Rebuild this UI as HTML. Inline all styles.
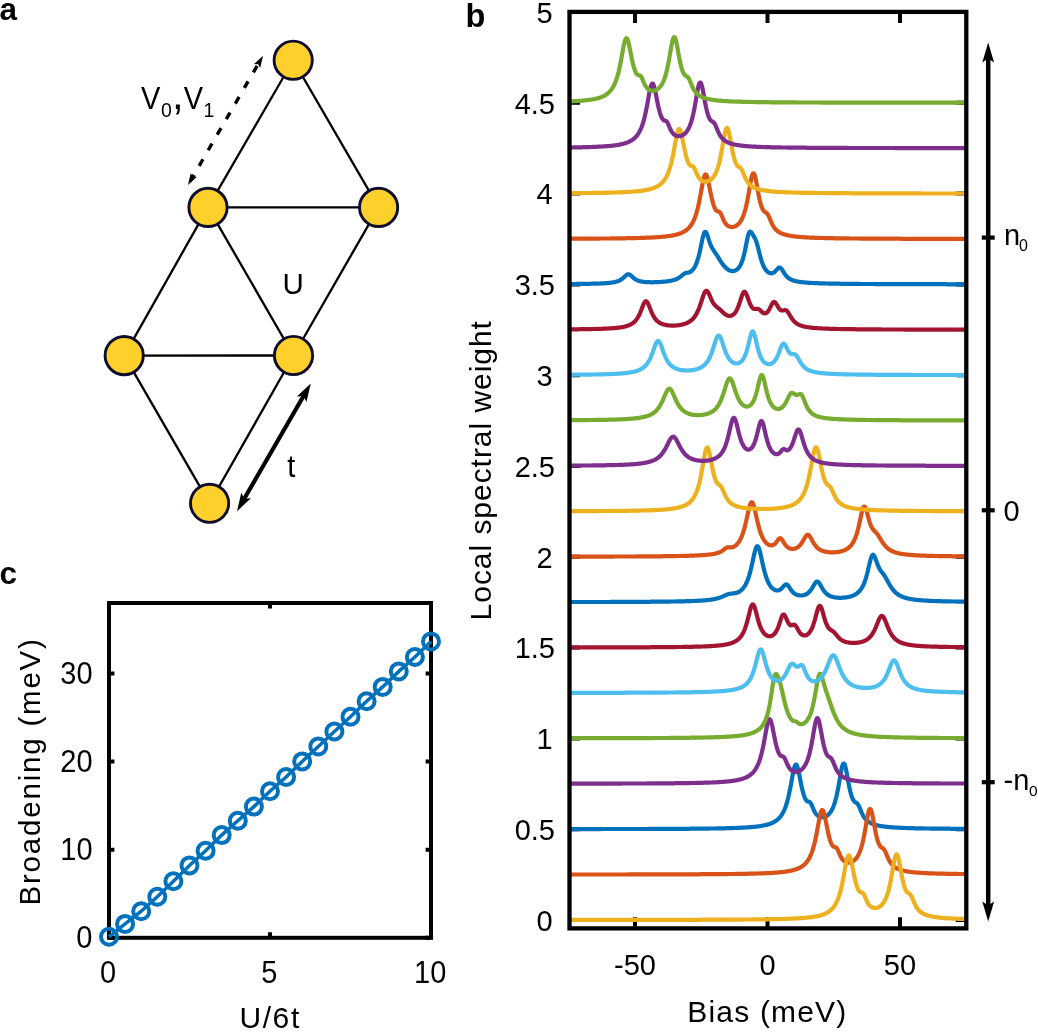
<!DOCTYPE html>
<html><head><meta charset="utf-8"><style>
html,body{margin:0;padding:0;background:#fff;}
body{width:1038px;height:1033px;overflow:hidden;font-family:"Liberation Sans",sans-serif;}
svg{display:block;will-change:transform;}
</style></head><body>
<svg width="1038" height="1033" viewBox="0 0 1038 1033">
<rect width="100%" height="100%" fill="#fff"/>
<g font-family="Liberation Sans, sans-serif" fill="#000">
<text x="-0.5" y="20.3" font-size="31.5" text-anchor="start" font-weight="bold" >a</text>
<line x1="293.2" y1="60.25" x2="208" y2="207.4" stroke="#000" stroke-width="2.3"/>
<line x1="293.2" y1="60.25" x2="378.6" y2="207.4" stroke="#000" stroke-width="2.3"/>
<line x1="208" y1="207.4" x2="378.6" y2="207.4" stroke="#000" stroke-width="2.3"/>
<line x1="208" y1="207.4" x2="124.2" y2="355.6" stroke="#000" stroke-width="2.3"/>
<line x1="208" y1="207.4" x2="293.5" y2="355.5" stroke="#000" stroke-width="2.3"/>
<line x1="378.6" y1="207.4" x2="293.5" y2="355.5" stroke="#000" stroke-width="2.3"/>
<line x1="124.2" y1="355.6" x2="293.5" y2="355.5" stroke="#000" stroke-width="2.3"/>
<line x1="124.2" y1="355.6" x2="209.6" y2="503.3" stroke="#000" stroke-width="2.3"/>
<line x1="293.5" y1="355.5" x2="209.6" y2="503.3" stroke="#000" stroke-width="2.3"/>
<circle cx="293.2" cy="60.25" r="19.1" fill="#FDD02C" stroke="#0f0c2c" stroke-width="2.9"/>
<circle cx="208" cy="207.4" r="19.1" fill="#FDD02C" stroke="#0f0c2c" stroke-width="2.9"/>
<circle cx="378.6" cy="207.4" r="19.1" fill="#FDD02C" stroke="#0f0c2c" stroke-width="2.9"/>
<circle cx="124.2" cy="355.6" r="19.1" fill="#FDD02C" stroke="#0f0c2c" stroke-width="2.9"/>
<circle cx="293.5" cy="355.5" r="19.1" fill="#FDD02C" stroke="#0f0c2c" stroke-width="2.9"/>
<circle cx="209.6" cy="503.3" r="19.1" fill="#FDD02C" stroke="#0f0c2c" stroke-width="2.9"/>
<line x1="243.50" y1="500.04" x2="304.25" y2="394.76" stroke="#000" stroke-width="4.2"/>
<path d="M310.75,383.50 L306.46,402.04 L303.47,396.11 L296.85,396.49 Z" fill="#000"/>
<path d="M237.00,511.30 L241.29,492.76 L244.28,498.69 L250.90,498.31 Z" fill="#000"/>
<line x1="190.11" y1="181.37" x2="257.78" y2="64.79" stroke="#000" stroke-width="3.4" stroke-dasharray="7.6 10.4"/>
<path d="M263.00,55.80 L260.29,67.64 L258.05,64.33 L254.06,64.02 Z" fill="#000"/>
<path d="M188.00,185.00 L190.71,173.16 L192.95,176.47 L196.94,176.78 Z" fill="#000"/>
<text x="141" y="109" font-size="29" text-anchor="start" font-weight="normal" transform="matrix(1 0 0 1.05 0 -5.450)" >V</text>
<text x="161" y="117" font-size="19.5" text-anchor="start" font-weight="normal" >0</text>
<text x="172" y="108.9" font-size="42" text-anchor="start" font-weight="normal" >,</text>
<text x="183.7" y="109" font-size="29" text-anchor="start" font-weight="normal" transform="matrix(1 0 0 1.05 0 -5.450)" >V</text>
<text x="203.6" y="117" font-size="19.5" text-anchor="start" font-weight="normal" >1</text>
<text x="293.2" y="294" font-size="29.5" text-anchor="middle" font-weight="normal" >U</text>
<text x="291.2" y="476.6" font-size="29" text-anchor="middle" font-weight="normal" transform="matrix(1 0 0 1.08 0 -38.128)" >t</text>
<text x="465.5" y="26.6" font-size="32.5" text-anchor="start" font-weight="bold" >b</text>
<path d="M569.5,920.00h10.5 M966.3,920.00h-10.5 M569.5,829.20h10.5 M966.3,829.20h-10.5 M569.5,738.40h10.5 M966.3,738.40h-10.5 M569.5,647.60h10.5 M966.3,647.60h-10.5 M569.5,556.80h10.5 M966.3,556.80h-10.5 M569.5,466.00h10.5 M966.3,466.00h-10.5 M569.5,375.20h10.5 M966.3,375.20h-10.5 M569.5,284.40h10.5 M966.3,284.40h-10.5 M569.5,193.60h10.5 M966.3,193.60h-10.5 M569.5,102.80h10.5 M966.3,102.80h-10.5 M569.5,12.00h10.5 M966.3,12.00h-10.5 M635.00,928.4v-11.2 M635.00,11.9v11.2 M767.50,928.4v-11.2 M767.50,11.9v11.2 M900.00,928.4v-11.2 M900.00,11.9v11.2" stroke="#000" stroke-width="4" fill="none"/>
<polyline points="569.5,829.1 570,829.1 570.5,829.1 571,829.1 571.5,829.1 572,829.1 572.5,829.1 573,829.1 573.5,829.1 574,829.1 574.5,829.1 575,829.1 575.5,829.1 576,829.1 576.5,829.1 577,829.1 577.5,829.1 578,829.1 578.5,829.1 579,829.1 579.5,829.1 580,829.1 580.5,829.1 581,829.1 581.5,829.1 582,829.1 582.5,829.1 583,829.1 583.5,829.1 584,829.1 584.5,829.1 585,829.1 585.5,829.1 586,829.1 586.5,829.1 587,829.1 587.5,829.1 588,829.1 588.5,829.1 589,829.1 589.5,829.1 590,829.1 590.5,829.1 591,829.1 591.5,829.1 592,829.1 592.5,829.1 593,829.1 593.5,829.1 594,829.1 594.5,829.1 595,829.1 595.5,829.1 596,829.1 596.5,829.1 597,829.1 597.5,829.1 598,829.1 598.5,829.1 599,829.1 599.5,829.1 600,829.1 600.5,829.1 601,829.1 601.5,829.0 602,829.0 602.5,829.0 603,829.0 603.5,829.0 604,829.0 604.5,829.0 605,829.0 605.5,829.0 606,829.0 606.5,829.0 607,829.0 607.5,829.0 608,829.0 608.5,829.0 609,829.0 609.5,829.0 610,829.0 610.5,829.0 611,829.0 611.5,829.0 612,829.0 612.5,829.0 613,829.0 613.5,829.0 614,829.0 614.5,829.0 615,829.0 615.5,829.0 616,829.0 616.5,829.0 617,829.0 617.5,829.0 618,829.0 618.5,829.0 619,829.0 619.5,829.0 620,829.0 620.5,829.0 621,829.0 621.5,829.0 622,829.0 622.5,829.0 623,829.0 623.5,829.0 624,829.0 624.5,829.0 625,829.0 625.5,829.0 626,829.0 626.5,829.0 627,829.0 627.5,829.0 628,829.0 628.5,829.0 629,829.0 629.5,829.0 630,829.0 630.5,829.0 631,829.0 631.5,829.0 632,829.0 632.5,829.0 633,829.0 633.5,829.0 634,829.0 634.5,829.0 635,829.0 635.5,829.0 636,829.0 636.5,829.0 637,829.0 637.5,829.0 638,829.0 638.5,829.0 639,829.0 639.5,829.0 640,829.0 640.5,829.0 641,829.0 641.5,829.0 642,829.0 642.5,829.0 643,829.0 643.5,829.0 644,829.0 644.5,829.0 645,829.0 645.5,829.0 646,829.0 646.5,829.0 647,829.0 647.5,829.0 648,829.0 648.5,829.0 649,828.9 649.5,828.9 650,828.9 650.5,828.9 651,828.9 651.5,828.9 652,828.9 652.5,828.9 653,828.9 653.5,828.9 654,828.9 654.5,828.9 655,828.9 655.5,828.9 656,828.9 656.5,828.9 657,828.9 657.5,828.9 658,828.9 658.5,828.9 659,828.9 659.5,828.9 660,828.9 660.5,828.9 661,828.9 661.5,828.9 662,828.9 662.5,828.9 663,828.9 663.5,828.9 664,828.9 664.5,828.9 665,828.9 665.5,828.9 666,828.9 666.5,828.9 667,828.9 667.5,828.9 668,828.9 668.5,828.9 669,828.9 669.5,828.9 670,828.9 670.5,828.9 671,828.9 671.5,828.9 672,828.9 672.5,828.9 673,828.9 673.5,828.9 674,828.8 674.5,828.8 675,828.8 675.5,828.8 676,828.8 676.5,828.8 677,828.8 677.5,828.8 678,828.8 678.5,828.8 679,828.8 679.5,828.8 680,828.8 680.5,828.8 681,828.8 681.5,828.8 682,828.8 682.5,828.8 683,828.8 683.5,828.8 684,828.8 684.5,828.8 685,828.8 685.5,828.8 686,828.8 686.5,828.8 687,828.8 687.5,828.8 688,828.8 688.5,828.8 689,828.8 689.5,828.8 690,828.7 690.5,828.7 691,828.7 691.5,828.7 692,828.7 692.5,828.7 693,828.7 693.5,828.7 694,828.7 694.5,828.7 695,828.7 695.5,828.7 696,828.7 696.5,828.7 697,828.7 697.5,828.7 698,828.7 698.5,828.7 699,828.7 699.5,828.7 700,828.7 700.5,828.7 701,828.6 701.5,828.6 702,828.6 702.5,828.6 703,828.6 703.5,828.6 704,828.6 704.5,828.6 705,828.6 705.5,828.6 706,828.6 706.5,828.6 707,828.6 707.5,828.6 708,828.6 708.5,828.6 709,828.6 709.5,828.5 710,828.5 710.5,828.5 711,828.5 711.5,828.5 712,828.5 712.5,828.5 713,828.5 713.5,828.5 714,828.5 714.5,828.5 715,828.5 715.5,828.5 716,828.5 716.5,828.4 717,828.4 717.5,828.4 718,828.4 718.5,828.4 719,828.4 719.5,828.4 720,828.4 720.5,828.4 721,828.4 721.5,828.3 722,828.3 722.5,828.3 723,828.3 723.5,828.3 724,828.3 724.5,828.3 725,828.3 725.5,828.3 726,828.2 726.5,828.2 727,828.2 727.5,828.2 728,828.2 728.5,828.2 729,828.2 729.5,828.2 730,828.1 730.5,828.1 731,828.1 731.5,828.1 732,828.1 732.5,828.1 733,828.1 733.5,828.0 734,828.0 734.5,828.0 735,828.0 735.5,828.0 736,828.0 736.5,827.9 737,827.9 737.5,827.9 738,827.9 738.5,827.9 739,827.8 739.5,827.8 740,827.8 740.5,827.8 741,827.7 741.5,827.7 742,827.7 742.5,827.7 743,827.6 743.5,827.6 744,827.6 744.5,827.6 745,827.5 745.5,827.5 746,827.5 746.5,827.4 747,827.4 747.5,827.4 748,827.3 748.5,827.3 749,827.3 749.5,827.2 750,827.2 750.5,827.2 751,827.1 751.5,827.1 752,827.0 752.5,827.0 753,827.0 753.5,826.9 754,826.9 754.5,826.8 755,826.8 755.5,826.7 756,826.6 756.5,826.6 757,826.5 757.5,826.5 758,826.4 758.5,826.3 759,826.3 759.5,826.2 760,826.1 760.5,826.1 761,826.0 761.5,825.9 762,825.8 762.5,825.7 763,825.6 763.5,825.5 764,825.4 764.5,825.3 765,825.2 765.5,825.1 766,825.0 766.5,824.9 767,824.7 767.5,824.6 768,824.4 768.5,824.3 769,824.1 769.5,824.0 770,823.8 770.5,823.6 771,823.4 771.5,823.2 772,823.0 772.5,822.8 773,822.5 773.5,822.3 774,822.0 774.5,821.7 775,821.4 775.5,821.1 776,820.8 776.5,820.4 777,820.0 777.5,819.6 778,819.2 778.5,818.7 779,818.2 779.5,817.7 780,817.1 780.5,816.5 781,815.8 781.5,815.1 782,814.3 782.5,813.5 783,812.6 783.5,811.7 784,810.6 784.5,809.5 785,808.3 785.5,807.0 786,805.5 786.5,804.0 787,802.3 787.5,800.5 788,798.6 788.5,796.5 789,794.3 789.5,791.9 790,789.4 790.5,786.8 791,784.1 791.5,781.3 792,778.5 792.5,775.7 793,773.1 793.5,770.7 794,768.6 794.5,766.8 795,765.6 795.5,764.8 796,764.6 796.5,764.9 797,765.8 797.5,767.2 798,769.0 798.5,771.1 799,773.5 799.5,775.9 800,778.5 800.5,781.1 801,783.6 801.5,786.0 802,788.2 802.5,790.4 803,792.3 803.5,794.1 804,795.6 804.5,797.0 805,798.2 805.5,799.2 806,800.0 806.5,800.6 807,801.1 807.5,801.4 808,801.5 808.5,801.7 809,801.8 809.5,801.9 810,802.3 810.5,802.9 811,803.6 811.5,804.6 812,805.8 812.5,807.0 813,808.2 813.5,809.4 814,810.5 814.5,811.4 815,812.3 815.5,813.1 816,813.8 816.5,814.4 817,815.0 817.5,815.4 818,815.8 818.5,816.2 819,816.4 819.5,816.7 820,816.9 820.5,817.0 821,817.1 821.5,817.2 822,817.2 822.5,817.2 823,817.2 823.5,817.1 824,817.0 824.5,816.9 825,816.7 825.5,816.5 826,816.3 826.5,816.0 827,815.7 827.5,815.3 828,814.9 828.5,814.5 829,814.0 829.5,813.4 830,812.8 830.5,812.1 831,811.3 831.5,810.5 832,809.6 832.5,808.6 833,807.5 833.5,806.3 834,804.9 834.5,803.5 835,801.9 835.5,800.1 836,798.2 836.5,796.2 837,793.9 837.5,791.5 838,789.0 838.5,786.3 839,783.4 839.5,780.5 840,777.6 840.5,774.7 841,771.9 841.5,769.3 842,767.1 842.5,765.4 843,764.2 843.5,763.5 844,763.6 844.5,764.2 845,765.5 845.5,767.3 846,769.4 846.5,771.9 847,774.6 847.5,777.4 848,780.2 848.5,782.9 849,785.5 849.5,787.9 850,790.2 850.5,792.3 851,794.1 851.5,795.8 852,797.3 852.5,798.5 853,799.5 853.5,800.4 854,801.1 854.5,801.6 855,802.0 855.5,802.3 856,802.6 856.5,802.9 857,803.3 857.5,803.8 858,804.5 858.5,805.3 859,806.3 859.5,807.4 860,808.6 860.5,809.9 861,811.1 861.5,812.3 862,813.4 862.5,814.4 863,815.4 863.5,816.3 864,817.1 864.5,817.8 865,818.5 865.5,819.1 866,819.6 866.5,820.1 867,820.6 867.5,821.0 868,821.4 868.5,821.8 869,822.1 869.5,822.4 870,822.7 870.5,823.0 871,823.2 871.5,823.5 872,823.7 872.5,823.9 873,824.1 873.5,824.3 874,824.4 874.5,824.6 875,824.7 875.5,824.9 876,825.0 876.5,825.1 877,825.3 877.5,825.4 878,825.5 878.5,825.6 879,825.7 879.5,825.8 880,825.9 880.5,826.0 881,826.1 881.5,826.1 882,826.2 882.5,826.3 883,826.4 883.5,826.4 884,826.5 884.5,826.6 885,826.6 885.5,826.7 886,826.7 886.5,826.8 887,826.9 887.5,826.9 888,827.0 888.5,827.0 889,827.0 889.5,827.1 890,827.1 890.5,827.2 891,827.2 891.5,827.3 892,827.3 892.5,827.3 893,827.4 893.5,827.4 894,827.4 894.5,827.5 895,827.5 895.5,827.5 896,827.6 896.5,827.6 897,827.6 897.5,827.6 898,827.7 898.5,827.7 899,827.7 899.5,827.7 900,827.8 900.5,827.8 901,827.8 901.5,827.8 902,827.9 902.5,827.9 903,827.9 903.5,827.9 904,827.9 904.5,828.0 905,828.0 905.5,828.0 906,828.0 906.5,828.0 907,828.0 907.5,828.1 908,828.1 908.5,828.1 909,828.1 909.5,828.1 910,828.1 910.5,828.1 911,828.2 911.5,828.2 912,828.2 912.5,828.2 913,828.2 913.5,828.2 914,828.2 914.5,828.3 915,828.3 915.5,828.3 916,828.3 916.5,828.3 917,828.3 917.5,828.3 918,828.3 918.5,828.3 919,828.4 919.5,828.4 920,828.4 920.5,828.4 921,828.4 921.5,828.4 922,828.4 922.5,828.4 923,828.4 923.5,828.4 924,828.4 924.5,828.5 925,828.5 925.5,828.5 926,828.5 926.5,828.5 927,828.5 927.5,828.5 928,828.5 928.5,828.5 929,828.5 929.5,828.5 930,828.5 930.5,828.5 931,828.6 931.5,828.6 932,828.6 932.5,828.6 933,828.6 933.5,828.6 934,828.6 934.5,828.6 935,828.6 935.5,828.6 936,828.6 936.5,828.6 937,828.6 937.5,828.6 938,828.6 938.5,828.6 939,828.6 939.5,828.7 940,828.7 940.5,828.7 941,828.7 941.5,828.7 942,828.7 942.5,828.7 943,828.7 943.5,828.7 944,828.7 944.5,828.7 945,828.7 945.5,828.7 946,828.7 946.5,828.7 947,828.7 947.5,828.7 948,828.7 948.5,828.7 949,828.7 949.5,828.7 950,828.7 950.5,828.8 951,828.8 951.5,828.8 952,828.8 952.5,828.8 953,828.8 953.5,828.8 954,828.8 954.5,828.8 955,828.8 955.5,828.8 956,828.8 956.5,828.8 957,828.8 957.5,828.8 958,828.8 958.5,828.8 959,828.8 959.5,828.8 960,828.8 960.5,828.8 961,828.8 961.5,828.8 962,828.8 962.5,828.8 963,828.8 963.5,828.8 964,828.8 964.5,828.8 965,828.8 965.5,828.8 966,828.8" fill="none" stroke="#0072BD" stroke-width="4.2" stroke-linejoin="round" stroke-linecap="butt"/>
<polyline points="569.5,874.5 570,874.5 570.5,874.5 571,874.5 571.5,874.5 572,874.5 572.5,874.5 573,874.5 573.5,874.5 574,874.5 574.5,874.5 575,874.5 575.5,874.5 576,874.5 576.5,874.5 577,874.5 577.5,874.5 578,874.5 578.5,874.5 579,874.5 579.5,874.5 580,874.5 580.5,874.5 581,874.5 581.5,874.5 582,874.5 582.5,874.5 583,874.5 583.5,874.5 584,874.5 584.5,874.5 585,874.5 585.5,874.5 586,874.5 586.5,874.5 587,874.5 587.5,874.5 588,874.5 588.5,874.5 589,874.5 589.5,874.5 590,874.5 590.5,874.5 591,874.5 591.5,874.5 592,874.5 592.5,874.5 593,874.5 593.5,874.5 594,874.5 594.5,874.5 595,874.5 595.5,874.5 596,874.5 596.5,874.5 597,874.5 597.5,874.5 598,874.5 598.5,874.5 599,874.5 599.5,874.5 600,874.5 600.5,874.5 601,874.5 601.5,874.5 602,874.5 602.5,874.5 603,874.5 603.5,874.5 604,874.5 604.5,874.5 605,874.5 605.5,874.5 606,874.5 606.5,874.5 607,874.5 607.5,874.5 608,874.5 608.5,874.5 609,874.5 609.5,874.5 610,874.5 610.5,874.5 611,874.5 611.5,874.5 612,874.5 612.5,874.5 613,874.5 613.5,874.5 614,874.5 614.5,874.5 615,874.5 615.5,874.5 616,874.5 616.5,874.5 617,874.5 617.5,874.5 618,874.5 618.5,874.5 619,874.5 619.5,874.5 620,874.5 620.5,874.5 621,874.5 621.5,874.5 622,874.5 622.5,874.5 623,874.5 623.5,874.5 624,874.5 624.5,874.5 625,874.5 625.5,874.5 626,874.5 626.5,874.5 627,874.5 627.5,874.5 628,874.4 628.5,874.4 629,874.4 629.5,874.4 630,874.4 630.5,874.4 631,874.4 631.5,874.4 632,874.4 632.5,874.4 633,874.4 633.5,874.4 634,874.4 634.5,874.4 635,874.4 635.5,874.4 636,874.4 636.5,874.4 637,874.4 637.5,874.4 638,874.4 638.5,874.4 639,874.4 639.5,874.4 640,874.4 640.5,874.4 641,874.4 641.5,874.4 642,874.4 642.5,874.4 643,874.4 643.5,874.4 644,874.4 644.5,874.4 645,874.4 645.5,874.4 646,874.4 646.5,874.4 647,874.4 647.5,874.4 648,874.4 648.5,874.4 649,874.4 649.5,874.4 650,874.4 650.5,874.4 651,874.4 651.5,874.4 652,874.4 652.5,874.4 653,874.4 653.5,874.4 654,874.4 654.5,874.4 655,874.4 655.5,874.4 656,874.4 656.5,874.4 657,874.4 657.5,874.4 658,874.4 658.5,874.4 659,874.4 659.5,874.4 660,874.4 660.5,874.4 661,874.4 661.5,874.4 662,874.4 662.5,874.4 663,874.4 663.5,874.4 664,874.4 664.5,874.4 665,874.4 665.5,874.4 666,874.4 666.5,874.4 667,874.4 667.5,874.4 668,874.4 668.5,874.4 669,874.4 669.5,874.4 670,874.4 670.5,874.4 671,874.4 671.5,874.4 672,874.4 672.5,874.4 673,874.4 673.5,874.4 674,874.4 674.5,874.4 675,874.4 675.5,874.3 676,874.3 676.5,874.3 677,874.3 677.5,874.3 678,874.3 678.5,874.3 679,874.3 679.5,874.3 680,874.3 680.5,874.3 681,874.3 681.5,874.3 682,874.3 682.5,874.3 683,874.3 683.5,874.3 684,874.3 684.5,874.3 685,874.3 685.5,874.3 686,874.3 686.5,874.3 687,874.3 687.5,874.3 688,874.3 688.5,874.3 689,874.3 689.5,874.3 690,874.3 690.5,874.3 691,874.3 691.5,874.3 692,874.3 692.5,874.3 693,874.3 693.5,874.3 694,874.3 694.5,874.3 695,874.3 695.5,874.3 696,874.3 696.5,874.3 697,874.3 697.5,874.3 698,874.3 698.5,874.3 699,874.3 699.5,874.3 700,874.2 700.5,874.2 701,874.2 701.5,874.2 702,874.2 702.5,874.2 703,874.2 703.5,874.2 704,874.2 704.5,874.2 705,874.2 705.5,874.2 706,874.2 706.5,874.2 707,874.2 707.5,874.2 708,874.2 708.5,874.2 709,874.2 709.5,874.2 710,874.2 710.5,874.2 711,874.2 711.5,874.2 712,874.2 712.5,874.2 713,874.2 713.5,874.2 714,874.2 714.5,874.2 715,874.2 715.5,874.2 716,874.1 716.5,874.1 717,874.1 717.5,874.1 718,874.1 718.5,874.1 719,874.1 719.5,874.1 720,874.1 720.5,874.1 721,874.1 721.5,874.1 722,874.1 722.5,874.1 723,874.1 723.5,874.1 724,874.1 724.5,874.1 725,874.1 725.5,874.1 726,874.1 726.5,874.1 727,874.1 727.5,874.0 728,874.0 728.5,874.0 729,874.0 729.5,874.0 730,874.0 730.5,874.0 731,874.0 731.5,874.0 732,874.0 732.5,874.0 733,874.0 733.5,874.0 734,874.0 734.5,874.0 735,874.0 735.5,874.0 736,873.9 736.5,873.9 737,873.9 737.5,873.9 738,873.9 738.5,873.9 739,873.9 739.5,873.9 740,873.9 740.5,873.9 741,873.9 741.5,873.9 742,873.9 742.5,873.8 743,873.8 743.5,873.8 744,873.8 744.5,873.8 745,873.8 745.5,873.8 746,873.8 746.5,873.8 747,873.8 747.5,873.8 748,873.7 748.5,873.7 749,873.7 749.5,873.7 750,873.7 750.5,873.7 751,873.7 751.5,873.7 752,873.7 752.5,873.6 753,873.6 753.5,873.6 754,873.6 754.5,873.6 755,873.6 755.5,873.6 756,873.6 756.5,873.5 757,873.5 757.5,873.5 758,873.5 758.5,873.5 759,873.5 759.5,873.4 760,873.4 760.5,873.4 761,873.4 761.5,873.4 762,873.4 762.5,873.3 763,873.3 763.5,873.3 764,873.3 764.5,873.3 765,873.2 765.5,873.2 766,873.2 766.5,873.2 767,873.2 767.5,873.1 768,873.1 768.5,873.1 769,873.1 769.5,873.0 770,873.0 770.5,873.0 771,873.0 771.5,872.9 772,872.9 772.5,872.9 773,872.8 773.5,872.8 774,872.8 774.5,872.7 775,872.7 775.5,872.7 776,872.6 776.5,872.6 777,872.6 777.5,872.5 778,872.5 778.5,872.4 779,872.4 779.5,872.3 780,872.3 780.5,872.2 781,872.2 781.5,872.1 782,872.1 782.5,872.0 783,872.0 783.5,871.9 784,871.9 784.5,871.8 785,871.7 785.5,871.7 786,871.6 786.5,871.5 787,871.4 787.5,871.3 788,871.3 788.5,871.2 789,871.1 789.5,871.0 790,870.9 790.5,870.8 791,870.7 791.5,870.6 792,870.5 792.5,870.3 793,870.2 793.5,870.1 794,869.9 794.5,869.8 795,869.6 795.5,869.5 796,869.3 796.5,869.1 797,869.0 797.5,868.8 798,868.5 798.5,868.3 799,868.1 799.5,867.9 800,867.6 800.5,867.3 801,867.0 801.5,866.7 802,866.4 802.5,866.1 803,865.7 803.5,865.3 804,864.9 804.5,864.4 805,864.0 805.5,863.5 806,862.9 806.5,862.3 807,861.7 807.5,861.0 808,860.3 808.5,859.5 809,858.7 809.5,857.7 810,856.8 810.5,855.7 811,854.5 811.5,853.3 812,851.9 812.5,850.5 813,848.9 813.5,847.2 814,845.3 814.5,843.4 815,841.2 815.5,839.0 816,836.6 816.5,834.0 817,831.4 817.5,828.6 818,825.8 818.5,823.1 819,820.3 819.5,817.8 820,815.4 820.5,813.4 821,811.8 821.5,810.7 822,810.1 822.5,810.0 823,810.5 823.5,811.6 824,813.1 824.5,815.0 825,817.2 825.5,819.6 826,822.1 826.5,824.7 827,827.2 827.5,829.7 828,832.1 828.5,834.3 829,836.4 829.5,838.2 830,840.0 830.5,841.5 831,842.8 831.5,843.9 832,844.9 832.5,845.6 833,846.2 833.5,846.6 834,846.8 834.5,847.0 835,847.1 835.5,847.2 836,847.4 836.5,847.8 837,848.5 837.5,849.3 838,850.4 838.5,851.5 839,852.7 839.5,853.9 840,855.1 840.5,856.2 841,857.1 841.5,858.0 842,858.8 842.5,859.4 843,860.0 843.5,860.5 844,861.0 844.5,861.3 845,861.7 845.5,861.9 846,862.1 846.5,862.3 847,862.4 847.5,862.5 848,862.6 848.5,862.6 849,862.6 849.5,862.6 850,862.5 850.5,862.4 851,862.2 851.5,862.1 852,861.9 852.5,861.6 853,861.3 853.5,861.0 854,860.6 854.5,860.2 855,859.7 855.5,859.2 856,858.6 856.5,858.0 857,857.3 857.5,856.5 858,855.6 858.5,854.7 859,853.7 859.5,852.5 860,851.3 860.5,849.9 861,848.4 861.5,846.8 862,845.0 862.5,843.0 863,840.9 863.5,838.6 864,836.2 864.5,833.6 865,830.8 865.5,828.0 866,825.0 866.5,822.1 867,819.2 867.5,816.5 868,814.0 868.5,812.0 869,810.4 869.5,809.3 870,808.9 870.5,809.1 871,810.0 871.5,811.4 872,813.3 872.5,815.6 873,818.1 873.5,820.8 874,823.6 874.5,826.4 875,829.1 875.5,831.6 876,834.0 876.5,836.3 877,838.3 877.5,840.1 878,841.7 878.5,843.1 879,844.2 879.5,845.2 880,846.0 880.5,846.7 881,847.1 881.5,847.5 882,847.8 882.5,848.1 883,848.4 883.5,848.8 884,849.4 884.5,850.1 885,851.0 885.5,852.0 886,853.2 886.5,854.4 887,855.6 887.5,856.9 888,858.0 888.5,859.1 889,860.1 889.5,861.1 890,861.9 890.5,862.7 891,863.4 891.5,864.1 892,864.6 892.5,865.2 893,865.7 893.5,866.1 894,866.5 894.5,866.9 895,867.3 895.5,867.6 896,867.9 896.5,868.2 897,868.5 897.5,868.7 898,868.9 898.5,869.1 899,869.3 899.5,869.5 900,869.7 900.5,869.9 901,870.0 901.5,870.2 902,870.3 902.5,870.5 903,870.6 903.5,870.7 904,870.8 904.5,870.9 905,871.0 905.5,871.1 906,871.2 906.5,871.3 907,871.4 907.5,871.5 908,871.6 908.5,871.6 909,871.7 909.5,871.8 910,871.9 910.5,871.9 911,872.0 911.5,872.0 912,872.1 912.5,872.2 913,872.2 913.5,872.3 914,872.3 914.5,872.4 915,872.4 915.5,872.5 916,872.5 916.5,872.5 917,872.6 917.5,872.6 918,872.7 918.5,872.7 919,872.7 919.5,872.8 920,872.8 920.5,872.8 921,872.9 921.5,872.9 922,872.9 922.5,873.0 923,873.0 923.5,873.0 924,873.0 924.5,873.1 925,873.1 925.5,873.1 926,873.1 926.5,873.2 927,873.2 927.5,873.2 928,873.2 928.5,873.3 929,873.3 929.5,873.3 930,873.3 930.5,873.3 931,873.4 931.5,873.4 932,873.4 932.5,873.4 933,873.4 933.5,873.4 934,873.5 934.5,873.5 935,873.5 935.5,873.5 936,873.5 936.5,873.5 937,873.6 937.5,873.6 938,873.6 938.5,873.6 939,873.6 939.5,873.6 940,873.6 940.5,873.6 941,873.7 941.5,873.7 942,873.7 942.5,873.7 943,873.7 943.5,873.7 944,873.7 944.5,873.7 945,873.7 945.5,873.8 946,873.8 946.5,873.8 947,873.8 947.5,873.8 948,873.8 948.5,873.8 949,873.8 949.5,873.8 950,873.8 950.5,873.8 951,873.9 951.5,873.9 952,873.9 952.5,873.9 953,873.9 953.5,873.9 954,873.9 954.5,873.9 955,873.9 955.5,873.9 956,873.9 956.5,873.9 957,873.9 957.5,874.0 958,874.0 958.5,874.0 959,874.0 959.5,874.0 960,874.0 960.5,874.0 961,874.0 961.5,874.0 962,874.0 962.5,874.0 963,874.0 963.5,874.0 964,874.0 964.5,874.0 965,874.0 965.5,874.0 966,874.1" fill="none" stroke="#D95319" stroke-width="4.2" stroke-linejoin="round" stroke-linecap="butt"/>
<polyline points="569.5,919.9 570,919.9 570.5,919.9 571,919.9 571.5,919.9 572,919.9 572.5,919.9 573,919.9 573.5,919.9 574,919.9 574.5,919.9 575,919.9 575.5,919.9 576,919.9 576.5,919.9 577,919.9 577.5,919.9 578,919.9 578.5,919.9 579,919.9 579.5,919.9 580,919.9 580.5,919.9 581,919.9 581.5,919.9 582,919.9 582.5,919.9 583,919.9 583.5,919.9 584,919.9 584.5,919.9 585,919.9 585.5,919.9 586,919.9 586.5,919.9 587,919.9 587.5,919.9 588,919.9 588.5,919.9 589,919.9 589.5,919.9 590,919.9 590.5,919.9 591,919.9 591.5,919.9 592,919.9 592.5,919.9 593,919.9 593.5,919.9 594,919.9 594.5,919.9 595,919.9 595.5,919.9 596,919.9 596.5,919.9 597,919.9 597.5,919.9 598,919.9 598.5,919.9 599,919.9 599.5,919.9 600,919.9 600.5,919.9 601,919.9 601.5,919.9 602,919.9 602.5,919.9 603,919.9 603.5,919.9 604,919.9 604.5,919.9 605,919.9 605.5,919.9 606,919.9 606.5,919.9 607,919.9 607.5,919.9 608,919.9 608.5,919.9 609,919.9 609.5,919.9 610,919.9 610.5,919.9 611,919.9 611.5,919.9 612,919.9 612.5,919.9 613,919.9 613.5,919.9 614,919.9 614.5,919.9 615,919.9 615.5,919.9 616,919.9 616.5,919.9 617,919.9 617.5,919.9 618,919.9 618.5,919.9 619,919.9 619.5,919.9 620,919.9 620.5,919.9 621,919.9 621.5,919.9 622,919.9 622.5,919.9 623,919.9 623.5,919.9 624,919.9 624.5,919.9 625,919.9 625.5,919.9 626,919.9 626.5,919.9 627,919.9 627.5,919.9 628,919.9 628.5,919.9 629,919.9 629.5,919.9 630,919.9 630.5,919.9 631,919.9 631.5,919.9 632,919.9 632.5,919.9 633,919.9 633.5,919.9 634,919.9 634.5,919.9 635,919.9 635.5,919.9 636,919.9 636.5,919.9 637,919.9 637.5,919.9 638,919.9 638.5,919.9 639,919.9 639.5,919.9 640,919.9 640.5,919.9 641,919.9 641.5,919.9 642,919.9 642.5,919.9 643,919.9 643.5,919.9 644,919.9 644.5,919.9 645,919.9 645.5,919.9 646,919.9 646.5,919.9 647,919.9 647.5,919.9 648,919.9 648.5,919.9 649,919.9 649.5,919.9 650,919.9 650.5,919.9 651,919.9 651.5,919.9 652,919.9 652.5,919.9 653,919.9 653.5,919.9 654,919.9 654.5,919.8 655,919.8 655.5,919.8 656,919.8 656.5,919.8 657,919.8 657.5,919.8 658,919.8 658.5,919.8 659,919.8 659.5,919.8 660,919.8 660.5,919.8 661,919.8 661.5,919.8 662,919.8 662.5,919.8 663,919.8 663.5,919.8 664,919.8 664.5,919.8 665,919.8 665.5,919.8 666,919.8 666.5,919.8 667,919.8 667.5,919.8 668,919.8 668.5,919.8 669,919.8 669.5,919.8 670,919.8 670.5,919.8 671,919.8 671.5,919.8 672,919.8 672.5,919.8 673,919.8 673.5,919.8 674,919.8 674.5,919.8 675,919.8 675.5,919.8 676,919.8 676.5,919.8 677,919.8 677.5,919.8 678,919.8 678.5,919.8 679,919.8 679.5,919.8 680,919.8 680.5,919.8 681,919.8 681.5,919.8 682,919.8 682.5,919.8 683,919.8 683.5,919.8 684,919.8 684.5,919.8 685,919.8 685.5,919.8 686,919.8 686.5,919.8 687,919.8 687.5,919.8 688,919.8 688.5,919.8 689,919.8 689.5,919.8 690,919.8 690.5,919.8 691,919.8 691.5,919.8 692,919.8 692.5,919.8 693,919.8 693.5,919.8 694,919.8 694.5,919.8 695,919.8 695.5,919.8 696,919.8 696.5,919.8 697,919.8 697.5,919.8 698,919.8 698.5,919.8 699,919.8 699.5,919.8 700,919.8 700.5,919.8 701,919.8 701.5,919.8 702,919.7 702.5,919.7 703,919.7 703.5,919.7 704,919.7 704.5,919.7 705,919.7 705.5,919.7 706,919.7 706.5,919.7 707,919.7 707.5,919.7 708,919.7 708.5,919.7 709,919.7 709.5,919.7 710,919.7 710.5,919.7 711,919.7 711.5,919.7 712,919.7 712.5,919.7 713,919.7 713.5,919.7 714,919.7 714.5,919.7 715,919.7 715.5,919.7 716,919.7 716.5,919.7 717,919.7 717.5,919.7 718,919.7 718.5,919.7 719,919.7 719.5,919.7 720,919.7 720.5,919.7 721,919.7 721.5,919.7 722,919.7 722.5,919.7 723,919.7 723.5,919.7 724,919.7 724.5,919.7 725,919.7 725.5,919.7 726,919.7 726.5,919.7 727,919.6 727.5,919.6 728,919.6 728.5,919.6 729,919.6 729.5,919.6 730,919.6 730.5,919.6 731,919.6 731.5,919.6 732,919.6 732.5,919.6 733,919.6 733.5,919.6 734,919.6 734.5,919.6 735,919.6 735.5,919.6 736,919.6 736.5,919.6 737,919.6 737.5,919.6 738,919.6 738.5,919.6 739,919.6 739.5,919.6 740,919.6 740.5,919.6 741,919.6 741.5,919.6 742,919.6 742.5,919.5 743,919.5 743.5,919.5 744,919.5 744.5,919.5 745,919.5 745.5,919.5 746,919.5 746.5,919.5 747,919.5 747.5,919.5 748,919.5 748.5,919.5 749,919.5 749.5,919.5 750,919.5 750.5,919.5 751,919.5 751.5,919.5 752,919.5 752.5,919.5 753,919.5 753.5,919.5 754,919.4 754.5,919.4 755,919.4 755.5,919.4 756,919.4 756.5,919.4 757,919.4 757.5,919.4 758,919.4 758.5,919.4 759,919.4 759.5,919.4 760,919.4 760.5,919.4 761,919.4 761.5,919.4 762,919.4 762.5,919.3 763,919.3 763.5,919.3 764,919.3 764.5,919.3 765,919.3 765.5,919.3 766,919.3 766.5,919.3 767,919.3 767.5,919.3 768,919.3 768.5,919.3 769,919.2 769.5,919.2 770,919.2 770.5,919.2 771,919.2 771.5,919.2 772,919.2 772.5,919.2 773,919.2 773.5,919.2 774,919.2 774.5,919.1 775,919.1 775.5,919.1 776,919.1 776.5,919.1 777,919.1 777.5,919.1 778,919.1 778.5,919.1 779,919.0 779.5,919.0 780,919.0 780.5,919.0 781,919.0 781.5,919.0 782,919.0 782.5,919.0 783,918.9 783.5,918.9 784,918.9 784.5,918.9 785,918.9 785.5,918.9 786,918.9 786.5,918.8 787,918.8 787.5,918.8 788,918.8 788.5,918.8 789,918.7 789.5,918.7 790,918.7 790.5,918.7 791,918.7 791.5,918.6 792,918.6 792.5,918.6 793,918.6 793.5,918.6 794,918.5 794.5,918.5 795,918.5 795.5,918.5 796,918.4 796.5,918.4 797,918.4 797.5,918.4 798,918.3 798.5,918.3 799,918.3 799.5,918.2 800,918.2 800.5,918.2 801,918.1 801.5,918.1 802,918.1 802.5,918.0 803,918.0 803.5,918.0 804,917.9 804.5,917.9 805,917.8 805.5,917.8 806,917.7 806.5,917.7 807,917.6 807.5,917.6 808,917.5 808.5,917.5 809,917.4 809.5,917.4 810,917.3 810.5,917.3 811,917.2 811.5,917.1 812,917.1 812.5,917.0 813,916.9 813.5,916.8 814,916.8 814.5,916.7 815,916.6 815.5,916.5 816,916.4 816.5,916.3 817,916.2 817.5,916.1 818,916.0 818.5,915.9 819,915.8 819.5,915.6 820,915.5 820.5,915.4 821,915.2 821.5,915.1 822,914.9 822.5,914.7 823,914.6 823.5,914.4 824,914.2 824.5,914.0 825,913.8 825.5,913.5 826,913.3 826.5,913.0 827,912.8 827.5,912.5 828,912.2 828.5,911.8 829,911.5 829.5,911.1 830,910.7 830.5,910.3 831,909.9 831.5,909.4 832,908.9 832.5,908.4 833,907.8 833.5,907.2 834,906.5 834.5,905.8 835,905.0 835.5,904.1 836,903.2 836.5,902.3 837,901.2 837.5,900.1 838,898.8 838.5,897.5 839,896.0 839.5,894.5 840,892.8 840.5,890.9 841,889.0 841.5,886.9 842,884.6 842.5,882.2 843,879.7 843.5,877.0 844,874.3 844.5,871.5 845,868.7 845.5,866.0 846,863.4 846.5,861.1 847,859.0 847.5,857.3 848,856.2 848.5,855.5 849,855.4 849.5,855.9 850,856.9 850.5,858.3 851,860.2 851.5,862.4 852,864.7 852.5,867.3 853,869.8 853.5,872.4 854,874.9 854.5,877.2 855,879.5 855.5,881.6 856,883.5 856.5,885.2 857,886.7 857.5,888.1 858,889.2 858.5,890.2 859,890.9 859.5,891.5 860,891.9 860.5,892.2 861,892.4 861.5,892.5 862,892.6 862.5,892.8 863,893.2 863.5,893.8 864,894.6 864.5,895.6 865,896.8 865.5,898.0 866,899.2 866.5,900.4 867,901.5 867.5,902.4 868,903.3 868.5,904.1 869,904.8 869.5,905.4 870,905.9 870.5,906.3 871,906.7 871.5,907.0 872,907.3 872.5,907.5 873,907.7 873.5,907.8 874,907.9 874.5,908.0 875,908.0 875.5,908.0 876,908.0 876.5,907.9 877,907.8 877.5,907.7 878,907.5 878.5,907.3 879,907.0 879.5,906.7 880,906.4 880.5,906.0 881,905.6 881.5,905.2 882,904.7 882.5,904.1 883,903.4 883.5,902.7 884,902.0 884.5,901.1 885,900.2 885.5,899.2 886,898.0 886.5,896.8 887,895.4 887.5,894.0 888,892.3 888.5,890.6 889,888.6 889.5,886.5 890,884.3 890.5,881.8 891,879.2 891.5,876.5 892,873.6 892.5,870.7 893,867.8 893.5,864.9 894,862.2 894.5,859.7 895,857.6 895.5,855.9 896,854.8 896.5,854.3 897,854.5 897.5,855.2 898,856.6 898.5,858.5 899,860.7 899.5,863.3 900,866.0 900.5,868.7 901,871.5 901.5,874.2 902,876.8 902.5,879.2 903,881.4 903.5,883.5 904,885.3 904.5,886.9 905,888.3 905.5,889.5 906,890.5 906.5,891.4 907,892.0 907.5,892.5 908,892.9 908.5,893.2 909,893.5 909.5,893.8 910,894.2 910.5,894.7 911,895.4 911.5,896.3 912,897.3 912.5,898.5 913,899.7 913.5,900.9 914,902.1 914.5,903.3 915,904.4 915.5,905.4 916,906.4 916.5,907.2 917,908.0 917.5,908.7 918,909.4 918.5,910.0 919,910.5 919.5,911.0 920,911.5 920.5,911.9 921,912.3 921.5,912.6 922,913.0 922.5,913.3 923,913.6 923.5,913.8 924,914.1 924.5,914.3 925,914.5 925.5,914.7 926,914.9 926.5,915.1 927,915.3 927.5,915.4 928,915.6 928.5,915.7 929,915.8 929.5,916.0 930,916.1 930.5,916.2 931,916.3 931.5,916.4 932,916.5 932.5,916.6 933,916.7 933.5,916.8 934,916.9 934.5,917.0 935,917.0 935.5,917.1 936,917.2 936.5,917.3 937,917.3 937.5,917.4 938,917.4 938.5,917.5 939,917.6 939.5,917.6 940,917.7 940.5,917.7 941,917.8 941.5,917.8 942,917.9 942.5,917.9 943,917.9 943.5,918.0 944,918.0 944.5,918.1 945,918.1 945.5,918.1 946,918.2 946.5,918.2 947,918.2 947.5,918.3 948,918.3 948.5,918.3 949,918.4 949.5,918.4 950,918.4 950.5,918.4 951,918.5 951.5,918.5 952,918.5 952.5,918.5 953,918.6 953.5,918.6 954,918.6 954.5,918.6 955,918.7 955.5,918.7 956,918.7 956.5,918.7 957,918.7 957.5,918.8 958,918.8 958.5,918.8 959,918.8 959.5,918.8 960,918.8 960.5,918.9 961,918.9 961.5,918.9 962,918.9 962.5,918.9 963,918.9 963.5,919.0 964,919.0 964.5,919.0 965,919.0 965.5,919.0 966,919.0" fill="none" stroke="#EDB120" stroke-width="4.2" stroke-linejoin="round" stroke-linecap="butt"/>
<polyline points="569.5,783.7 570,783.7 570.5,783.7 571,783.7 571.5,783.7 572,783.7 572.5,783.7 573,783.7 573.5,783.7 574,783.7 574.5,783.7 575,783.6 575.5,783.6 576,783.6 576.5,783.6 577,783.6 577.5,783.6 578,783.6 578.5,783.6 579,783.6 579.5,783.6 580,783.6 580.5,783.6 581,783.6 581.5,783.6 582,783.6 582.5,783.6 583,783.6 583.5,783.6 584,783.6 584.5,783.6 585,783.6 585.5,783.6 586,783.6 586.5,783.6 587,783.6 587.5,783.6 588,783.6 588.5,783.6 589,783.6 589.5,783.6 590,783.6 590.5,783.6 591,783.6 591.5,783.6 592,783.6 592.5,783.6 593,783.6 593.5,783.6 594,783.6 594.5,783.6 595,783.6 595.5,783.6 596,783.6 596.5,783.6 597,783.6 597.5,783.6 598,783.6 598.5,783.6 599,783.6 599.5,783.6 600,783.6 600.5,783.6 601,783.6 601.5,783.6 602,783.6 602.5,783.6 603,783.6 603.5,783.6 604,783.6 604.5,783.6 605,783.6 605.5,783.6 606,783.6 606.5,783.6 607,783.6 607.5,783.6 608,783.6 608.5,783.6 609,783.6 609.5,783.6 610,783.6 610.5,783.6 611,783.6 611.5,783.6 612,783.6 612.5,783.6 613,783.6 613.5,783.6 614,783.6 614.5,783.6 615,783.6 615.5,783.6 616,783.6 616.5,783.6 617,783.6 617.5,783.6 618,783.6 618.5,783.6 619,783.6 619.5,783.6 620,783.6 620.5,783.6 621,783.6 621.5,783.6 622,783.6 622.5,783.5 623,783.5 623.5,783.5 624,783.5 624.5,783.5 625,783.5 625.5,783.5 626,783.5 626.5,783.5 627,783.5 627.5,783.5 628,783.5 628.5,783.5 629,783.5 629.5,783.5 630,783.5 630.5,783.5 631,783.5 631.5,783.5 632,783.5 632.5,783.5 633,783.5 633.5,783.5 634,783.5 634.5,783.5 635,783.5 635.5,783.5 636,783.5 636.5,783.5 637,783.5 637.5,783.5 638,783.5 638.5,783.5 639,783.5 639.5,783.5 640,783.5 640.5,783.5 641,783.5 641.5,783.5 642,783.5 642.5,783.5 643,783.5 643.5,783.5 644,783.5 644.5,783.5 645,783.5 645.5,783.5 646,783.5 646.5,783.5 647,783.5 647.5,783.4 648,783.4 648.5,783.4 649,783.4 649.5,783.4 650,783.4 650.5,783.4 651,783.4 651.5,783.4 652,783.4 652.5,783.4 653,783.4 653.5,783.4 654,783.4 654.5,783.4 655,783.4 655.5,783.4 656,783.4 656.5,783.4 657,783.4 657.5,783.4 658,783.4 658.5,783.4 659,783.4 659.5,783.4 660,783.4 660.5,783.4 661,783.4 661.5,783.4 662,783.4 662.5,783.4 663,783.4 663.5,783.3 664,783.3 664.5,783.3 665,783.3 665.5,783.3 666,783.3 666.5,783.3 667,783.3 667.5,783.3 668,783.3 668.5,783.3 669,783.3 669.5,783.3 670,783.3 670.5,783.3 671,783.3 671.5,783.3 672,783.3 672.5,783.3 673,783.3 673.5,783.3 674,783.3 674.5,783.2 675,783.2 675.5,783.2 676,783.2 676.5,783.2 677,783.2 677.5,783.2 678,783.2 678.5,783.2 679,783.2 679.5,783.2 680,783.2 680.5,783.2 681,783.2 681.5,783.2 682,783.2 682.5,783.2 683,783.1 683.5,783.1 684,783.1 684.5,783.1 685,783.1 685.5,783.1 686,783.1 686.5,783.1 687,783.1 687.5,783.1 688,783.1 688.5,783.1 689,783.1 689.5,783.1 690,783.0 690.5,783.0 691,783.0 691.5,783.0 692,783.0 692.5,783.0 693,783.0 693.5,783.0 694,783.0 694.5,783.0 695,783.0 695.5,782.9 696,782.9 696.5,782.9 697,782.9 697.5,782.9 698,782.9 698.5,782.9 699,782.9 699.5,782.9 700,782.8 700.5,782.8 701,782.8 701.5,782.8 702,782.8 702.5,782.8 703,782.8 703.5,782.7 704,782.7 704.5,782.7 705,782.7 705.5,782.7 706,782.7 706.5,782.7 707,782.6 707.5,782.6 708,782.6 708.5,782.6 709,782.6 709.5,782.6 710,782.5 710.5,782.5 711,782.5 711.5,782.5 712,782.5 712.5,782.4 713,782.4 713.5,782.4 714,782.4 714.5,782.4 715,782.3 715.5,782.3 716,782.3 716.5,782.3 717,782.2 717.5,782.2 718,782.2 718.5,782.1 719,782.1 719.5,782.1 720,782.1 720.5,782.0 721,782.0 721.5,782.0 722,781.9 722.5,781.9 723,781.9 723.5,781.8 724,781.8 724.5,781.7 725,781.7 725.5,781.7 726,781.6 726.5,781.6 727,781.5 727.5,781.5 728,781.4 728.5,781.4 729,781.3 729.5,781.3 730,781.2 730.5,781.1 731,781.1 731.5,781.0 732,781.0 732.5,780.9 733,780.8 733.5,780.8 734,780.7 734.5,780.6 735,780.5 735.5,780.4 736,780.3 736.5,780.3 737,780.2 737.5,780.1 738,780.0 738.5,779.8 739,779.7 739.5,779.6 740,779.5 740.5,779.4 741,779.2 741.5,779.1 742,778.9 742.5,778.8 743,778.6 743.5,778.4 744,778.3 744.5,778.1 745,777.9 745.5,777.7 746,777.4 746.5,777.2 747,777.0 747.5,776.7 748,776.4 748.5,776.1 749,775.8 749.5,775.5 750,775.1 750.5,774.7 751,774.3 751.5,773.9 752,773.5 752.5,773.0 753,772.4 753.5,771.9 754,771.3 754.5,770.6 755,769.9 755.5,769.2 756,768.4 756.5,767.5 757,766.6 757.5,765.5 758,764.4 758.5,763.2 759,762.0 759.5,760.6 760,759.1 760.5,757.4 761,755.7 761.5,753.8 762,751.7 762.5,749.5 763,747.2 763.5,744.8 764,742.2 764.5,739.5 765,736.7 765.5,733.9 766,731.2 766.5,728.5 767,726.0 767.5,723.8 768,721.9 768.5,720.5 769,719.6 769.5,719.2 770,719.4 770.5,720.1 771,721.3 771.5,723.0 772,725.0 772.5,727.3 773,729.8 773.5,732.3 774,734.9 774.5,737.4 775,739.9 775.5,742.2 776,744.3 776.5,746.3 777,748.2 777.5,749.8 778,751.2 778.5,752.5 779,753.5 779.5,754.4 780,755.1 780.5,755.6 781,755.9 781.5,756.1 782,756.2 782.5,756.3 783,756.5 783.5,756.8 784,757.3 784.5,758.0 785,758.9 785.5,760.0 786,761.2 786.5,762.4 787,763.6 787.5,764.7 788,765.8 788.5,766.7 789,767.5 789.5,768.2 790,768.9 790.5,769.4 791,769.9 791.5,770.3 792,770.7 792.5,771.0 793,771.2 793.5,771.4 794,771.6 794.5,771.7 795,771.8 795.5,771.8 796,771.8 796.5,771.8 797,771.7 797.5,771.7 798,771.5 798.5,771.4 799,771.2 799.5,771.0 800,770.7 800.5,770.4 801,770.0 801.5,769.6 802,769.2 802.5,768.7 803,768.2 803.5,767.6 804,766.9 804.5,766.2 805,765.4 805.5,764.5 806,763.5 806.5,762.4 807,761.2 807.5,759.9 808,758.5 808.5,757.0 809,755.3 809.5,753.4 810,751.4 810.5,749.2 811,746.9 811.5,744.3 812,741.7 812.5,738.9 813,736.0 813.5,733.1 814,730.1 814.5,727.3 815,724.7 815.5,722.4 816,720.5 816.5,719.1 817,718.3 817.5,718.1 818,718.6 818.5,719.7 819,721.3 819.5,723.4 820,725.8 820.5,728.4 821,731.1 821.5,733.9 822,736.7 822.5,739.3 823,741.8 823.5,744.1 824,746.3 824.5,748.2 825,749.9 825.5,751.4 826,752.7 826.5,753.9 827,754.8 827.5,755.5 828,756.1 828.5,756.5 829,756.8 829.5,757.1 830,757.4 830.5,757.8 831,758.2 831.5,758.8 832,759.6 832.5,760.6 833,761.7 833.5,762.9 834,764.1 834.5,765.3 835,766.5 835.5,767.7 836,768.7 836.5,769.7 837,770.6 837.5,771.4 838,772.2 838.5,772.9 839,773.5 839.5,774.1 840,774.6 840.5,775.1 841,775.5 841.5,775.9 842,776.3 842.5,776.6 843,776.9 843.5,777.2 844,777.5 844.5,777.8 845,778.0 845.5,778.2 846,778.4 846.5,778.6 847,778.8 847.5,779.0 848,779.1 848.5,779.3 849,779.4 849.5,779.6 850,779.7 850.5,779.8 851,780.0 851.5,780.1 852,780.2 852.5,780.3 853,780.4 853.5,780.5 854,780.6 854.5,780.6 855,780.7 855.5,780.8 856,780.9 856.5,780.9 857,781.0 857.5,781.1 858,781.1 858.5,781.2 859,781.3 859.5,781.3 860,781.4 860.5,781.4 861,781.5 861.5,781.5 862,781.6 862.5,781.6 863,781.7 863.5,781.7 864,781.8 864.5,781.8 865,781.8 865.5,781.9 866,781.9 866.5,781.9 867,782.0 867.5,782.0 868,782.1 868.5,782.1 869,782.1 869.5,782.1 870,782.2 870.5,782.2 871,782.2 871.5,782.3 872,782.3 872.5,782.3 873,782.3 873.5,782.4 874,782.4 874.5,782.4 875,782.4 875.5,782.4 876,782.5 876.5,782.5 877,782.5 877.5,782.5 878,782.5 878.5,782.6 879,782.6 879.5,782.6 880,782.6 880.5,782.6 881,782.7 881.5,782.7 882,782.7 882.5,782.7 883,782.7 883.5,782.7 884,782.7 884.5,782.8 885,782.8 885.5,782.8 886,782.8 886.5,782.8 887,782.8 887.5,782.8 888,782.9 888.5,782.9 889,782.9 889.5,782.9 890,782.9 890.5,782.9 891,782.9 891.5,782.9 892,782.9 892.5,783.0 893,783.0 893.5,783.0 894,783.0 894.5,783.0 895,783.0 895.5,783.0 896,783.0 896.5,783.0 897,783.0 897.5,783.0 898,783.1 898.5,783.1 899,783.1 899.5,783.1 900,783.1 900.5,783.1 901,783.1 901.5,783.1 902,783.1 902.5,783.1 903,783.1 903.5,783.1 904,783.1 904.5,783.2 905,783.2 905.5,783.2 906,783.2 906.5,783.2 907,783.2 907.5,783.2 908,783.2 908.5,783.2 909,783.2 909.5,783.2 910,783.2 910.5,783.2 911,783.2 911.5,783.2 912,783.2 912.5,783.2 913,783.3 913.5,783.3 914,783.3 914.5,783.3 915,783.3 915.5,783.3 916,783.3 916.5,783.3 917,783.3 917.5,783.3 918,783.3 918.5,783.3 919,783.3 919.5,783.3 920,783.3 920.5,783.3 921,783.3 921.5,783.3 922,783.3 922.5,783.3 923,783.3 923.5,783.3 924,783.3 924.5,783.4 925,783.4 925.5,783.4 926,783.4 926.5,783.4 927,783.4 927.5,783.4 928,783.4 928.5,783.4 929,783.4 929.5,783.4 930,783.4 930.5,783.4 931,783.4 931.5,783.4 932,783.4 932.5,783.4 933,783.4 933.5,783.4 934,783.4 934.5,783.4 935,783.4 935.5,783.4 936,783.4 936.5,783.4 937,783.4 937.5,783.4 938,783.4 938.5,783.4 939,783.4 939.5,783.4 940,783.5 940.5,783.5 941,783.5 941.5,783.5 942,783.5 942.5,783.5 943,783.5 943.5,783.5 944,783.5 944.5,783.5 945,783.5 945.5,783.5 946,783.5 946.5,783.5 947,783.5 947.5,783.5 948,783.5 948.5,783.5 949,783.5 949.5,783.5 950,783.5 950.5,783.5 951,783.5 951.5,783.5 952,783.5 952.5,783.5 953,783.5 953.5,783.5 954,783.5 954.5,783.5 955,783.5 955.5,783.5 956,783.5 956.5,783.5 957,783.5 957.5,783.5 958,783.5 958.5,783.5 959,783.5 959.5,783.5 960,783.5 960.5,783.5 961,783.5 961.5,783.5 962,783.5 962.5,783.5 963,783.5 963.5,783.5 964,783.5 964.5,783.5 965,783.6 965.5,783.6 966,783.6" fill="none" stroke="#7E2F8E" stroke-width="4.2" stroke-linejoin="round" stroke-linecap="butt"/>
<polyline points="569.5,738.3 570,738.3 570.5,738.3 571,738.3 571.5,738.3 572,738.3 572.5,738.3 573,738.3 573.5,738.3 574,738.3 574.5,738.3 575,738.3 575.5,738.3 576,738.3 576.5,738.3 577,738.3 577.5,738.3 578,738.3 578.5,738.2 579,738.2 579.5,738.2 580,738.2 580.5,738.2 581,738.2 581.5,738.2 582,738.2 582.5,738.2 583,738.2 583.5,738.2 584,738.2 584.5,738.2 585,738.2 585.5,738.2 586,738.2 586.5,738.2 587,738.2 587.5,738.2 588,738.2 588.5,738.2 589,738.2 589.5,738.2 590,738.2 590.5,738.2 591,738.2 591.5,738.2 592,738.2 592.5,738.2 593,738.2 593.5,738.2 594,738.2 594.5,738.2 595,738.2 595.5,738.2 596,738.2 596.5,738.2 597,738.2 597.5,738.2 598,738.2 598.5,738.2 599,738.2 599.5,738.2 600,738.2 600.5,738.2 601,738.2 601.5,738.2 602,738.2 602.5,738.2 603,738.2 603.5,738.2 604,738.2 604.5,738.2 605,738.2 605.5,738.2 606,738.2 606.5,738.2 607,738.2 607.5,738.2 608,738.2 608.5,738.2 609,738.2 609.5,738.2 610,738.2 610.5,738.2 611,738.2 611.5,738.2 612,738.2 612.5,738.2 613,738.2 613.5,738.2 614,738.2 614.5,738.2 615,738.2 615.5,738.2 616,738.2 616.5,738.2 617,738.2 617.5,738.2 618,738.2 618.5,738.2 619,738.2 619.5,738.2 620,738.2 620.5,738.2 621,738.2 621.5,738.2 622,738.2 622.5,738.2 623,738.2 623.5,738.2 624,738.2 624.5,738.2 625,738.2 625.5,738.2 626,738.2 626.5,738.2 627,738.2 627.5,738.1 628,738.1 628.5,738.1 629,738.1 629.5,738.1 630,738.1 630.5,738.1 631,738.1 631.5,738.1 632,738.1 632.5,738.1 633,738.1 633.5,738.1 634,738.1 634.5,738.1 635,738.1 635.5,738.1 636,738.1 636.5,738.1 637,738.1 637.5,738.1 638,738.1 638.5,738.1 639,738.1 639.5,738.1 640,738.1 640.5,738.1 641,738.1 641.5,738.1 642,738.1 642.5,738.1 643,738.1 643.5,738.1 644,738.1 644.5,738.1 645,738.1 645.5,738.1 646,738.1 646.5,738.1 647,738.1 647.5,738.1 648,738.1 648.5,738.1 649,738.1 649.5,738.1 650,738.1 650.5,738.1 651,738.1 651.5,738.1 652,738.1 652.5,738.1 653,738.1 653.5,738.0 654,738.0 654.5,738.0 655,738.0 655.5,738.0 656,738.0 656.5,738.0 657,738.0 657.5,738.0 658,738.0 658.5,738.0 659,738.0 659.5,738.0 660,738.0 660.5,738.0 661,738.0 661.5,738.0 662,738.0 662.5,738.0 663,738.0 663.5,738.0 664,738.0 664.5,738.0 665,738.0 665.5,738.0 666,738.0 666.5,738.0 667,738.0 667.5,738.0 668,738.0 668.5,738.0 669,738.0 669.5,738.0 670,737.9 670.5,737.9 671,737.9 671.5,737.9 672,737.9 672.5,737.9 673,737.9 673.5,737.9 674,737.9 674.5,737.9 675,737.9 675.5,737.9 676,737.9 676.5,737.9 677,737.9 677.5,737.9 678,737.9 678.5,737.9 679,737.9 679.5,737.9 680,737.9 680.5,737.9 681,737.9 681.5,737.8 682,737.8 682.5,737.8 683,737.8 683.5,737.8 684,737.8 684.5,737.8 685,737.8 685.5,737.8 686,737.8 686.5,737.8 687,737.8 687.5,737.8 688,737.8 688.5,737.8 689,737.8 689.5,737.8 690,737.8 690.5,737.7 691,737.7 691.5,737.7 692,737.7 692.5,737.7 693,737.7 693.5,737.7 694,737.7 694.5,737.7 695,737.7 695.5,737.7 696,737.7 696.5,737.7 697,737.7 697.5,737.6 698,737.6 698.5,737.6 699,737.6 699.5,737.6 700,737.6 700.5,737.6 701,737.6 701.5,737.6 702,737.6 702.5,737.6 703,737.5 703.5,737.5 704,737.5 704.5,737.5 705,737.5 705.5,737.5 706,737.5 706.5,737.5 707,737.5 707.5,737.4 708,737.4 708.5,737.4 709,737.4 709.5,737.4 710,737.4 710.5,737.4 711,737.4 711.5,737.3 712,737.3 712.5,737.3 713,737.3 713.5,737.3 714,737.3 714.5,737.3 715,737.2 715.5,737.2 716,737.2 716.5,737.2 717,737.2 717.5,737.2 718,737.1 718.5,737.1 719,737.1 719.5,737.1 720,737.1 720.5,737.0 721,737.0 721.5,737.0 722,737.0 722.5,737.0 723,736.9 723.5,736.9 724,736.9 724.5,736.9 725,736.8 725.5,736.8 726,736.8 726.5,736.8 727,736.7 727.5,736.7 728,736.7 728.5,736.6 729,736.6 729.5,736.6 730,736.6 730.5,736.5 731,736.5 731.5,736.4 732,736.4 732.5,736.4 733,736.3 733.5,736.3 734,736.3 734.5,736.2 735,736.2 735.5,736.1 736,736.1 736.5,736.0 737,736.0 737.5,735.9 738,735.9 738.5,735.8 739,735.8 739.5,735.7 740,735.6 740.5,735.6 741,735.5 741.5,735.4 742,735.4 742.5,735.3 743,735.2 743.5,735.1 744,735.1 744.5,735.0 745,734.9 745.5,734.8 746,734.7 746.5,734.6 747,734.5 747.5,734.4 748,734.3 748.5,734.1 749,734.0 749.5,733.9 750,733.7 750.5,733.6 751,733.4 751.5,733.3 752,733.1 752.5,732.9 753,732.7 753.5,732.5 754,732.3 754.5,732.1 755,731.8 755.5,731.6 756,731.3 756.5,731.0 757,730.7 757.5,730.4 758,730.1 758.5,729.7 759,729.3 759.5,728.9 760,728.4 760.5,727.9 761,727.4 761.5,726.8 762,726.2 762.5,725.6 763,724.8 763.5,724.0 764,723.2 764.5,722.3 765,721.2 765.5,720.1 766,718.8 766.5,717.5 767,716.0 767.5,714.3 768,712.4 768.5,710.4 769,708.1 769.5,705.7 770,702.9 770.5,700.0 771,696.8 771.5,693.5 772,690.0 772.5,686.6 773,683.3 773.5,680.4 774,677.9 774.5,676.0 775,674.7 775.5,674.1 776,673.9 776.5,674.2 777,674.8 777.5,675.6 778,676.7 778.5,677.9 779,679.2 779.5,680.7 780,682.4 780.5,684.3 781,686.3 781.5,688.4 782,690.6 782.5,692.8 783,695.0 783.5,697.3 784,699.4 784.5,701.5 785,703.5 785.5,705.4 786,707.2 786.5,708.9 787,710.4 787.5,711.9 788,713.2 788.5,714.4 789,715.5 789.5,716.5 790,717.4 790.5,718.2 791,718.9 791.5,719.5 792,720.0 792.5,720.4 793,720.8 793.5,721.0 794,721.1 794.5,721.2 795,721.3 795.5,721.4 796,721.5 796.5,721.8 797,722.1 797.5,722.5 798,723.0 798.5,723.3 799,723.6 799.5,723.9 800,724.0 800.5,724.1 801,724.2 801.5,724.1 802,724.1 802.5,723.9 803,723.8 803.5,723.6 804,723.3 804.5,723.0 805,722.6 805.5,722.2 806,721.7 806.5,721.1 807,720.5 807.5,719.8 808,719.0 808.5,718.2 809,717.2 809.5,716.2 810,715.1 810.5,713.8 811,712.4 811.5,710.8 812,709.1 812.5,707.3 813,705.2 813.5,703.0 814,700.6 814.5,698.0 815,695.3 815.5,692.5 816,689.5 816.5,686.6 817,683.7 817.5,681.0 818,678.6 818.5,676.6 819,675.1 819.5,674.1 820,673.8 820.5,674.0 821,674.7 821.5,675.8 822,677.2 822.5,678.9 823,680.6 823.5,682.4 824,684.1 824.5,685.8 825,687.5 825.5,689.1 826,690.7 826.5,692.2 827,693.6 827.5,695.1 828,696.6 828.5,698.0 829,699.5 829.5,700.9 830,702.4 830.5,703.9 831,705.3 831.5,706.8 832,708.2 832.5,709.6 833,710.9 833.5,712.2 834,713.5 834.5,714.7 835,715.8 835.5,716.9 836,718.0 836.5,718.9 837,719.9 837.5,720.8 838,721.6 838.5,722.4 839,723.1 839.5,723.8 840,724.5 840.5,725.1 841,725.7 841.5,726.2 842,726.8 842.5,727.2 843,727.7 843.5,728.1 844,728.5 844.5,728.9 845,729.3 845.5,729.6 846,730.0 846.5,730.3 847,730.6 847.5,730.9 848,731.1 848.5,731.4 849,731.6 849.5,731.8 850,732.1 850.5,732.3 851,732.5 851.5,732.6 852,732.8 852.5,733.0 853,733.1 853.5,733.3 854,733.5 854.5,733.6 855,733.7 855.5,733.9 856,734.0 856.5,734.1 857,734.2 857.5,734.3 858,734.4 858.5,734.5 859,734.6 859.5,734.7 860,734.8 860.5,734.9 861,735.0 861.5,735.1 862,735.1 862.5,735.2 863,735.3 863.5,735.4 864,735.4 864.5,735.5 865,735.6 865.5,735.6 866,735.7 866.5,735.7 867,735.8 867.5,735.8 868,735.9 868.5,735.9 869,736.0 869.5,736.0 870,736.1 870.5,736.1 871,736.2 871.5,736.2 872,736.3 872.5,736.3 873,736.3 873.5,736.4 874,736.4 874.5,736.4 875,736.5 875.5,736.5 876,736.5 876.5,736.6 877,736.6 877.5,736.6 878,736.7 878.5,736.7 879,736.7 879.5,736.8 880,736.8 880.5,736.8 881,736.8 881.5,736.9 882,736.9 882.5,736.9 883,736.9 883.5,736.9 884,737.0 884.5,737.0 885,737.0 885.5,737.0 886,737.0 886.5,737.1 887,737.1 887.5,737.1 888,737.1 888.5,737.1 889,737.2 889.5,737.2 890,737.2 890.5,737.2 891,737.2 891.5,737.2 892,737.3 892.5,737.3 893,737.3 893.5,737.3 894,737.3 894.5,737.3 895,737.3 895.5,737.4 896,737.4 896.5,737.4 897,737.4 897.5,737.4 898,737.4 898.5,737.4 899,737.4 899.5,737.5 900,737.5 900.5,737.5 901,737.5 901.5,737.5 902,737.5 902.5,737.5 903,737.5 903.5,737.5 904,737.5 904.5,737.6 905,737.6 905.5,737.6 906,737.6 906.5,737.6 907,737.6 907.5,737.6 908,737.6 908.5,737.6 909,737.6 909.5,737.6 910,737.7 910.5,737.7 911,737.7 911.5,737.7 912,737.7 912.5,737.7 913,737.7 913.5,737.7 914,737.7 914.5,737.7 915,737.7 915.5,737.7 916,737.7 916.5,737.7 917,737.8 917.5,737.8 918,737.8 918.5,737.8 919,737.8 919.5,737.8 920,737.8 920.5,737.8 921,737.8 921.5,737.8 922,737.8 922.5,737.8 923,737.8 923.5,737.8 924,737.8 924.5,737.8 925,737.8 925.5,737.8 926,737.9 926.5,737.9 927,737.9 927.5,737.9 928,737.9 928.5,737.9 929,737.9 929.5,737.9 930,737.9 930.5,737.9 931,737.9 931.5,737.9 932,737.9 932.5,737.9 933,737.9 933.5,737.9 934,737.9 934.5,737.9 935,737.9 935.5,737.9 936,737.9 936.5,737.9 937,737.9 937.5,737.9 938,738.0 938.5,738.0 939,738.0 939.5,738.0 940,738.0 940.5,738.0 941,738.0 941.5,738.0 942,738.0 942.5,738.0 943,738.0 943.5,738.0 944,738.0 944.5,738.0 945,738.0 945.5,738.0 946,738.0 946.5,738.0 947,738.0 947.5,738.0 948,738.0 948.5,738.0 949,738.0 949.5,738.0 950,738.0 950.5,738.0 951,738.0 951.5,738.0 952,738.0 952.5,738.0 953,738.0 953.5,738.0 954,738.0 954.5,738.1 955,738.1 955.5,738.1 956,738.1 956.5,738.1 957,738.1 957.5,738.1 958,738.1 958.5,738.1 959,738.1 959.5,738.1 960,738.1 960.5,738.1 961,738.1 961.5,738.1 962,738.1 962.5,738.1 963,738.1 963.5,738.1 964,738.1 964.5,738.1 965,738.1 965.5,738.1 966,738.1" fill="none" stroke="#77AC30" stroke-width="4.2" stroke-linejoin="round" stroke-linecap="butt"/>
<polyline points="569.5,692.9 570,692.9 570.5,692.9 571,692.9 571.5,692.9 572,692.9 572.5,692.9 573,692.9 573.5,692.9 574,692.9 574.5,692.9 575,692.9 575.5,692.9 576,692.8 576.5,692.8 577,692.8 577.5,692.8 578,692.8 578.5,692.8 579,692.8 579.5,692.8 580,692.8 580.5,692.8 581,692.8 581.5,692.8 582,692.8 582.5,692.8 583,692.8 583.5,692.8 584,692.8 584.5,692.8 585,692.8 585.5,692.8 586,692.8 586.5,692.8 587,692.8 587.5,692.8 588,692.8 588.5,692.8 589,692.8 589.5,692.8 590,692.8 590.5,692.8 591,692.8 591.5,692.8 592,692.8 592.5,692.8 593,692.8 593.5,692.8 594,692.8 594.5,692.8 595,692.8 595.5,692.8 596,692.8 596.5,692.8 597,692.8 597.5,692.8 598,692.8 598.5,692.8 599,692.8 599.5,692.8 600,692.8 600.5,692.8 601,692.8 601.5,692.8 602,692.8 602.5,692.8 603,692.8 603.5,692.8 604,692.8 604.5,692.8 605,692.8 605.5,692.8 606,692.8 606.5,692.8 607,692.8 607.5,692.8 608,692.8 608.5,692.8 609,692.8 609.5,692.8 610,692.8 610.5,692.8 611,692.8 611.5,692.8 612,692.8 612.5,692.8 613,692.8 613.5,692.8 614,692.8 614.5,692.8 615,692.8 615.5,692.8 616,692.8 616.5,692.8 617,692.8 617.5,692.8 618,692.8 618.5,692.8 619,692.8 619.5,692.8 620,692.8 620.5,692.8 621,692.8 621.5,692.8 622,692.8 622.5,692.8 623,692.8 623.5,692.8 624,692.8 624.5,692.8 625,692.8 625.5,692.7 626,692.7 626.5,692.7 627,692.7 627.5,692.7 628,692.7 628.5,692.7 629,692.7 629.5,692.7 630,692.7 630.5,692.7 631,692.7 631.5,692.7 632,692.7 632.5,692.7 633,692.7 633.5,692.7 634,692.7 634.5,692.7 635,692.7 635.5,692.7 636,692.7 636.5,692.7 637,692.7 637.5,692.7 638,692.7 638.5,692.7 639,692.7 639.5,692.7 640,692.7 640.5,692.7 641,692.7 641.5,692.7 642,692.7 642.5,692.7 643,692.7 643.5,692.7 644,692.7 644.5,692.7 645,692.7 645.5,692.7 646,692.7 646.5,692.7 647,692.7 647.5,692.7 648,692.7 648.5,692.7 649,692.7 649.5,692.7 650,692.7 650.5,692.6 651,692.6 651.5,692.6 652,692.6 652.5,692.6 653,692.6 653.5,692.6 654,692.6 654.5,692.6 655,692.6 655.5,692.6 656,692.6 656.5,692.6 657,692.6 657.5,692.6 658,692.6 658.5,692.6 659,692.6 659.5,692.6 660,692.6 660.5,692.6 661,692.6 661.5,692.6 662,692.6 662.5,692.6 663,692.6 663.5,692.6 664,692.6 664.5,692.6 665,692.6 665.5,692.6 666,692.6 666.5,692.5 667,692.5 667.5,692.5 668,692.5 668.5,692.5 669,692.5 669.5,692.5 670,692.5 670.5,692.5 671,692.5 671.5,692.5 672,692.5 672.5,692.5 673,692.5 673.5,692.5 674,692.5 674.5,692.5 675,692.5 675.5,692.5 676,692.5 676.5,692.5 677,692.5 677.5,692.4 678,692.4 678.5,692.4 679,692.4 679.5,692.4 680,692.4 680.5,692.4 681,692.4 681.5,692.4 682,692.4 682.5,692.4 683,692.4 683.5,692.4 684,692.4 684.5,692.4 685,692.4 685.5,692.4 686,692.3 686.5,692.3 687,692.3 687.5,692.3 688,692.3 688.5,692.3 689,692.3 689.5,692.3 690,692.3 690.5,692.3 691,692.3 691.5,692.3 692,692.3 692.5,692.2 693,692.2 693.5,692.2 694,692.2 694.5,692.2 695,692.2 695.5,692.2 696,692.2 696.5,692.2 697,692.2 697.5,692.1 698,692.1 698.5,692.1 699,692.1 699.5,692.1 700,692.1 700.5,692.1 701,692.1 701.5,692.1 702,692.0 702.5,692.0 703,692.0 703.5,692.0 704,692.0 704.5,692.0 705,692.0 705.5,691.9 706,691.9 706.5,691.9 707,691.9 707.5,691.9 708,691.9 708.5,691.8 709,691.8 709.5,691.8 710,691.8 710.5,691.8 711,691.8 711.5,691.7 712,691.7 712.5,691.7 713,691.7 713.5,691.6 714,691.6 714.5,691.6 715,691.6 715.5,691.5 716,691.5 716.5,691.5 717,691.5 717.5,691.4 718,691.4 718.5,691.4 719,691.3 719.5,691.3 720,691.3 720.5,691.2 721,691.2 721.5,691.2 722,691.1 722.5,691.1 723,691.1 723.5,691.0 724,691.0 724.5,690.9 725,690.9 725.5,690.8 726,690.8 726.5,690.7 727,690.7 727.5,690.6 728,690.6 728.5,690.5 729,690.4 729.5,690.4 730,690.3 730.5,690.2 731,690.1 731.5,690.1 732,690.0 732.5,689.9 733,689.8 733.5,689.7 734,689.6 734.5,689.5 735,689.4 735.5,689.3 736,689.2 736.5,689.0 737,688.9 737.5,688.7 738,688.6 738.5,688.4 739,688.3 739.5,688.1 740,687.9 740.5,687.7 741,687.5 741.5,687.3 742,687.0 742.5,686.7 743,686.5 743.5,686.2 744,685.9 744.5,685.5 745,685.1 745.5,684.7 746,684.3 746.5,683.9 747,683.4 747.5,682.8 748,682.2 748.5,681.6 749,680.9 749.5,680.2 750,679.4 750.5,678.5 751,677.6 751.5,676.5 752,675.4 752.5,674.2 753,672.8 753.5,671.4 754,669.9 754.5,668.2 755,666.4 755.5,664.6 756,662.6 756.5,660.7 757,658.7 757.5,656.7 758,654.8 758.5,653.1 759,651.7 759.5,650.5 760,649.7 760.5,649.4 761,649.4 761.5,649.9 762,650.8 762.5,652.0 763,653.5 763.5,655.2 764,657.1 764.5,658.9 765,660.8 765.5,662.7 766,664.5 766.5,666.2 767,667.8 767.5,669.2 768,670.6 768.5,671.9 769,673.0 769.5,674.1 770,675.0 770.5,675.9 771,676.6 771.5,677.3 772,677.9 772.5,678.5 773,678.9 773.5,679.3 774,679.7 774.5,680.0 775,680.3 775.5,680.5 776,680.6 776.5,680.7 777,680.8 777.5,680.8 778,680.8 778.5,680.7 779,680.6 779.5,680.5 780,680.3 780.5,680.0 781,679.7 781.5,679.4 782,679.0 782.5,678.5 783,678.0 783.5,677.4 784,676.8 784.5,676.1 785,675.3 785.5,674.4 786,673.5 786.5,672.5 787,671.5 787.5,670.5 788,669.4 788.5,668.3 789,667.3 789.5,666.4 790,665.5 790.5,664.8 791,664.3 791.5,663.9 792,663.7 792.5,663.7 793,663.9 793.5,664.2 794,664.6 794.5,665.0 795,665.5 795.5,665.9 796,666.3 796.5,666.6 797,666.7 797.5,666.8 798,666.7 798.5,666.5 799,666.2 799.5,665.8 800,665.5 800.5,665.1 801,664.9 801.5,664.9 802,665.1 802.5,665.6 803,666.3 803.5,667.3 804,668.5 804.5,669.8 805,671.0 805.5,672.3 806,673.5 806.5,674.6 807,675.6 807.5,676.5 808,677.4 808.5,678.1 809,678.7 809.5,679.2 810,679.7 810.5,680.1 811,680.4 811.5,680.7 812,680.9 812.5,681.1 813,681.2 813.5,681.3 814,681.4 814.5,681.4 815,681.3 815.5,681.2 816,681.1 816.5,681.0 817,680.8 817.5,680.6 818,680.3 818.5,680.0 819,679.7 819.5,679.3 820,678.9 820.5,678.4 821,677.9 821.5,677.3 822,676.7 822.5,676.0 823,675.3 823.5,674.5 824,673.6 824.5,672.7 825,671.7 825.5,670.7 826,669.6 826.5,668.4 827,667.2 827.5,666.0 828,664.7 828.5,663.4 829,662.1 829.5,660.8 830,659.6 830.5,658.5 831,657.5 831.5,656.7 832,656.0 832.5,655.5 833,655.3 833.5,655.3 834,655.5 834.5,656.0 835,656.7 835.5,657.5 836,658.5 836.5,659.7 837,660.9 837.5,662.2 838,663.6 838.5,664.9 839,666.3 839.5,667.6 840,668.9 840.5,670.1 841,671.3 841.5,672.4 842,673.5 842.5,674.5 843,675.4 843.5,676.3 844,677.2 844.5,677.9 845,678.7 845.5,679.3 846,680.0 846.5,680.6 847,681.1 847.5,681.6 848,682.1 848.5,682.5 849,683.0 849.5,683.3 850,683.7 850.5,684.0 851,684.4 851.5,684.7 852,684.9 852.5,685.2 853,685.4 853.5,685.6 854,685.9 854.5,686.1 855,686.2 855.5,686.4 856,686.6 856.5,686.7 857,686.8 857.5,687.0 858,687.1 858.5,687.2 859,687.3 859.5,687.4 860,687.5 860.5,687.6 861,687.6 861.5,687.7 862,687.7 862.5,687.8 863,687.8 863.5,687.9 864,687.9 864.5,687.9 865,687.9 865.5,687.9 866,687.9 866.5,687.9 867,687.9 867.5,687.9 868,687.9 868.5,687.8 869,687.8 869.5,687.8 870,687.7 870.5,687.6 871,687.6 871.5,687.5 872,687.4 872.5,687.3 873,687.2 873.5,687.1 874,687.0 874.5,686.8 875,686.7 875.5,686.5 876,686.3 876.5,686.1 877,685.9 877.5,685.6 878,685.4 878.5,685.1 879,684.8 879.5,684.5 880,684.1 880.5,683.7 881,683.3 881.5,682.8 882,682.3 882.5,681.8 883,681.2 883.5,680.6 884,679.9 884.5,679.1 885,678.3 885.5,677.4 886,676.5 886.5,675.5 887,674.4 887.5,673.3 888,672.1 888.5,670.9 889,669.6 889.5,668.2 890,666.9 890.5,665.6 891,664.4 891.5,663.2 892,662.2 892.5,661.4 893,660.8 893.5,660.4 894,660.2 894.5,660.4 895,660.8 895.5,661.4 896,662.3 896.5,663.3 897,664.5 897.5,665.7 898,667.0 898.5,668.4 899,669.7 899.5,671.1 900,672.3 900.5,673.6 901,674.7 901.5,675.8 902,676.9 902.5,677.9 903,678.8 903.5,679.6 904,680.4 904.5,681.1 905,681.8 905.5,682.4 906,683.0 906.5,683.5 907,684.0 907.5,684.5 908,684.9 908.5,685.3 909,685.7 909.5,686.0 910,686.4 910.5,686.7 911,686.9 911.5,687.2 912,687.4 912.5,687.7 913,687.9 913.5,688.1 914,688.3 914.5,688.5 915,688.6 915.5,688.8 916,689.0 916.5,689.1 917,689.2 917.5,689.4 918,689.5 918.5,689.6 919,689.7 919.5,689.8 920,689.9 920.5,690.0 921,690.1 921.5,690.2 922,690.3 922.5,690.3 923,690.4 923.5,690.5 924,690.5 924.5,690.6 925,690.7 925.5,690.7 926,690.8 926.5,690.8 927,690.9 927.5,690.9 928,691.0 928.5,691.0 929,691.1 929.5,691.1 930,691.2 930.5,691.2 931,691.2 931.5,691.3 932,691.3 932.5,691.4 933,691.4 933.5,691.4 934,691.5 934.5,691.5 935,691.5 935.5,691.5 936,691.6 936.5,691.6 937,691.6 937.5,691.6 938,691.7 938.5,691.7 939,691.7 939.5,691.7 940,691.8 940.5,691.8 941,691.8 941.5,691.8 942,691.8 942.5,691.9 943,691.9 943.5,691.9 944,691.9 944.5,691.9 945,691.9 945.5,692.0 946,692.0 946.5,692.0 947,692.0 947.5,692.0 948,692.0 948.5,692.1 949,692.1 949.5,692.1 950,692.1 950.5,692.1 951,692.1 951.5,692.1 952,692.1 952.5,692.2 953,692.2 953.5,692.2 954,692.2 954.5,692.2 955,692.2 955.5,692.2 956,692.2 956.5,692.2 957,692.2 957.5,692.3 958,692.3 958.5,692.3 959,692.3 959.5,692.3 960,692.3 960.5,692.3 961,692.3 961.5,692.3 962,692.3 962.5,692.3 963,692.3 963.5,692.4 964,692.4 964.5,692.4 965,692.4 965.5,692.4 966,692.4" fill="none" stroke="#4DBEEE" stroke-width="4.2" stroke-linejoin="round" stroke-linecap="butt"/>
<polyline points="569.5,647.5 570,647.5 570.5,647.5 571,647.5 571.5,647.5 572,647.5 572.5,647.5 573,647.5 573.5,647.5 574,647.5 574.5,647.5 575,647.5 575.5,647.5 576,647.5 576.5,647.5 577,647.5 577.5,647.5 578,647.5 578.5,647.5 579,647.5 579.5,647.5 580,647.5 580.5,647.5 581,647.5 581.5,647.5 582,647.4 582.5,647.4 583,647.4 583.5,647.4 584,647.4 584.5,647.4 585,647.4 585.5,647.4 586,647.4 586.5,647.4 587,647.4 587.5,647.4 588,647.4 588.5,647.4 589,647.4 589.5,647.4 590,647.4 590.5,647.4 591,647.4 591.5,647.4 592,647.4 592.5,647.4 593,647.4 593.5,647.4 594,647.4 594.5,647.4 595,647.4 595.5,647.4 596,647.4 596.5,647.4 597,647.4 597.5,647.4 598,647.4 598.5,647.4 599,647.4 599.5,647.4 600,647.4 600.5,647.4 601,647.4 601.5,647.4 602,647.4 602.5,647.4 603,647.4 603.5,647.4 604,647.4 604.5,647.4 605,647.4 605.5,647.4 606,647.4 606.5,647.4 607,647.4 607.5,647.4 608,647.4 608.5,647.4 609,647.4 609.5,647.4 610,647.4 610.5,647.4 611,647.4 611.5,647.4 612,647.4 612.5,647.4 613,647.4 613.5,647.4 614,647.4 614.5,647.4 615,647.4 615.5,647.4 616,647.4 616.5,647.4 617,647.4 617.5,647.4 618,647.4 618.5,647.4 619,647.4 619.5,647.4 620,647.4 620.5,647.4 621,647.4 621.5,647.4 622,647.4 622.5,647.4 623,647.4 623.5,647.4 624,647.4 624.5,647.4 625,647.4 625.5,647.4 626,647.4 626.5,647.4 627,647.4 627.5,647.3 628,647.3 628.5,647.3 629,647.3 629.5,647.3 630,647.3 630.5,647.3 631,647.3 631.5,647.3 632,647.3 632.5,647.3 633,647.3 633.5,647.3 634,647.3 634.5,647.3 635,647.3 635.5,647.3 636,647.3 636.5,647.3 637,647.3 637.5,647.3 638,647.3 638.5,647.3 639,647.3 639.5,647.3 640,647.3 640.5,647.3 641,647.3 641.5,647.3 642,647.3 642.5,647.3 643,647.3 643.5,647.3 644,647.3 644.5,647.3 645,647.3 645.5,647.3 646,647.3 646.5,647.3 647,647.3 647.5,647.3 648,647.3 648.5,647.3 649,647.3 649.5,647.3 650,647.3 650.5,647.2 651,647.2 651.5,647.2 652,647.2 652.5,647.2 653,647.2 653.5,647.2 654,647.2 654.5,647.2 655,647.2 655.5,647.2 656,647.2 656.5,647.2 657,647.2 657.5,647.2 658,647.2 658.5,647.2 659,647.2 659.5,647.2 660,647.2 660.5,647.2 661,647.2 661.5,647.2 662,647.2 662.5,647.2 663,647.2 663.5,647.2 664,647.2 664.5,647.2 665,647.2 665.5,647.1 666,647.1 666.5,647.1 667,647.1 667.5,647.1 668,647.1 668.5,647.1 669,647.1 669.5,647.1 670,647.1 670.5,647.1 671,647.1 671.5,647.1 672,647.1 672.5,647.1 673,647.1 673.5,647.1 674,647.1 674.5,647.1 675,647.1 675.5,647.0 676,647.0 676.5,647.0 677,647.0 677.5,647.0 678,647.0 678.5,647.0 679,647.0 679.5,647.0 680,647.0 680.5,647.0 681,647.0 681.5,647.0 682,647.0 682.5,647.0 683,646.9 683.5,646.9 684,646.9 684.5,646.9 685,646.9 685.5,646.9 686,646.9 686.5,646.9 687,646.9 687.5,646.9 688,646.9 688.5,646.9 689,646.8 689.5,646.8 690,646.8 690.5,646.8 691,646.8 691.5,646.8 692,646.8 692.5,646.8 693,646.8 693.5,646.7 694,646.7 694.5,646.7 695,646.7 695.5,646.7 696,646.7 696.5,646.7 697,646.7 697.5,646.6 698,646.6 698.5,646.6 699,646.6 699.5,646.6 700,646.6 700.5,646.6 701,646.5 701.5,646.5 702,646.5 702.5,646.5 703,646.5 703.5,646.5 704,646.4 704.5,646.4 705,646.4 705.5,646.4 706,646.4 706.5,646.3 707,646.3 707.5,646.3 708,646.3 708.5,646.2 709,646.2 709.5,646.2 710,646.2 710.5,646.1 711,646.1 711.5,646.1 712,646.0 712.5,646.0 713,646.0 713.5,645.9 714,645.9 714.5,645.9 715,645.8 715.5,645.8 716,645.7 716.5,645.7 717,645.7 717.5,645.6 718,645.6 718.5,645.5 719,645.5 719.5,645.4 720,645.4 720.5,645.3 721,645.2 721.5,645.2 722,645.1 722.5,645.1 723,645.0 723.5,644.9 724,644.8 724.5,644.7 725,644.7 725.5,644.6 726,644.5 726.5,644.4 727,644.3 727.5,644.2 728,644.1 728.5,643.9 729,643.8 729.5,643.7 730,643.5 730.5,643.4 731,643.2 731.5,643.1 732,642.9 732.5,642.7 733,642.5 733.5,642.3 734,642.0 734.5,641.8 735,641.5 735.5,641.3 736,641.0 736.5,640.6 737,640.3 737.5,639.9 738,639.5 738.5,639.1 739,638.6 739.5,638.1 740,637.5 740.5,636.9 741,636.3 741.5,635.6 742,634.8 742.5,634.0 743,633.1 743.5,632.1 744,631.0 744.5,629.8 745,628.5 745.5,627.1 746,625.6 746.5,624.0 747,622.2 747.5,620.4 748,618.4 748.5,616.4 749,614.4 749.5,612.4 750,610.4 750.5,608.6 751,607.0 751.5,605.8 752,604.9 752.5,604.4 753,604.4 753.5,604.8 754,605.6 754.5,606.9 755,608.4 755.5,610.1 756,612.0 756.5,613.9 757,615.8 757.5,617.8 758,619.6 758.5,621.3 759,623.0 759.5,624.5 760,625.9 760.5,627.2 761,628.3 761.5,629.4 762,630.3 762.5,631.2 763,632.0 763.5,632.7 764,633.3 764.5,633.8 765,634.3 765.5,634.7 766,635.1 766.5,635.4 767,635.7 767.5,635.9 768,636.0 768.5,636.2 769,636.2 769.5,636.3 770,636.2 770.5,636.2 771,636.1 771.5,635.9 772,635.7 772.5,635.4 773,635.1 773.5,634.7 774,634.3 774.5,633.8 775,633.2 775.5,632.5 776,631.7 776.5,630.8 777,629.9 777.5,628.8 778,627.6 778.5,626.3 779,624.9 779.5,623.4 780,621.9 780.5,620.4 781,618.9 781.5,617.5 782,616.3 782.5,615.3 783,614.7 783.5,614.5 784,614.6 784.5,615.0 785,615.8 785.5,616.7 786,617.8 786.5,619.0 787,620.2 787.5,621.3 788,622.3 788.5,623.2 789,623.9 789.5,624.5 790,624.9 790.5,625.2 791,625.3 791.5,625.3 792,625.2 792.5,625.0 793,624.8 793.5,624.7 794,624.6 794.5,624.7 795,625.0 795.5,625.5 796,626.2 796.5,627.0 797,627.8 797.5,628.8 798,629.7 798.5,630.6 799,631.4 799.5,632.2 800,632.9 800.5,633.5 801,634.0 801.5,634.4 802,634.7 802.5,635.0 803,635.2 803.5,635.4 804,635.5 804.5,635.5 805,635.5 805.5,635.4 806,635.2 806.5,635.0 807,634.8 807.5,634.4 808,634.1 808.5,633.6 809,633.1 809.5,632.5 810,631.8 810.5,631.0 811,630.2 811.5,629.2 812,628.1 812.5,627.0 813,625.7 813.5,624.2 814,622.7 814.5,621.0 815,619.3 815.5,617.4 816,615.5 816.5,613.6 817,611.8 817.5,610.0 818,608.5 818.5,607.2 819,606.4 819.5,605.9 820,605.8 820.5,606.2 821,607.1 821.5,608.2 822,609.7 822.5,611.4 823,613.1 823.5,614.9 824,616.7 824.5,618.5 825,620.1 825.5,621.6 826,623.0 826.5,624.2 827,625.3 827.5,626.3 828,627.2 828.5,627.9 829,628.5 829.5,629.0 830,629.4 830.5,629.8 831,630.1 831.5,630.4 832,630.7 832.5,631.0 833,631.3 833.5,631.7 834,632.2 834.5,632.7 835,633.3 835.5,633.9 836,634.5 836.5,635.1 837,635.7 837.5,636.3 838,636.9 838.5,637.5 839,638.0 839.5,638.5 840,638.9 840.5,639.3 841,639.7 841.5,640.0 842,640.3 842.5,640.6 843,640.9 843.5,641.1 844,641.3 844.5,641.5 845,641.7 845.5,641.8 846,642.0 846.5,642.1 847,642.2 847.5,642.3 848,642.4 848.5,642.5 849,642.6 849.5,642.7 850,642.7 850.5,642.8 851,642.8 851.5,642.8 852,642.9 852.5,642.9 853,642.9 853.5,642.9 854,642.9 854.5,642.9 855,642.9 855.5,642.9 856,642.8 856.5,642.8 857,642.7 857.5,642.7 858,642.6 858.5,642.6 859,642.5 859.5,642.4 860,642.3 860.5,642.2 861,642.1 861.5,641.9 862,641.8 862.5,641.6 863,641.5 863.5,641.3 864,641.1 864.5,640.9 865,640.6 865.5,640.4 866,640.1 866.5,639.8 867,639.5 867.5,639.2 868,638.8 868.5,638.4 869,637.9 869.5,637.5 870,637.0 870.5,636.4 871,635.8 871.5,635.2 872,634.5 872.5,633.7 873,632.9 873.5,632.0 874,631.1 874.5,630.1 875,629.0 875.5,627.9 876,626.8 876.5,625.5 877,624.3 877.5,623.1 878,621.8 878.5,620.6 879,619.5 879.5,618.4 880,617.5 880.5,616.8 881,616.2 881.5,615.9 882,615.9 882.5,616.1 883,616.5 883.5,617.1 884,618.0 884.5,619.0 885,620.1 885.5,621.3 886,622.5 886.5,623.8 887,625.1 887.5,626.3 888,627.6 888.5,628.7 889,629.8 889.5,630.9 890,631.9 890.5,632.8 891,633.7 891.5,634.5 892,635.3 892.5,636.0 893,636.6 893.5,637.2 894,637.8 894.5,638.3 895,638.8 895.5,639.2 896,639.7 896.5,640.0 897,640.4 897.5,640.8 898,641.1 898.5,641.4 899,641.6 899.5,641.9 900,642.1 900.5,642.4 901,642.6 901.5,642.8 902,643.0 902.5,643.2 903,643.3 903.5,643.5 904,643.6 904.5,643.8 905,643.9 905.5,644.0 906,644.2 906.5,644.3 907,644.4 907.5,644.5 908,644.6 908.5,644.7 909,644.8 909.5,644.8 910,644.9 910.5,645.0 911,645.1 911.5,645.1 912,645.2 912.5,645.3 913,645.3 913.5,645.4 914,645.5 914.5,645.5 915,645.6 915.5,645.6 916,645.7 916.5,645.7 917,645.8 917.5,645.8 918,645.8 918.5,645.9 919,645.9 919.5,646.0 920,646.0 920.5,646.0 921,646.1 921.5,646.1 922,646.1 922.5,646.1 923,646.2 923.5,646.2 924,646.2 924.5,646.3 925,646.3 925.5,646.3 926,646.3 926.5,646.4 927,646.4 927.5,646.4 928,646.4 928.5,646.4 929,646.5 929.5,646.5 930,646.5 930.5,646.5 931,646.5 931.5,646.6 932,646.6 932.5,646.6 933,646.6 933.5,646.6 934,646.6 934.5,646.7 935,646.7 935.5,646.7 936,646.7 936.5,646.7 937,646.7 937.5,646.7 938,646.7 938.5,646.8 939,646.8 939.5,646.8 940,646.8 940.5,646.8 941,646.8 941.5,646.8 942,646.8 942.5,646.8 943,646.9 943.5,646.9 944,646.9 944.5,646.9 945,646.9 945.5,646.9 946,646.9 946.5,646.9 947,646.9 947.5,646.9 948,646.9 948.5,647.0 949,647.0 949.5,647.0 950,647.0 950.5,647.0 951,647.0 951.5,647.0 952,647.0 952.5,647.0 953,647.0 953.5,647.0 954,647.0 954.5,647.0 955,647.0 955.5,647.0 956,647.1 956.5,647.1 957,647.1 957.5,647.1 958,647.1 958.5,647.1 959,647.1 959.5,647.1 960,647.1 960.5,647.1 961,647.1 961.5,647.1 962,647.1 962.5,647.1 963,647.1 963.5,647.1 964,647.1 964.5,647.1 965,647.1 965.5,647.2 966,647.2" fill="none" stroke="#A2142F" stroke-width="4.2" stroke-linejoin="round" stroke-linecap="butt"/>
<polyline points="569.5,602.0 570,602.0 570.5,602.0 571,602.0 571.5,602.0 572,602.0 572.5,602.0 573,602.0 573.5,602.0 574,602.0 574.5,602.0 575,602.0 575.5,602.0 576,602.0 576.5,602.0 577,602.0 577.5,602.0 578,602.0 578.5,602.0 579,602.0 579.5,602.0 580,602.0 580.5,602.0 581,602.0 581.5,602.0 582,602.0 582.5,602.0 583,602.0 583.5,602.0 584,602.0 584.5,602.0 585,602.0 585.5,602.0 586,602.0 586.5,602.0 587,602.0 587.5,602.0 588,602.0 588.5,602.0 589,602.0 589.5,602.0 590,602.0 590.5,602.0 591,602.0 591.5,602.0 592,602.0 592.5,602.0 593,602.0 593.5,602.0 594,602.0 594.5,602.0 595,602.0 595.5,602.0 596,602.0 596.5,602.0 597,602.0 597.5,602.0 598,602.0 598.5,602.0 599,602.0 599.5,602.0 600,602.0 600.5,602.0 601,602.0 601.5,602.0 602,602.0 602.5,602.0 603,602.0 603.5,602.0 604,602.0 604.5,602.0 605,602.0 605.5,602.0 606,602.0 606.5,602.0 607,602.0 607.5,602.0 608,602.0 608.5,602.0 609,602.0 609.5,602.0 610,602.0 610.5,602.0 611,601.9 611.5,601.9 612,601.9 612.5,601.9 613,601.9 613.5,601.9 614,601.9 614.5,601.9 615,601.9 615.5,601.9 616,601.9 616.5,601.9 617,601.9 617.5,601.9 618,601.9 618.5,601.9 619,601.9 619.5,601.9 620,601.9 620.5,601.9 621,601.9 621.5,601.9 622,601.9 622.5,601.9 623,601.9 623.5,601.9 624,601.9 624.5,601.9 625,601.9 625.5,601.9 626,601.9 626.5,601.9 627,601.9 627.5,601.9 628,601.9 628.5,601.9 629,601.9 629.5,601.9 630,601.9 630.5,601.9 631,601.9 631.5,601.9 632,601.9 632.5,601.9 633,601.9 633.5,601.9 634,601.9 634.5,601.9 635,601.9 635.5,601.8 636,601.8 636.5,601.8 637,601.8 637.5,601.8 638,601.8 638.5,601.8 639,601.8 639.5,601.8 640,601.8 640.5,601.8 641,601.8 641.5,601.8 642,601.8 642.5,601.8 643,601.8 643.5,601.8 644,601.8 644.5,601.8 645,601.8 645.5,601.8 646,601.8 646.5,601.8 647,601.8 647.5,601.8 648,601.8 648.5,601.8 649,601.8 649.5,601.8 650,601.8 650.5,601.8 651,601.7 651.5,601.7 652,601.7 652.5,601.7 653,601.7 653.5,601.7 654,601.7 654.5,601.7 655,601.7 655.5,601.7 656,601.7 656.5,601.7 657,601.7 657.5,601.7 658,601.7 658.5,601.7 659,601.7 659.5,601.7 660,601.7 660.5,601.7 661,601.7 661.5,601.7 662,601.6 662.5,601.6 663,601.6 663.5,601.6 664,601.6 664.5,601.6 665,601.6 665.5,601.6 666,601.6 666.5,601.6 667,601.6 667.5,601.6 668,601.6 668.5,601.6 669,601.6 669.5,601.6 670,601.5 670.5,601.5 671,601.5 671.5,601.5 672,601.5 672.5,601.5 673,601.5 673.5,601.5 674,601.5 674.5,601.5 675,601.5 675.5,601.5 676,601.5 676.5,601.4 677,601.4 677.5,601.4 678,601.4 678.5,601.4 679,601.4 679.5,601.4 680,601.4 680.5,601.4 681,601.4 681.5,601.3 682,601.3 682.5,601.3 683,601.3 683.5,601.3 684,601.3 684.5,601.3 685,601.3 685.5,601.2 686,601.2 686.5,601.2 687,601.2 687.5,601.2 688,601.2 688.5,601.2 689,601.1 689.5,601.1 690,601.1 690.5,601.1 691,601.1 691.5,601.1 692,601.0 692.5,601.0 693,601.0 693.5,601.0 694,601.0 694.5,600.9 695,600.9 695.5,600.9 696,600.9 696.5,600.8 697,600.8 697.5,600.8 698,600.8 698.5,600.7 699,600.7 699.5,600.7 700,600.7 700.5,600.6 701,600.6 701.5,600.6 702,600.5 702.5,600.5 703,600.5 703.5,600.4 704,600.4 704.5,600.3 705,600.3 705.5,600.3 706,600.2 706.5,600.2 707,600.1 707.5,600.1 708,600.0 708.5,600.0 709,599.9 709.5,599.8 710,599.8 710.5,599.7 711,599.6 711.5,599.6 712,599.5 712.5,599.4 713,599.3 713.5,599.3 714,599.2 714.5,599.1 715,599.0 715.5,598.9 716,598.7 716.5,598.6 717,598.5 717.5,598.4 718,598.2 718.5,598.1 719,597.9 719.5,597.8 720,597.6 720.5,597.4 721,597.2 721.5,597.0 722,596.8 722.5,596.6 723,596.4 723.5,596.2 724,595.9 724.5,595.7 725,595.5 725.5,595.3 726,595.0 726.5,594.8 727,594.6 727.5,594.4 728,594.3 728.5,594.1 729,594.0 729.5,593.9 730,593.8 730.5,593.7 731,593.6 731.5,593.6 732,593.5 732.5,593.5 733,593.4 733.5,593.4 734,593.3 734.5,593.2 735,593.2 735.5,593.1 736,593.0 736.5,592.8 737,592.7 737.5,592.5 738,592.3 738.5,592.1 739,591.8 739.5,591.5 740,591.2 740.5,590.8 741,590.4 741.5,590.0 742,589.5 742.5,589.0 743,588.4 743.5,587.8 744,587.1 744.5,586.4 745,585.6 745.5,584.7 746,583.8 746.5,582.7 747,581.6 747.5,580.4 748,579.1 748.5,577.6 749,576.1 749.5,574.4 750,572.6 750.5,570.7 751,568.7 751.5,566.6 752,564.4 752.5,562.1 753,559.8 753.5,557.5 754,555.2 754.5,553.0 755,551.0 755.5,549.3 756,547.9 756.5,546.9 757,546.3 757.5,546.2 758,546.5 758.5,547.3 759,548.5 759.5,550.1 760,551.9 760.5,554.0 761,556.2 761.5,558.5 762,560.8 762.5,563.1 763,565.3 763.5,567.5 764,569.5 764.5,571.4 765,573.3 765.5,575.0 766,576.5 766.5,578.0 767,579.3 767.5,580.6 768,581.7 768.5,582.7 769,583.7 769.5,584.6 770,585.4 770.5,586.1 771,586.8 771.5,587.4 772,587.9 772.5,588.4 773,588.8 773.5,589.2 774,589.5 774.5,589.8 775,590.0 775.5,590.2 776,590.4 776.5,590.5 777,590.5 777.5,590.5 778,590.5 778.5,590.4 779,590.2 779.5,590.0 780,589.7 780.5,589.4 781,589.0 781.5,588.6 782,588.1 782.5,587.5 783,587.0 783.5,586.4 784,585.8 784.5,585.3 785,584.9 785.5,584.6 786,584.4 786.5,584.4 787,584.6 787.5,585.0 788,585.5 788.5,586.2 789,586.9 789.5,587.6 790,588.4 790.5,589.2 791,589.9 791.5,590.5 792,591.2 792.5,591.7 793,592.3 793.5,592.7 794,593.2 794.5,593.5 795,593.9 795.5,594.2 796,594.4 796.5,594.7 797,594.8 797.5,595.0 798,595.2 798.5,595.3 799,595.4 799.5,595.4 800,595.5 800.5,595.5 801,595.5 801.5,595.5 802,595.5 802.5,595.4 803,595.3 803.5,595.2 804,595.1 804.5,594.9 805,594.8 805.5,594.6 806,594.3 806.5,594.1 807,593.8 807.5,593.4 808,593.0 808.5,592.6 809,592.2 809.5,591.6 810,591.1 810.5,590.5 811,589.8 811.5,589.1 812,588.3 812.5,587.5 813,586.6 813.5,585.8 814,584.9 814.5,584.1 815,583.3 815.5,582.7 816,582.1 816.5,581.8 817,581.6 817.5,581.6 818,581.9 818.5,582.3 819,582.8 819.5,583.5 820,584.3 820.5,585.2 821,586.1 821.5,587.0 822,587.9 822.5,588.7 823,589.5 823.5,590.3 824,591.0 824.5,591.6 825,592.2 825.5,592.8 826,593.3 826.5,593.7 827,594.1 827.5,594.5 828,594.9 828.5,595.2 829,595.5 829.5,595.7 830,596.0 830.5,596.2 831,596.4 831.5,596.5 832,596.7 832.5,596.9 833,597.0 833.5,597.1 834,597.2 834.5,597.3 835,597.4 835.5,597.5 836,597.5 836.5,597.6 837,597.6 837.5,597.7 838,597.7 838.5,597.7 839,597.8 839.5,597.8 840,597.8 840.5,597.8 841,597.8 841.5,597.8 842,597.8 842.5,597.7 843,597.7 843.5,597.7 844,597.6 844.5,597.6 845,597.5 845.5,597.5 846,597.4 846.5,597.3 847,597.3 847.5,597.2 848,597.1 848.5,597.0 849,596.9 849.5,596.7 850,596.6 850.5,596.5 851,596.3 851.5,596.2 852,596.0 852.5,595.8 853,595.6 853.5,595.4 854,595.2 854.5,594.9 855,594.6 855.5,594.3 856,594.0 856.5,593.7 857,593.3 857.5,592.9 858,592.5 858.5,592.1 859,591.6 859.5,591.0 860,590.4 860.5,589.8 861,589.1 861.5,588.4 862,587.5 862.5,586.7 863,585.7 863.5,584.6 864,583.5 864.5,582.2 865,580.8 865.5,579.4 866,577.8 866.5,576.0 867,574.2 867.5,572.3 868,570.2 868.5,568.1 869,565.9 869.5,563.8 870,561.7 870.5,559.8 871,558.1 871.5,556.7 872,555.6 872.5,554.9 873,554.7 873.5,554.9 874,555.5 874.5,556.3 875,557.5 875.5,558.8 876,560.2 876.5,561.6 877,563.0 877.5,564.4 878,565.6 878.5,566.8 879,567.8 879.5,568.8 880,569.6 880.5,570.4 881,571.1 881.5,571.8 882,572.4 882.5,573.0 883,573.7 883.5,574.3 884,575.0 884.5,575.7 885,576.5 885.5,577.3 886,578.2 886.5,579.1 887,580.0 887.5,580.9 888,581.8 888.5,582.7 889,583.6 889.5,584.5 890,585.3 890.5,586.2 891,586.9 891.5,587.7 892,588.4 892.5,589.1 893,589.7 893.5,590.3 894,590.9 894.5,591.5 895,592.0 895.5,592.4 896,592.9 896.5,593.3 897,593.7 897.5,594.1 898,594.4 898.5,594.8 899,595.1 899.5,595.4 900,595.6 900.5,595.9 901,596.1 901.5,596.4 902,596.6 902.5,596.8 903,597.0 903.5,597.2 904,597.4 904.5,597.5 905,597.7 905.5,597.8 906,598.0 906.5,598.1 907,598.2 907.5,598.4 908,598.5 908.5,598.6 909,598.7 909.5,598.8 910,598.9 910.5,599.0 911,599.1 911.5,599.2 912,599.2 912.5,599.3 913,599.4 913.5,599.5 914,599.5 914.5,599.6 915,599.7 915.5,599.7 916,599.8 916.5,599.9 917,599.9 917.5,600.0 918,600.0 918.5,600.1 919,600.1 919.5,600.2 920,600.2 920.5,600.2 921,600.3 921.5,600.3 922,600.4 922.5,600.4 923,600.4 923.5,600.5 924,600.5 924.5,600.5 925,600.6 925.5,600.6 926,600.6 926.5,600.7 927,600.7 927.5,600.7 928,600.7 928.5,600.8 929,600.8 929.5,600.8 930,600.8 930.5,600.9 931,600.9 931.5,600.9 932,600.9 932.5,601.0 933,601.0 933.5,601.0 934,601.0 934.5,601.0 935,601.0 935.5,601.1 936,601.1 936.5,601.1 937,601.1 937.5,601.1 938,601.1 938.5,601.2 939,601.2 939.5,601.2 940,601.2 940.5,601.2 941,601.2 941.5,601.3 942,601.3 942.5,601.3 943,601.3 943.5,601.3 944,601.3 944.5,601.3 945,601.3 945.5,601.3 946,601.4 946.5,601.4 947,601.4 947.5,601.4 948,601.4 948.5,601.4 949,601.4 949.5,601.4 950,601.4 950.5,601.4 951,601.5 951.5,601.5 952,601.5 952.5,601.5 953,601.5 953.5,601.5 954,601.5 954.5,601.5 955,601.5 955.5,601.5 956,601.5 956.5,601.5 957,601.6 957.5,601.6 958,601.6 958.5,601.6 959,601.6 959.5,601.6 960,601.6 960.5,601.6 961,601.6 961.5,601.6 962,601.6 962.5,601.6 963,601.6 963.5,601.6 964,601.6 964.5,601.6 965,601.7 965.5,601.7 966,601.7" fill="none" stroke="#0072BD" stroke-width="4.2" stroke-linejoin="round" stroke-linecap="butt"/>
<polyline points="569.5,556.6 570,556.6 570.5,556.6 571,556.6 571.5,556.6 572,556.6 572.5,556.6 573,556.6 573.5,556.6 574,556.6 574.5,556.6 575,556.6 575.5,556.6 576,556.6 576.5,556.6 577,556.6 577.5,556.6 578,556.6 578.5,556.6 579,556.6 579.5,556.6 580,556.6 580.5,556.6 581,556.6 581.5,556.6 582,556.6 582.5,556.6 583,556.6 583.5,556.6 584,556.6 584.5,556.6 585,556.6 585.5,556.6 586,556.6 586.5,556.6 587,556.6 587.5,556.6 588,556.6 588.5,556.6 589,556.6 589.5,556.6 590,556.6 590.5,556.6 591,556.6 591.5,556.6 592,556.6 592.5,556.6 593,556.6 593.5,556.6 594,556.6 594.5,556.6 595,556.6 595.5,556.6 596,556.6 596.5,556.6 597,556.6 597.5,556.6 598,556.6 598.5,556.6 599,556.6 599.5,556.6 600,556.6 600.5,556.6 601,556.6 601.5,556.6 602,556.6 602.5,556.6 603,556.6 603.5,556.6 604,556.6 604.5,556.6 605,556.6 605.5,556.6 606,556.6 606.5,556.6 607,556.6 607.5,556.6 608,556.6 608.5,556.6 609,556.6 609.5,556.6 610,556.6 610.5,556.6 611,556.6 611.5,556.6 612,556.6 612.5,556.6 613,556.6 613.5,556.5 614,556.5 614.5,556.5 615,556.5 615.5,556.5 616,556.5 616.5,556.5 617,556.5 617.5,556.5 618,556.5 618.5,556.5 619,556.5 619.5,556.5 620,556.5 620.5,556.5 621,556.5 621.5,556.5 622,556.5 622.5,556.5 623,556.5 623.5,556.5 624,556.5 624.5,556.5 625,556.5 625.5,556.5 626,556.5 626.5,556.5 627,556.5 627.5,556.5 628,556.5 628.5,556.5 629,556.5 629.5,556.5 630,556.5 630.5,556.5 631,556.5 631.5,556.5 632,556.5 632.5,556.5 633,556.5 633.5,556.5 634,556.5 634.5,556.5 635,556.5 635.5,556.5 636,556.5 636.5,556.5 637,556.5 637.5,556.4 638,556.4 638.5,556.4 639,556.4 639.5,556.4 640,556.4 640.5,556.4 641,556.4 641.5,556.4 642,556.4 642.5,556.4 643,556.4 643.5,556.4 644,556.4 644.5,556.4 645,556.4 645.5,556.4 646,556.4 646.5,556.4 647,556.4 647.5,556.4 648,556.4 648.5,556.4 649,556.4 649.5,556.4 650,556.4 650.5,556.4 651,556.4 651.5,556.4 652,556.4 652.5,556.3 653,556.3 653.5,556.3 654,556.3 654.5,556.3 655,556.3 655.5,556.3 656,556.3 656.5,556.3 657,556.3 657.5,556.3 658,556.3 658.5,556.3 659,556.3 659.5,556.3 660,556.3 660.5,556.3 661,556.3 661.5,556.3 662,556.3 662.5,556.3 663,556.2 663.5,556.2 664,556.2 664.5,556.2 665,556.2 665.5,556.2 666,556.2 666.5,556.2 667,556.2 667.5,556.2 668,556.2 668.5,556.2 669,556.2 669.5,556.2 670,556.2 670.5,556.2 671,556.1 671.5,556.1 672,556.1 672.5,556.1 673,556.1 673.5,556.1 674,556.1 674.5,556.1 675,556.1 675.5,556.1 676,556.1 676.5,556.1 677,556.0 677.5,556.0 678,556.0 678.5,556.0 679,556.0 679.5,556.0 680,556.0 680.5,556.0 681,556.0 681.5,556.0 682,555.9 682.5,555.9 683,555.9 683.5,555.9 684,555.9 684.5,555.9 685,555.9 685.5,555.9 686,555.8 686.5,555.8 687,555.8 687.5,555.8 688,555.8 688.5,555.8 689,555.8 689.5,555.7 690,555.7 690.5,555.7 691,555.7 691.5,555.7 692,555.7 692.5,555.6 693,555.6 693.5,555.6 694,555.6 694.5,555.6 695,555.5 695.5,555.5 696,555.5 696.5,555.5 697,555.5 697.5,555.4 698,555.4 698.5,555.4 699,555.4 699.5,555.3 700,555.3 700.5,555.3 701,555.2 701.5,555.2 702,555.2 702.5,555.1 703,555.1 703.5,555.1 704,555.0 704.5,555.0 705,555.0 705.5,554.9 706,554.9 706.5,554.8 707,554.8 707.5,554.7 708,554.7 708.5,554.6 709,554.6 709.5,554.5 710,554.5 710.5,554.4 711,554.3 711.5,554.3 712,554.2 712.5,554.1 713,554.0 713.5,554.0 714,553.9 714.5,553.8 715,553.7 715.5,553.6 716,553.4 716.5,553.3 717,553.2 717.5,553.0 718,552.9 718.5,552.7 719,552.5 719.5,552.3 720,552.1 720.5,551.9 721,551.6 721.5,551.3 722,551.0 722.5,550.7 723,550.3 723.5,549.9 724,549.5 724.5,549.1 725,548.7 725.5,548.3 726,548.0 726.5,547.7 727,547.5 727.5,547.3 728,547.3 728.5,547.3 729,547.3 729.5,547.3 730,547.4 730.5,547.4 731,547.4 731.5,547.4 732,547.3 732.5,547.2 733,547.0 733.5,546.9 734,546.6 734.5,546.3 735,546.0 735.5,545.7 736,545.2 736.5,544.8 737,544.3 737.5,543.7 738,543.1 738.5,542.4 739,541.7 739.5,540.9 740,540.0 740.5,539.0 741,538.0 741.5,536.9 742,535.6 742.5,534.3 743,532.9 743.5,531.3 744,529.7 744.5,527.9 745,526.0 745.5,524.0 746,521.8 746.5,519.6 747,517.3 747.5,515.0 748,512.7 748.5,510.5 749,508.4 749.5,506.5 750,504.9 750.5,503.6 751,502.7 751.5,502.2 752,502.3 752.5,502.7 753,503.7 753.5,505.0 754,506.6 754.5,508.5 755,510.6 755.5,512.9 756,515.1 756.5,517.4 757,519.6 757.5,521.8 758,523.9 758.5,525.8 759,527.7 759.5,529.4 760,531.0 760.5,532.5 761,533.9 761.5,535.2 762,536.3 762.5,537.4 763,538.4 763.5,539.3 764,540.1 764.5,540.8 765,541.5 765.5,542.1 766,542.7 766.5,543.2 767,543.6 767.5,544.0 768,544.3 768.5,544.6 769,544.9 769.5,545.1 770,545.2 770.5,545.3 771,545.4 771.5,545.4 772,545.3 772.5,545.2 773,545.0 773.5,544.8 774,544.5 774.5,544.2 775,543.7 775.5,543.2 776,542.6 776.5,542.0 777,541.3 777.5,540.6 778,539.9 778.5,539.3 779,538.8 779.5,538.4 780,538.2 780.5,538.2 781,538.5 781.5,539.0 782,539.6 782.5,540.4 783,541.2 783.5,542.1 784,542.9 784.5,543.7 785,544.4 785.5,545.1 786,545.7 786.5,546.3 787,546.8 787.5,547.2 788,547.5 788.5,547.9 789,548.1 789.5,548.3 790,548.5 790.5,548.7 791,548.8 791.5,548.9 792,548.9 792.5,548.9 793,548.9 793.5,548.9 794,548.8 794.5,548.7 795,548.6 795.5,548.4 796,548.2 796.5,548.0 797,547.7 797.5,547.4 798,547.0 798.5,546.6 799,546.2 799.5,545.7 800,545.2 800.5,544.6 801,544.0 801.5,543.3 802,542.5 802.5,541.7 803,540.9 803.5,540.0 804,539.1 804.5,538.3 805,537.4 805.5,536.7 806,536.0 806.5,535.4 807,535.0 807.5,534.8 808,534.8 808.5,535.0 809,535.4 809.5,535.9 810,536.6 810.5,537.4 811,538.3 811.5,539.2 812,540.1 812.5,541.0 813,541.9 813.5,542.8 814,543.6 814.5,544.3 815,545.0 815.5,545.7 816,546.3 816.5,546.9 817,547.4 817.5,547.9 818,548.3 818.5,548.7 819,549.1 819.5,549.4 820,549.7 820.5,550.0 821,550.3 821.5,550.5 822,550.7 822.5,550.9 823,551.1 823.5,551.2 824,551.4 824.5,551.5 825,551.6 825.5,551.7 826,551.8 826.5,551.9 827,552.0 827.5,552.1 828,552.1 828.5,552.2 829,552.2 829.5,552.3 830,552.3 830.5,552.3 831,552.4 831.5,552.4 832,552.4 832.5,552.4 833,552.4 833.5,552.4 834,552.3 834.5,552.3 835,552.3 835.5,552.2 836,552.2 836.5,552.1 837,552.1 837.5,552.0 838,552.0 838.5,551.9 839,551.8 839.5,551.7 840,551.6 840.5,551.5 841,551.4 841.5,551.2 842,551.1 842.5,550.9 843,550.8 843.5,550.6 844,550.4 844.5,550.2 845,550.0 845.5,549.7 846,549.5 846.5,549.2 847,548.9 847.5,548.6 848,548.2 848.5,547.9 849,547.4 849.5,547.0 850,546.5 850.5,546.0 851,545.4 851.5,544.8 852,544.1 852.5,543.4 853,542.6 853.5,541.7 854,540.8 854.5,539.7 855,538.6 855.5,537.3 856,536.0 856.5,534.5 857,532.9 857.5,531.1 858,529.3 858.5,527.2 859,525.1 859.5,522.8 860,520.5 860.5,518.1 861,515.8 861.5,513.5 862,511.5 862.5,509.6 863,508.2 863.5,507.2 864,506.6 864.5,506.6 865,507.0 865.5,507.9 866,509.2 866.5,510.8 867,512.6 867.5,514.4 868,516.3 868.5,518.2 869,520.0 869.5,521.7 870,523.2 870.5,524.6 871,525.8 871.5,526.9 872,527.8 872.5,528.7 873,529.4 873.5,530.0 874,530.6 874.5,531.1 875,531.6 875.5,532.1 876,532.6 876.5,533.1 877,533.7 877.5,534.4 878,535.0 878.5,535.8 879,536.6 879.5,537.4 880,538.2 880.5,539.0 881,539.9 881.5,540.7 882,541.5 882.5,542.3 883,543.0 883.5,543.7 884,544.4 884.5,545.1 885,545.7 885.5,546.3 886,546.8 886.5,547.3 887,547.8 887.5,548.2 888,548.6 888.5,549.0 889,549.4 889.5,549.7 890,550.0 890.5,550.3 891,550.6 891.5,550.9 892,551.1 892.5,551.3 893,551.5 893.5,551.7 894,551.9 894.5,552.1 895,552.3 895.5,552.5 896,552.6 896.5,552.7 897,552.9 897.5,553.0 898,553.1 898.5,553.3 899,553.4 899.5,553.5 900,553.6 900.5,553.7 901,553.8 901.5,553.8 902,553.9 902.5,554.0 903,554.1 903.5,554.2 904,554.2 904.5,554.3 905,554.4 905.5,554.4 906,554.5 906.5,554.5 907,554.6 907.5,554.6 908,554.7 908.5,554.7 909,554.8 909.5,554.8 910,554.9 910.5,554.9 911,555.0 911.5,555.0 912,555.0 912.5,555.1 913,555.1 913.5,555.2 914,555.2 914.5,555.2 915,555.2 915.5,555.3 916,555.3 916.5,555.3 917,555.4 917.5,555.4 918,555.4 918.5,555.4 919,555.5 919.5,555.5 920,555.5 920.5,555.5 921,555.6 921.5,555.6 922,555.6 922.5,555.6 923,555.6 923.5,555.7 924,555.7 924.5,555.7 925,555.7 925.5,555.7 926,555.7 926.5,555.8 927,555.8 927.5,555.8 928,555.8 928.5,555.8 929,555.8 929.5,555.9 930,555.9 930.5,555.9 931,555.9 931.5,555.9 932,555.9 932.5,555.9 933,555.9 933.5,556.0 934,556.0 934.5,556.0 935,556.0 935.5,556.0 936,556.0 936.5,556.0 937,556.0 937.5,556.0 938,556.0 938.5,556.1 939,556.1 939.5,556.1 940,556.1 940.5,556.1 941,556.1 941.5,556.1 942,556.1 942.5,556.1 943,556.1 943.5,556.1 944,556.1 944.5,556.2 945,556.2 945.5,556.2 946,556.2 946.5,556.2 947,556.2 947.5,556.2 948,556.2 948.5,556.2 949,556.2 949.5,556.2 950,556.2 950.5,556.2 951,556.2 951.5,556.2 952,556.3 952.5,556.3 953,556.3 953.5,556.3 954,556.3 954.5,556.3 955,556.3 955.5,556.3 956,556.3 956.5,556.3 957,556.3 957.5,556.3 958,556.3 958.5,556.3 959,556.3 959.5,556.3 960,556.3 960.5,556.3 961,556.3 961.5,556.3 962,556.4 962.5,556.4 963,556.4 963.5,556.4 964,556.4 964.5,556.4 965,556.4 965.5,556.4 966,556.4" fill="none" stroke="#D95319" stroke-width="4.2" stroke-linejoin="round" stroke-linecap="butt"/>
<polyline points="569.5,511.2 570,511.2 570.5,511.2 571,511.2 571.5,511.2 572,511.2 572.5,511.2 573,511.2 573.5,511.2 574,511.2 574.5,511.1 575,511.1 575.5,511.1 576,511.1 576.5,511.1 577,511.1 577.5,511.1 578,511.1 578.5,511.1 579,511.1 579.5,511.1 580,511.1 580.5,511.1 581,511.1 581.5,511.1 582,511.1 582.5,511.1 583,511.1 583.5,511.1 584,511.1 584.5,511.1 585,511.1 585.5,511.1 586,511.1 586.5,511.1 587,511.1 587.5,511.1 588,511.1 588.5,511.1 589,511.1 589.5,511.1 590,511.1 590.5,511.1 591,511.1 591.5,511.1 592,511.1 592.5,511.1 593,511.1 593.5,511.1 594,511.1 594.5,511.1 595,511.1 595.5,511.1 596,511.1 596.5,511.1 597,511.1 597.5,511.0 598,511.0 598.5,511.0 599,511.0 599.5,511.0 600,511.0 600.5,511.0 601,511.0 601.5,511.0 602,511.0 602.5,511.0 603,511.0 603.5,511.0 604,511.0 604.5,511.0 605,511.0 605.5,511.0 606,511.0 606.5,511.0 607,511.0 607.5,511.0 608,511.0 608.5,511.0 609,511.0 609.5,511.0 610,511.0 610.5,511.0 611,511.0 611.5,511.0 612,511.0 612.5,510.9 613,510.9 613.5,510.9 614,510.9 614.5,510.9 615,510.9 615.5,510.9 616,510.9 616.5,510.9 617,510.9 617.5,510.9 618,510.9 618.5,510.9 619,510.9 619.5,510.9 620,510.9 620.5,510.9 621,510.9 621.5,510.9 622,510.9 622.5,510.8 623,510.8 623.5,510.8 624,510.8 624.5,510.8 625,510.8 625.5,510.8 626,510.8 626.5,510.8 627,510.8 627.5,510.8 628,510.8 628.5,510.8 629,510.8 629.5,510.8 630,510.7 630.5,510.7 631,510.7 631.5,510.7 632,510.7 632.5,510.7 633,510.7 633.5,510.7 634,510.7 634.5,510.7 635,510.7 635.5,510.7 636,510.6 636.5,510.6 637,510.6 637.5,510.6 638,510.6 638.5,510.6 639,510.6 639.5,510.6 640,510.6 640.5,510.6 641,510.5 641.5,510.5 642,510.5 642.5,510.5 643,510.5 643.5,510.5 644,510.5 644.5,510.5 645,510.4 645.5,510.4 646,510.4 646.5,510.4 647,510.4 647.5,510.4 648,510.4 648.5,510.3 649,510.3 649.5,510.3 650,510.3 650.5,510.3 651,510.3 651.5,510.2 652,510.2 652.5,510.2 653,510.2 653.5,510.2 654,510.1 654.5,510.1 655,510.1 655.5,510.1 656,510.0 656.5,510.0 657,510.0 657.5,510.0 658,509.9 658.5,509.9 659,509.9 659.5,509.9 660,509.8 660.5,509.8 661,509.8 661.5,509.7 662,509.7 662.5,509.7 663,509.6 663.5,509.6 664,509.6 664.5,509.5 665,509.5 665.5,509.4 666,509.4 666.5,509.3 667,509.3 667.5,509.3 668,509.2 668.5,509.2 669,509.1 669.5,509.0 670,509.0 670.5,508.9 671,508.9 671.5,508.8 672,508.7 672.5,508.7 673,508.6 673.5,508.5 674,508.4 674.5,508.4 675,508.3 675.5,508.2 676,508.1 676.5,508.0 677,507.9 677.5,507.8 678,507.7 678.5,507.6 679,507.4 679.5,507.3 680,507.2 680.5,507.0 681,506.9 681.5,506.7 682,506.5 682.5,506.4 683,506.2 683.5,506.0 684,505.8 684.5,505.6 685,505.3 685.5,505.1 686,504.8 686.5,504.6 687,504.3 687.5,503.9 688,503.6 688.5,503.3 689,502.9 689.5,502.5 690,502.0 690.5,501.6 691,501.1 691.5,500.5 692,499.9 692.5,499.3 693,498.6 693.5,497.9 694,497.1 694.5,496.2 695,495.3 695.5,494.3 696,493.2 696.5,492.0 697,490.7 697.5,489.3 698,487.7 698.5,486.1 699,484.2 699.5,482.3 700,480.2 700.5,477.9 701,475.4 701.5,472.8 702,470.1 702.5,467.2 703,464.3 703.5,461.4 704,458.5 704.5,455.7 705,453.2 705.5,451.0 706,449.3 706.5,448.1 707,447.5 707.5,447.6 708,448.2 708.5,449.4 709,451.2 709.5,453.3 710,455.7 710.5,458.3 711,460.9 711.5,463.6 712,466.2 712.5,468.7 713,471.0 713.5,473.2 714,475.2 714.5,476.9 715,478.5 715.5,479.8 716,481.0 716.5,481.9 717,482.7 717.5,483.4 718,483.9 718.5,484.3 719,484.6 719.5,485.0 720,485.4 720.5,485.8 721,486.4 721.5,487.2 722,488.1 722.5,489.1 723,490.2 723.5,491.4 724,492.5 724.5,493.7 725,494.8 725.5,495.9 726,496.9 726.5,497.8 727,498.6 727.5,499.4 728,500.1 728.5,500.8 729,501.3 729.5,501.9 730,502.4 730.5,502.8 731,503.3 731.5,503.6 732,504.0 732.5,504.3 733,504.6 733.5,504.9 734,505.1 734.5,505.4 735,505.6 735.5,505.8 736,506.0 736.5,506.2 737,506.4 737.5,506.5 738,506.7 738.5,506.8 739,506.9 739.5,507.1 740,507.2 740.5,507.3 741,507.4 741.5,507.5 742,507.6 742.5,507.7 743,507.8 743.5,507.8 744,507.9 744.5,508.0 745,508.1 745.5,508.1 746,508.2 746.5,508.2 747,508.3 747.5,508.3 748,508.4 748.5,508.4 749,508.5 749.5,508.5 750,508.6 750.5,508.6 751,508.6 751.5,508.7 752,508.7 752.5,508.7 753,508.7 753.5,508.8 754,508.8 754.5,508.8 755,508.8 755.5,508.9 756,508.9 756.5,508.9 757,508.9 757.5,508.9 758,508.9 758.5,508.9 759,508.9 759.5,509.0 760,509.0 760.5,509.0 761,509.0 761.5,509.0 762,509.0 762.5,509.0 763,509.0 763.5,509.0 764,509.0 764.5,509.0 765,508.9 765.5,508.9 766,508.9 766.5,508.9 767,508.9 767.5,508.9 768,508.9 768.5,508.9 769,508.8 769.5,508.8 770,508.8 770.5,508.8 771,508.8 771.5,508.7 772,508.7 772.5,508.7 773,508.7 773.5,508.6 774,508.6 774.5,508.6 775,508.5 775.5,508.5 776,508.4 776.5,508.4 777,508.4 777.5,508.3 778,508.3 778.5,508.2 779,508.1 779.5,508.1 780,508.0 780.5,508.0 781,507.9 781.5,507.8 782,507.8 782.5,507.7 783,507.6 783.5,507.5 784,507.4 784.5,507.3 785,507.2 785.5,507.1 786,507.0 786.5,506.9 787,506.8 787.5,506.7 788,506.5 788.5,506.4 789,506.2 789.5,506.1 790,505.9 790.5,505.7 791,505.6 791.5,505.4 792,505.2 792.5,504.9 793,504.7 793.5,504.5 794,504.2 794.5,503.9 795,503.6 795.5,503.3 796,503.0 796.5,502.7 797,502.3 797.5,501.9 798,501.4 798.5,501.0 799,500.5 799.5,500.0 800,499.4 800.5,498.8 801,498.1 801.5,497.4 802,496.7 802.5,495.9 803,495.0 803.5,494.0 804,493.0 804.5,491.9 805,490.7 805.5,489.4 806,488.0 806.5,486.4 807,484.8 807.5,483.0 808,481.1 808.5,479.0 809,476.8 809.5,474.5 810,472.0 810.5,469.4 811,466.8 811.5,464.0 812,461.3 812.5,458.5 813,455.9 813.5,453.5 814,451.4 814.5,449.6 815,448.3 815.5,447.5 816,447.2 816.5,447.5 817,448.3 817.5,449.6 818,451.3 818.5,453.3 819,455.6 819.5,458.1 820,460.6 820.5,463.2 821,465.7 821.5,468.1 822,470.4 822.5,472.6 823,474.6 823.5,476.4 824,478.0 824.5,479.5 825,480.8 825.5,481.9 826,482.8 826.5,483.6 827,484.2 827.5,484.7 828,485.1 828.5,485.4 829,485.8 829.5,486.2 830,486.6 830.5,487.2 831,488.0 831.5,488.9 832,489.9 832.5,491.0 833,492.2 833.5,493.3 834,494.5 834.5,495.5 835,496.6 835.5,497.5 836,498.4 836.5,499.2 837,499.9 837.5,500.6 838,501.2 838.5,501.8 839,502.3 839.5,502.7 840,503.2 840.5,503.6 841,503.9 841.5,504.3 842,504.6 842.5,504.9 843,505.2 843.5,505.4 844,505.7 844.5,505.9 845,506.1 845.5,506.3 846,506.5 846.5,506.7 847,506.8 847.5,507.0 848,507.1 848.5,507.3 849,507.4 849.5,507.5 850,507.6 850.5,507.8 851,507.9 851.5,508.0 852,508.1 852.5,508.2 853,508.2 853.5,508.3 854,508.4 854.5,508.5 855,508.6 855.5,508.6 856,508.7 856.5,508.8 857,508.8 857.5,508.9 858,509.0 858.5,509.0 859,509.1 859.5,509.1 860,509.2 860.5,509.2 861,509.3 861.5,509.3 862,509.4 862.5,509.4 863,509.4 863.5,509.5 864,509.5 864.5,509.6 865,509.6 865.5,509.6 866,509.7 866.5,509.7 867,509.7 867.5,509.8 868,509.8 868.5,509.8 869,509.9 869.5,509.9 870,509.9 870.5,509.9 871,510.0 871.5,510.0 872,510.0 872.5,510.0 873,510.1 873.5,510.1 874,510.1 874.5,510.1 875,510.1 875.5,510.2 876,510.2 876.5,510.2 877,510.2 877.5,510.2 878,510.3 878.5,510.3 879,510.3 879.5,510.3 880,510.3 880.5,510.3 881,510.4 881.5,510.4 882,510.4 882.5,510.4 883,510.4 883.5,510.4 884,510.4 884.5,510.5 885,510.5 885.5,510.5 886,510.5 886.5,510.5 887,510.5 887.5,510.5 888,510.5 888.5,510.6 889,510.6 889.5,510.6 890,510.6 890.5,510.6 891,510.6 891.5,510.6 892,510.6 892.5,510.6 893,510.6 893.5,510.7 894,510.7 894.5,510.7 895,510.7 895.5,510.7 896,510.7 896.5,510.7 897,510.7 897.5,510.7 898,510.7 898.5,510.7 899,510.7 899.5,510.8 900,510.8 900.5,510.8 901,510.8 901.5,510.8 902,510.8 902.5,510.8 903,510.8 903.5,510.8 904,510.8 904.5,510.8 905,510.8 905.5,510.8 906,510.8 906.5,510.8 907,510.8 907.5,510.9 908,510.9 908.5,510.9 909,510.9 909.5,510.9 910,510.9 910.5,510.9 911,510.9 911.5,510.9 912,510.9 912.5,510.9 913,510.9 913.5,510.9 914,510.9 914.5,510.9 915,510.9 915.5,510.9 916,510.9 916.5,510.9 917,510.9 917.5,510.9 918,511.0 918.5,511.0 919,511.0 919.5,511.0 920,511.0 920.5,511.0 921,511.0 921.5,511.0 922,511.0 922.5,511.0 923,511.0 923.5,511.0 924,511.0 924.5,511.0 925,511.0 925.5,511.0 926,511.0 926.5,511.0 927,511.0 927.5,511.0 928,511.0 928.5,511.0 929,511.0 929.5,511.0 930,511.0 930.5,511.0 931,511.0 931.5,511.0 932,511.0 932.5,511.0 933,511.1 933.5,511.1 934,511.1 934.5,511.1 935,511.1 935.5,511.1 936,511.1 936.5,511.1 937,511.1 937.5,511.1 938,511.1 938.5,511.1 939,511.1 939.5,511.1 940,511.1 940.5,511.1 941,511.1 941.5,511.1 942,511.1 942.5,511.1 943,511.1 943.5,511.1 944,511.1 944.5,511.1 945,511.1 945.5,511.1 946,511.1 946.5,511.1 947,511.1 947.5,511.1 948,511.1 948.5,511.1 949,511.1 949.5,511.1 950,511.1 950.5,511.1 951,511.1 951.5,511.1 952,511.1 952.5,511.1 953,511.1 953.5,511.1 954,511.1 954.5,511.1 955,511.1 955.5,511.1 956,511.1 956.5,511.2 957,511.2 957.5,511.2 958,511.2 958.5,511.2 959,511.2 959.5,511.2 960,511.2 960.5,511.2 961,511.2 961.5,511.2 962,511.2 962.5,511.2 963,511.2 963.5,511.2 964,511.2 964.5,511.2 965,511.2 965.5,511.2 966,511.2" fill="none" stroke="#EDB120" stroke-width="4.2" stroke-linejoin="round" stroke-linecap="butt"/>
<polyline points="569.5,465.6 570,465.6 570.5,465.6 571,465.6 571.5,465.6 572,465.6 572.5,465.6 573,465.6 573.5,465.6 574,465.6 574.5,465.6 575,465.6 575.5,465.6 576,465.6 576.5,465.6 577,465.6 577.5,465.6 578,465.6 578.5,465.6 579,465.6 579.5,465.6 580,465.6 580.5,465.6 581,465.6 581.5,465.5 582,465.5 582.5,465.5 583,465.5 583.5,465.5 584,465.5 584.5,465.5 585,465.5 585.5,465.5 586,465.5 586.5,465.5 587,465.5 587.5,465.5 588,465.5 588.5,465.5 589,465.5 589.5,465.5 590,465.5 590.5,465.5 591,465.5 591.5,465.5 592,465.4 592.5,465.4 593,465.4 593.5,465.4 594,465.4 594.5,465.4 595,465.4 595.5,465.4 596,465.4 596.5,465.4 597,465.4 597.5,465.4 598,465.4 598.5,465.4 599,465.4 599.5,465.4 600,465.3 600.5,465.3 601,465.3 601.5,465.3 602,465.3 602.5,465.3 603,465.3 603.5,465.3 604,465.3 604.5,465.3 605,465.3 605.5,465.3 606,465.2 606.5,465.2 607,465.2 607.5,465.2 608,465.2 608.5,465.2 609,465.2 609.5,465.2 610,465.2 610.5,465.2 611,465.1 611.5,465.1 612,465.1 612.5,465.1 613,465.1 613.5,465.1 614,465.1 614.5,465.1 615,465.0 615.5,465.0 616,465.0 616.5,465.0 617,465.0 617.5,465.0 618,465.0 618.5,464.9 619,464.9 619.5,464.9 620,464.9 620.5,464.9 621,464.9 621.5,464.8 622,464.8 622.5,464.8 623,464.8 623.5,464.8 624,464.7 624.5,464.7 625,464.7 625.5,464.7 626,464.6 626.5,464.6 627,464.6 627.5,464.6 628,464.5 628.5,464.5 629,464.5 629.5,464.5 630,464.4 630.5,464.4 631,464.4 631.5,464.3 632,464.3 632.5,464.3 633,464.2 633.5,464.2 634,464.2 634.5,464.1 635,464.1 635.5,464.0 636,464.0 636.5,463.9 637,463.9 637.5,463.8 638,463.8 638.5,463.7 639,463.7 639.5,463.6 640,463.6 640.5,463.5 641,463.4 641.5,463.4 642,463.3 642.5,463.2 643,463.2 643.5,463.1 644,463.0 644.5,462.9 645,462.8 645.5,462.7 646,462.6 646.5,462.5 647,462.4 647.5,462.3 648,462.2 648.5,462.0 649,461.9 649.5,461.8 650,461.6 650.5,461.5 651,461.3 651.5,461.1 652,461.0 652.5,460.8 653,460.6 653.5,460.4 654,460.1 654.5,459.9 655,459.6 655.5,459.4 656,459.1 656.5,458.8 657,458.5 657.5,458.1 658,457.7 658.5,457.4 659,456.9 659.5,456.5 660,456.0 660.5,455.5 661,455.0 661.5,454.4 662,453.8 662.5,453.2 663,452.5 663.5,451.7 664,451.0 664.5,450.2 665,449.3 665.5,448.4 666,447.5 666.5,446.5 667,445.5 667.5,444.5 668,443.5 668.5,442.5 669,441.5 669.5,440.6 670,439.7 670.5,438.9 671,438.2 671.5,437.6 672,437.2 672.5,436.9 673,436.7 673.5,436.8 674,437.0 674.5,437.4 675,437.9 675.5,438.5 676,439.2 676.5,440.1 677,441.0 677.5,441.9 678,442.9 678.5,443.9 679,444.9 679.5,445.9 680,446.8 680.5,447.7 681,448.6 681.5,449.4 682,450.2 682.5,451.0 683,451.7 683.5,452.4 684,453.0 684.5,453.6 685,454.2 685.5,454.7 686,455.2 686.5,455.6 687,456.0 687.5,456.4 688,456.8 688.5,457.1 689,457.5 689.5,457.8 690,458.0 690.5,458.3 691,458.5 691.5,458.7 692,459.0 692.5,459.1 693,459.3 693.5,459.5 694,459.6 694.5,459.8 695,459.9 695.5,460.0 696,460.1 696.5,460.2 697,460.3 697.5,460.4 698,460.5 698.5,460.6 699,460.6 699.5,460.7 700,460.7 700.5,460.7 701,460.8 701.5,460.8 702,460.8 702.5,460.8 703,460.8 703.5,460.8 704,460.8 704.5,460.8 705,460.8 705.5,460.7 706,460.7 706.5,460.7 707,460.6 707.5,460.6 708,460.5 708.5,460.4 709,460.3 709.5,460.2 710,460.1 710.5,460.0 711,459.9 711.5,459.8 712,459.6 712.5,459.5 713,459.3 713.5,459.1 714,458.9 714.5,458.7 715,458.5 715.5,458.3 716,458.0 716.5,457.7 717,457.4 717.5,457.1 718,456.7 718.5,456.3 719,455.9 719.5,455.4 720,454.9 720.5,454.4 721,453.8 721.5,453.2 722,452.4 722.5,451.7 723,450.9 723.5,449.9 724,449.0 724.5,447.9 725,446.7 725.5,445.4 726,444.0 726.5,442.5 727,440.9 727.5,439.1 728,437.2 728.5,435.2 729,433.1 729.5,431.0 730,428.8 730.5,426.6 731,424.5 731.5,422.6 732,420.8 732.5,419.4 733,418.4 733.5,417.9 734,417.8 734.5,418.2 735,419.0 735.5,420.2 736,421.8 736.5,423.6 737,425.6 737.5,427.6 738,429.7 738.5,431.7 739,433.7 739.5,435.5 740,437.3 740.5,438.9 741,440.4 741.5,441.7 742,442.9 742.5,444.0 743,445.0 743.5,445.9 744,446.7 744.5,447.3 745,447.9 745.5,448.4 746,448.8 746.5,449.1 747,449.4 747.5,449.5 748,449.6 748.5,449.6 749,449.6 749.5,449.4 750,449.2 750.5,448.9 751,448.5 751.5,448.0 752,447.5 752.5,446.8 753,446.0 753.5,445.0 754,444.0 754.5,442.8 755,441.5 755.5,440.0 756,438.3 756.5,436.5 757,434.6 757.5,432.6 758,430.5 758.5,428.4 759,426.4 759.5,424.6 760,423.0 760.5,421.8 761,421.1 761.5,420.9 762,421.3 762.5,422.2 763,423.6 763.5,425.4 764,427.3 764.5,429.5 765,431.7 765.5,433.9 766,436.0 766.5,438.0 767,439.9 767.5,441.7 768,443.3 768.5,444.7 769,446.0 769.5,447.2 770,448.3 770.5,449.2 771,450.1 771.5,450.8 772,451.5 772.5,452.0 773,452.5 773.5,453.0 774,453.3 774.5,453.6 775,453.9 775.5,454.1 776,454.2 776.5,454.2 777,454.2 777.5,454.1 778,454.0 778.5,453.7 779,453.4 779.5,453.0 780,452.6 780.5,452.0 781,451.4 781.5,450.7 782,450.1 782.5,449.6 783,449.2 783.5,449.0 784,449.0 784.5,449.2 785,449.5 785.5,449.8 786,450.0 786.5,450.2 787,450.3 787.5,450.3 788,450.1 788.5,449.9 789,449.5 789.5,449.0 790,448.4 790.5,447.7 791,446.9 791.5,445.9 792,444.8 792.5,443.6 793,442.3 793.5,440.9 794,439.5 794.5,437.9 795,436.4 795.5,434.8 796,433.4 796.5,432.0 797,430.9 797.5,430.1 798,429.6 798.5,429.5 799,429.7 799.5,430.3 800,431.3 800.5,432.5 801,434.0 801.5,435.6 802,437.3 802.5,439.0 803,440.7 803.5,442.3 804,443.9 804.5,445.4 805,446.8 805.5,448.2 806,449.4 806.5,450.5 807,451.5 807.5,452.4 808,453.3 808.5,454.1 809,454.8 809.5,455.5 810,456.1 810.5,456.7 811,457.2 811.5,457.7 812,458.1 812.5,458.5 813,458.9 813.5,459.2 814,459.6 814.5,459.9 815,460.1 815.5,460.4 816,460.6 816.5,460.9 817,461.1 817.5,461.3 818,461.5 818.5,461.6 819,461.8 819.5,461.9 820,462.1 820.5,462.2 821,462.4 821.5,462.5 822,462.6 822.5,462.7 823,462.8 823.5,462.9 824,463.0 824.5,463.1 825,463.2 825.5,463.3 826,463.3 826.5,463.4 827,463.5 827.5,463.5 828,463.6 828.5,463.7 829,463.7 829.5,463.8 830,463.8 830.5,463.9 831,463.9 831.5,464.0 832,464.0 832.5,464.1 833,464.1 833.5,464.2 834,464.2 834.5,464.2 835,464.3 835.5,464.3 836,464.4 836.5,464.4 837,464.4 837.5,464.5 838,464.5 838.5,464.5 839,464.5 839.5,464.6 840,464.6 840.5,464.6 841,464.6 841.5,464.7 842,464.7 842.5,464.7 843,464.7 843.5,464.8 844,464.8 844.5,464.8 845,464.8 845.5,464.8 846,464.9 846.5,464.9 847,464.9 847.5,464.9 848,464.9 848.5,464.9 849,465.0 849.5,465.0 850,465.0 850.5,465.0 851,465.0 851.5,465.0 852,465.0 852.5,465.1 853,465.1 853.5,465.1 854,465.1 854.5,465.1 855,465.1 855.5,465.1 856,465.1 856.5,465.2 857,465.2 857.5,465.2 858,465.2 858.5,465.2 859,465.2 859.5,465.2 860,465.2 860.5,465.2 861,465.2 861.5,465.3 862,465.3 862.5,465.3 863,465.3 863.5,465.3 864,465.3 864.5,465.3 865,465.3 865.5,465.3 866,465.3 866.5,465.3 867,465.3 867.5,465.4 868,465.4 868.5,465.4 869,465.4 869.5,465.4 870,465.4 870.5,465.4 871,465.4 871.5,465.4 872,465.4 872.5,465.4 873,465.4 873.5,465.4 874,465.4 874.5,465.4 875,465.4 875.5,465.5 876,465.5 876.5,465.5 877,465.5 877.5,465.5 878,465.5 878.5,465.5 879,465.5 879.5,465.5 880,465.5 880.5,465.5 881,465.5 881.5,465.5 882,465.5 882.5,465.5 883,465.5 883.5,465.5 884,465.5 884.5,465.5 885,465.5 885.5,465.5 886,465.6 886.5,465.6 887,465.6 887.5,465.6 888,465.6 888.5,465.6 889,465.6 889.5,465.6 890,465.6 890.5,465.6 891,465.6 891.5,465.6 892,465.6 892.5,465.6 893,465.6 893.5,465.6 894,465.6 894.5,465.6 895,465.6 895.5,465.6 896,465.6 896.5,465.6 897,465.6 897.5,465.6 898,465.6 898.5,465.6 899,465.6 899.5,465.6 900,465.6 900.5,465.6 901,465.7 901.5,465.7 902,465.7 902.5,465.7 903,465.7 903.5,465.7 904,465.7 904.5,465.7 905,465.7 905.5,465.7 906,465.7 906.5,465.7 907,465.7 907.5,465.7 908,465.7 908.5,465.7 909,465.7 909.5,465.7 910,465.7 910.5,465.7 911,465.7 911.5,465.7 912,465.7 912.5,465.7 913,465.7 913.5,465.7 914,465.7 914.5,465.7 915,465.7 915.5,465.7 916,465.7 916.5,465.7 917,465.7 917.5,465.7 918,465.7 918.5,465.7 919,465.7 919.5,465.7 920,465.7 920.5,465.7 921,465.7 921.5,465.7 922,465.7 922.5,465.7 923,465.7 923.5,465.7 924,465.7 924.5,465.7 925,465.7 925.5,465.8 926,465.8 926.5,465.8 927,465.8 927.5,465.8 928,465.8 928.5,465.8 929,465.8 929.5,465.8 930,465.8 930.5,465.8 931,465.8 931.5,465.8 932,465.8 932.5,465.8 933,465.8 933.5,465.8 934,465.8 934.5,465.8 935,465.8 935.5,465.8 936,465.8 936.5,465.8 937,465.8 937.5,465.8 938,465.8 938.5,465.8 939,465.8 939.5,465.8 940,465.8 940.5,465.8 941,465.8 941.5,465.8 942,465.8 942.5,465.8 943,465.8 943.5,465.8 944,465.8 944.5,465.8 945,465.8 945.5,465.8 946,465.8 946.5,465.8 947,465.8 947.5,465.8 948,465.8 948.5,465.8 949,465.8 949.5,465.8 950,465.8 950.5,465.8 951,465.8 951.5,465.8 952,465.8 952.5,465.8 953,465.8 953.5,465.8 954,465.8 954.5,465.8 955,465.8 955.5,465.8 956,465.8 956.5,465.8 957,465.8 957.5,465.8 958,465.8 958.5,465.8 959,465.8 959.5,465.8 960,465.8 960.5,465.8 961,465.8 961.5,465.8 962,465.8 962.5,465.8 963,465.8 963.5,465.8 964,465.8 964.5,465.8 965,465.8 965.5,465.8 966,465.8" fill="none" stroke="#7E2F8E" stroke-width="4.2" stroke-linejoin="round" stroke-linecap="butt"/>
<polyline points="569.5,420.2 570,420.2 570.5,420.2 571,420.2 571.5,420.2 572,420.2 572.5,420.2 573,420.2 573.5,420.2 574,420.2 574.5,420.2 575,420.2 575.5,420.2 576,420.2 576.5,420.2 577,420.2 577.5,420.1 578,420.1 578.5,420.1 579,420.1 579.5,420.1 580,420.1 580.5,420.1 581,420.1 581.5,420.1 582,420.1 582.5,420.1 583,420.1 583.5,420.1 584,420.1 584.5,420.1 585,420.1 585.5,420.1 586,420.1 586.5,420.1 587,420.1 587.5,420.1 588,420.0 588.5,420.0 589,420.0 589.5,420.0 590,420.0 590.5,420.0 591,420.0 591.5,420.0 592,420.0 592.5,420.0 593,420.0 593.5,420.0 594,420.0 594.5,420.0 595,420.0 595.5,420.0 596,419.9 596.5,419.9 597,419.9 597.5,419.9 598,419.9 598.5,419.9 599,419.9 599.5,419.9 600,419.9 600.5,419.9 601,419.9 601.5,419.9 602,419.9 602.5,419.8 603,419.8 603.5,419.8 604,419.8 604.5,419.8 605,419.8 605.5,419.8 606,419.8 606.5,419.8 607,419.8 607.5,419.7 608,419.7 608.5,419.7 609,419.7 609.5,419.7 610,419.7 610.5,419.7 611,419.7 611.5,419.6 612,419.6 612.5,419.6 613,419.6 613.5,419.6 614,419.6 614.5,419.6 615,419.5 615.5,419.5 616,419.5 616.5,419.5 617,419.5 617.5,419.5 618,419.4 618.5,419.4 619,419.4 619.5,419.4 620,419.4 620.5,419.3 621,419.3 621.5,419.3 622,419.3 622.5,419.3 623,419.2 623.5,419.2 624,419.2 624.5,419.2 625,419.1 625.5,419.1 626,419.1 626.5,419.0 627,419.0 627.5,419.0 628,418.9 628.5,418.9 629,418.9 629.5,418.8 630,418.8 630.5,418.8 631,418.7 631.5,418.7 632,418.6 632.5,418.6 633,418.6 633.5,418.5 634,418.5 634.5,418.4 635,418.4 635.5,418.3 636,418.2 636.5,418.2 637,418.1 637.5,418.1 638,418.0 638.5,417.9 639,417.9 639.5,417.8 640,417.7 640.5,417.6 641,417.5 641.5,417.4 642,417.3 642.5,417.2 643,417.1 643.5,417.0 644,416.9 644.5,416.8 645,416.7 645.5,416.5 646,416.4 646.5,416.2 647,416.1 647.5,415.9 648,415.8 648.5,415.6 649,415.4 649.5,415.2 650,414.9 650.5,414.7 651,414.5 651.5,414.2 652,413.9 652.5,413.6 653,413.3 653.5,413.0 654,412.6 654.5,412.2 655,411.8 655.5,411.4 656,410.9 656.5,410.4 657,409.8 657.5,409.3 658,408.6 658.5,408.0 659,407.3 659.5,406.5 660,405.7 660.5,404.8 661,403.9 661.5,402.9 662,401.9 662.5,400.9 663,399.7 663.5,398.6 664,397.4 664.5,396.2 665,395.0 665.5,393.9 666,392.8 666.5,391.7 667,390.8 667.5,390.0 668,389.4 668.5,388.9 669,388.7 669.5,388.6 670,388.8 670.5,389.2 671,389.8 671.5,390.5 672,391.4 672.5,392.4 673,393.4 673.5,394.6 674,395.7 674.5,396.9 675,398.0 675.5,399.2 676,400.3 676.5,401.3 677,402.3 677.5,403.3 678,404.2 678.5,405.0 679,405.8 679.5,406.5 680,407.2 680.5,407.8 681,408.4 681.5,409.0 682,409.5 682.5,410.0 683,410.4 683.5,410.8 684,411.2 684.5,411.6 685,411.9 685.5,412.2 686,412.5 686.5,412.8 687,413.0 687.5,413.2 688,413.4 688.5,413.6 689,413.8 689.5,414.0 690,414.1 690.5,414.2 691,414.4 691.5,414.5 692,414.6 692.5,414.7 693,414.8 693.5,414.8 694,414.9 694.5,414.9 695,415.0 695.5,415.0 696,415.1 696.5,415.1 697,415.1 697.5,415.1 698,415.1 698.5,415.1 699,415.1 699.5,415.1 700,415.1 700.5,415.1 701,415.0 701.5,415.0 702,414.9 702.5,414.9 703,414.8 703.5,414.7 704,414.6 704.5,414.5 705,414.4 705.5,414.3 706,414.2 706.5,414.1 707,413.9 707.5,413.8 708,413.6 708.5,413.4 709,413.2 709.5,413.0 710,412.8 710.5,412.6 711,412.3 711.5,412.0 712,411.7 712.5,411.4 713,411.1 713.5,410.7 714,410.3 714.5,409.9 715,409.4 715.5,408.9 716,408.4 716.5,407.8 717,407.2 717.5,406.5 718,405.8 718.5,405.0 719,404.1 719.5,403.2 720,402.3 720.5,401.2 721,400.1 721.5,398.9 722,397.6 722.5,396.3 723,394.8 723.5,393.3 724,391.8 724.5,390.2 725,388.6 725.5,386.9 726,385.3 726.5,383.8 727,382.4 727.5,381.1 728,380.0 728.5,379.2 729,378.6 729.5,378.3 730,378.3 730.5,378.7 731,379.3 731.5,380.1 732,381.2 732.5,382.5 733,383.9 733.5,385.4 734,386.9 734.5,388.4 735,390.0 735.5,391.5 736,392.9 736.5,394.3 737,395.6 737.5,396.8 738,397.9 738.5,399.0 739,400.0 739.5,400.8 740,401.7 740.5,402.4 741,403.1 741.5,403.7 742,404.2 742.5,404.7 743,405.1 743.5,405.5 744,405.8 744.5,406.0 745,406.2 745.5,406.4 746,406.5 746.5,406.6 747,406.6 747.5,406.5 748,406.4 748.5,406.3 749,406.1 749.5,405.8 750,405.5 750.5,405.1 751,404.6 751.5,404.1 752,403.4 752.5,402.7 753,401.9 753.5,401.0 754,399.9 754.5,398.7 755,397.4 755.5,395.9 756,394.3 756.5,392.5 757,390.6 757.5,388.6 758,386.5 758.5,384.3 759,382.2 759.5,380.1 760,378.3 760.5,376.8 761,375.7 761.5,375.1 762,375.1 762.5,375.6 763,376.7 763.5,378.2 764,380.0 764.5,382.0 765,384.2 765.5,386.5 766,388.7 766.5,390.8 767,392.8 767.5,394.6 768,396.3 768.5,397.9 769,399.3 769.5,400.6 770,401.8 770.5,402.8 771,403.7 771.5,404.5 772,405.3 772.5,405.9 773,406.5 773.5,407.0 774,407.4 774.5,407.8 775,408.1 775.5,408.4 776,408.6 776.5,408.7 777,408.8 777.5,408.9 778,408.9 778.5,408.9 779,408.8 779.5,408.7 780,408.6 780.5,408.3 781,408.1 781.5,407.8 782,407.4 782.5,407.0 783,406.5 783.5,405.9 784,405.3 784.5,404.6 785,403.8 785.5,403.0 786,402.1 786.5,401.1 787,400.1 787.5,399.1 788,398.1 788.5,397.0 789,396.0 789.5,395.1 790,394.3 790.5,393.7 791,393.2 791.5,392.9 792,392.8 792.5,392.9 793,393.1 793.5,393.3 794,393.7 794.5,394.1 795,394.4 795.5,394.7 796,394.9 796.5,395.0 797,395.0 797.5,394.9 798,394.8 798.5,394.5 799,394.3 799.5,394.1 800,394.0 800.5,394.0 801,394.2 801.5,394.6 802,395.3 802.5,396.2 803,397.3 803.5,398.5 804,399.8 804.5,401.1 805,402.4 805.5,403.6 806,404.8 806.5,406.0 807,407.0 807.5,407.9 808,408.8 808.5,409.6 809,410.3 809.5,411.0 810,411.6 810.5,412.1 811,412.6 811.5,413.1 812,413.5 812.5,413.9 813,414.2 813.5,414.5 814,414.8 814.5,415.1 815,415.4 815.5,415.6 816,415.8 816.5,416.0 817,416.2 817.5,416.4 818,416.5 818.5,416.7 819,416.8 819.5,417.0 820,417.1 820.5,417.2 821,417.3 821.5,417.4 822,417.5 822.5,417.6 823,417.7 823.5,417.8 824,417.9 824.5,418.0 825,418.0 825.5,418.1 826,418.2 826.5,418.2 827,418.3 827.5,418.4 828,418.4 828.5,418.5 829,418.5 829.5,418.6 830,418.6 830.5,418.7 831,418.7 831.5,418.8 832,418.8 832.5,418.8 833,418.9 833.5,418.9 834,418.9 834.5,419.0 835,419.0 835.5,419.0 836,419.1 836.5,419.1 837,419.1 837.5,419.2 838,419.2 838.5,419.2 839,419.2 839.5,419.3 840,419.3 840.5,419.3 841,419.3 841.5,419.3 842,419.4 842.5,419.4 843,419.4 843.5,419.4 844,419.4 844.5,419.5 845,419.5 845.5,419.5 846,419.5 846.5,419.5 847,419.5 847.5,419.6 848,419.6 848.5,419.6 849,419.6 849.5,419.6 850,419.6 850.5,419.7 851,419.7 851.5,419.7 852,419.7 852.5,419.7 853,419.7 853.5,419.7 854,419.7 854.5,419.7 855,419.8 855.5,419.8 856,419.8 856.5,419.8 857,419.8 857.5,419.8 858,419.8 858.5,419.8 859,419.8 859.5,419.8 860,419.9 860.5,419.9 861,419.9 861.5,419.9 862,419.9 862.5,419.9 863,419.9 863.5,419.9 864,419.9 864.5,419.9 865,419.9 865.5,419.9 866,420.0 866.5,420.0 867,420.0 867.5,420.0 868,420.0 868.5,420.0 869,420.0 869.5,420.0 870,420.0 870.5,420.0 871,420.0 871.5,420.0 872,420.0 872.5,420.0 873,420.0 873.5,420.0 874,420.1 874.5,420.1 875,420.1 875.5,420.1 876,420.1 876.5,420.1 877,420.1 877.5,420.1 878,420.1 878.5,420.1 879,420.1 879.5,420.1 880,420.1 880.5,420.1 881,420.1 881.5,420.1 882,420.1 882.5,420.1 883,420.1 883.5,420.1 884,420.1 884.5,420.1 885,420.2 885.5,420.2 886,420.2 886.5,420.2 887,420.2 887.5,420.2 888,420.2 888.5,420.2 889,420.2 889.5,420.2 890,420.2 890.5,420.2 891,420.2 891.5,420.2 892,420.2 892.5,420.2 893,420.2 893.5,420.2 894,420.2 894.5,420.2 895,420.2 895.5,420.2 896,420.2 896.5,420.2 897,420.2 897.5,420.2 898,420.2 898.5,420.2 899,420.2 899.5,420.2 900,420.2 900.5,420.3 901,420.3 901.5,420.3 902,420.3 902.5,420.3 903,420.3 903.5,420.3 904,420.3 904.5,420.3 905,420.3 905.5,420.3 906,420.3 906.5,420.3 907,420.3 907.5,420.3 908,420.3 908.5,420.3 909,420.3 909.5,420.3 910,420.3 910.5,420.3 911,420.3 911.5,420.3 912,420.3 912.5,420.3 913,420.3 913.5,420.3 914,420.3 914.5,420.3 915,420.3 915.5,420.3 916,420.3 916.5,420.3 917,420.3 917.5,420.3 918,420.3 918.5,420.3 919,420.3 919.5,420.3 920,420.3 920.5,420.3 921,420.3 921.5,420.3 922,420.3 922.5,420.3 923,420.3 923.5,420.3 924,420.3 924.5,420.3 925,420.3 925.5,420.4 926,420.4 926.5,420.4 927,420.4 927.5,420.4 928,420.4 928.5,420.4 929,420.4 929.5,420.4 930,420.4 930.5,420.4 931,420.4 931.5,420.4 932,420.4 932.5,420.4 933,420.4 933.5,420.4 934,420.4 934.5,420.4 935,420.4 935.5,420.4 936,420.4 936.5,420.4 937,420.4 937.5,420.4 938,420.4 938.5,420.4 939,420.4 939.5,420.4 940,420.4 940.5,420.4 941,420.4 941.5,420.4 942,420.4 942.5,420.4 943,420.4 943.5,420.4 944,420.4 944.5,420.4 945,420.4 945.5,420.4 946,420.4 946.5,420.4 947,420.4 947.5,420.4 948,420.4 948.5,420.4 949,420.4 949.5,420.4 950,420.4 950.5,420.4 951,420.4 951.5,420.4 952,420.4 952.5,420.4 953,420.4 953.5,420.4 954,420.4 954.5,420.4 955,420.4 955.5,420.4 956,420.4 956.5,420.4 957,420.4 957.5,420.4 958,420.4 958.5,420.4 959,420.4 959.5,420.4 960,420.4 960.5,420.4 961,420.4 961.5,420.4 962,420.4 962.5,420.4 963,420.4 963.5,420.4 964,420.4 964.5,420.4 965,420.4 965.5,420.4 966,420.4" fill="none" stroke="#77AC30" stroke-width="4.2" stroke-linejoin="round" stroke-linecap="butt"/>
<polyline points="569.5,374.8 570,374.8 570.5,374.8 571,374.8 571.5,374.8 572,374.8 572.5,374.8 573,374.8 573.5,374.7 574,374.7 574.5,374.7 575,374.7 575.5,374.7 576,374.7 576.5,374.7 577,374.7 577.5,374.7 578,374.7 578.5,374.7 579,374.7 579.5,374.7 580,374.7 580.5,374.7 581,374.7 581.5,374.7 582,374.7 582.5,374.7 583,374.7 583.5,374.6 584,374.6 584.5,374.6 585,374.6 585.5,374.6 586,374.6 586.5,374.6 587,374.6 587.5,374.6 588,374.6 588.5,374.6 589,374.6 589.5,374.6 590,374.6 590.5,374.6 591,374.5 591.5,374.5 592,374.5 592.5,374.5 593,374.5 593.5,374.5 594,374.5 594.5,374.5 595,374.5 595.5,374.5 596,374.5 596.5,374.4 597,374.4 597.5,374.4 598,374.4 598.5,374.4 599,374.4 599.5,374.4 600,374.4 600.5,374.4 601,374.4 601.5,374.3 602,374.3 602.5,374.3 603,374.3 603.5,374.3 604,374.3 604.5,374.3 605,374.2 605.5,374.2 606,374.2 606.5,374.2 607,374.2 607.5,374.2 608,374.2 608.5,374.1 609,374.1 609.5,374.1 610,374.1 610.5,374.1 611,374.0 611.5,374.0 612,374.0 612.5,374.0 613,374.0 613.5,373.9 614,373.9 614.5,373.9 615,373.9 615.5,373.8 616,373.8 616.5,373.8 617,373.7 617.5,373.7 618,373.7 618.5,373.7 619,373.6 619.5,373.6 620,373.6 620.5,373.5 621,373.5 621.5,373.4 622,373.4 622.5,373.4 623,373.3 623.5,373.3 624,373.2 624.5,373.2 625,373.1 625.5,373.1 626,373.0 626.5,373.0 627,372.9 627.5,372.8 628,372.8 628.5,372.7 629,372.6 629.5,372.6 630,372.5 630.5,372.4 631,372.3 631.5,372.2 632,372.1 632.5,372.0 633,371.9 633.5,371.8 634,371.7 634.5,371.6 635,371.5 635.5,371.3 636,371.2 636.5,371.0 637,370.9 637.5,370.7 638,370.5 638.5,370.3 639,370.1 639.5,369.9 640,369.7 640.5,369.4 641,369.1 641.5,368.9 642,368.5 642.5,368.2 643,367.9 643.5,367.5 644,367.1 644.5,366.6 645,366.2 645.5,365.7 646,365.1 646.5,364.5 647,363.9 647.5,363.2 648,362.5 648.5,361.7 649,360.8 649.5,359.9 650,358.9 650.5,357.8 651,356.6 651.5,355.4 652,354.1 652.5,352.8 653,351.4 653.5,350.0 654,348.5 654.5,347.1 655,345.8 655.5,344.5 656,343.4 656.5,342.4 657,341.7 657.5,341.2 658,341.0 658.5,341.1 659,341.5 659.5,342.2 660,343.0 660.5,344.1 661,345.3 661.5,346.6 662,348.0 662.5,349.4 663,350.8 663.5,352.2 664,353.5 664.5,354.8 665,356.0 665.5,357.1 666,358.2 666.5,359.2 667,360.1 667.5,361.0 668,361.8 668.5,362.5 669,363.2 669.5,363.8 670,364.4 670.5,364.9 671,365.4 671.5,365.8 672,366.2 672.5,366.6 673,367.0 673.5,367.3 674,367.6 674.5,367.9 675,368.1 675.5,368.4 676,368.6 676.5,368.8 677,369.0 677.5,369.1 678,369.3 678.5,369.4 679,369.6 679.5,369.7 680,369.8 680.5,369.9 681,370.0 681.5,370.1 682,370.1 682.5,370.2 683,370.3 683.5,370.3 684,370.3 684.5,370.4 685,370.4 685.5,370.4 686,370.5 686.5,370.5 687,370.5 687.5,370.5 688,370.5 688.5,370.4 689,370.4 689.5,370.4 690,370.4 690.5,370.3 691,370.3 691.5,370.2 692,370.2 692.5,370.1 693,370.0 693.5,369.9 694,369.8 694.5,369.7 695,369.6 695.5,369.5 696,369.4 696.5,369.3 697,369.1 697.5,368.9 698,368.8 698.5,368.6 699,368.4 699.5,368.2 700,367.9 700.5,367.7 701,367.4 701.5,367.1 702,366.8 702.5,366.5 703,366.1 703.5,365.8 704,365.3 704.5,364.9 705,364.4 705.5,363.9 706,363.3 706.5,362.7 707,362.1 707.5,361.3 708,360.6 708.5,359.7 709,358.8 709.5,357.9 710,356.8 710.5,355.7 711,354.5 711.5,353.2 712,351.8 712.5,350.4 713,348.9 713.5,347.3 714,345.7 714.5,344.1 715,342.5 715.5,341.0 716,339.6 716.5,338.3 717,337.2 717.5,336.4 718,335.8 718.5,335.5 719,335.6 719.5,336.0 720,336.6 720.5,337.5 721,338.7 721.5,340.0 722,341.4 722.5,342.9 723,344.4 723.5,346.0 724,347.5 724.5,348.9 725,350.3 725.5,351.7 726,352.9 726.5,354.1 727,355.1 727.5,356.1 728,357.0 728.5,357.9 729,358.6 729.5,359.3 730,359.9 730.5,360.5 731,361.0 731.5,361.5 732,361.9 732.5,362.2 733,362.5 733.5,362.8 734,363.0 734.5,363.2 735,363.3 735.5,363.4 736,363.5 736.5,363.5 737,363.5 737.5,363.4 738,363.3 738.5,363.2 739,363.0 739.5,362.7 740,362.4 740.5,362.1 741,361.7 741.5,361.2 742,360.7 742.5,360.1 743,359.4 743.5,358.6 744,357.8 744.5,356.8 745,355.7 745.5,354.5 746,353.1 746.5,351.6 747,350.0 747.5,348.2 748,346.3 748.5,344.2 749,342.1 749.5,340.0 750,337.9 750.5,335.9 751,334.2 751.5,332.8 752,331.8 752.5,331.4 753,331.5 753.5,332.1 754,333.3 754.5,334.8 755,336.6 755.5,338.7 756,340.8 756.5,343.0 757,345.1 757.5,347.1 758,349.0 758.5,350.8 759,352.4 759.5,353.9 760,355.2 760.5,356.4 761,357.5 761.5,358.4 762,359.3 762.5,360.1 763,360.8 763.5,361.4 764,361.9 764.5,362.4 765,362.8 765.5,363.1 766,363.4 766.5,363.6 767,363.8 767.5,364.0 768,364.1 768.5,364.1 769,364.1 769.5,364.1 770,364.0 770.5,363.9 771,363.8 771.5,363.5 772,363.3 772.5,363.0 773,362.6 773.5,362.2 774,361.7 774.5,361.1 775,360.5 775.5,359.8 776,359.0 776.5,358.1 777,357.2 777.5,356.1 778,355.0 778.5,353.8 779,352.5 779.5,351.1 780,349.8 780.5,348.5 781,347.2 781.5,346.0 782,345.1 782.5,344.3 783,343.8 783.5,343.6 784,343.7 784.5,344.1 785,344.7 785.5,345.5 786,346.4 786.5,347.4 787,348.5 787.5,349.5 788,350.4 788.5,351.3 789,352.0 789.5,352.7 790,353.2 790.5,353.6 791,353.9 791.5,354.1 792,354.2 792.5,354.2 793,354.2 793.5,354.2 794,354.2 794.5,354.3 795,354.4 795.5,354.7 796,355.1 796.5,355.6 797,356.3 797.5,357.0 798,357.9 798.5,358.7 799,359.7 799.5,360.6 800,361.4 800.5,362.3 801,363.1 801.5,363.9 802,364.6 802.5,365.2 803,365.8 803.5,366.4 804,366.9 804.5,367.4 805,367.8 805.5,368.2 806,368.6 806.5,368.9 807,369.3 807.5,369.5 808,369.8 808.5,370.1 809,370.3 809.5,370.5 810,370.7 810.5,370.9 811,371.1 811.5,371.2 812,371.4 812.5,371.5 813,371.7 813.5,371.8 814,371.9 814.5,372.0 815,372.1 815.5,372.2 816,372.3 816.5,372.4 817,372.5 817.5,372.6 818,372.7 818.5,372.7 819,372.8 819.5,372.9 820,372.9 820.5,373.0 821,373.0 821.5,373.1 822,373.2 822.5,373.2 823,373.2 823.5,373.3 824,373.3 824.5,373.4 825,373.4 825.5,373.5 826,373.5 826.5,373.5 827,373.6 827.5,373.6 828,373.6 828.5,373.7 829,373.7 829.5,373.7 830,373.8 830.5,373.8 831,373.8 831.5,373.8 832,373.9 832.5,373.9 833,373.9 833.5,373.9 834,374.0 834.5,374.0 835,374.0 835.5,374.0 836,374.0 836.5,374.1 837,374.1 837.5,374.1 838,374.1 838.5,374.1 839,374.2 839.5,374.2 840,374.2 840.5,374.2 841,374.2 841.5,374.2 842,374.2 842.5,374.3 843,374.3 843.5,374.3 844,374.3 844.5,374.3 845,374.3 845.5,374.3 846,374.3 846.5,374.4 847,374.4 847.5,374.4 848,374.4 848.5,374.4 849,374.4 849.5,374.4 850,374.4 850.5,374.4 851,374.5 851.5,374.5 852,374.5 852.5,374.5 853,374.5 853.5,374.5 854,374.5 854.5,374.5 855,374.5 855.5,374.5 856,374.5 856.5,374.5 857,374.6 857.5,374.6 858,374.6 858.5,374.6 859,374.6 859.5,374.6 860,374.6 860.5,374.6 861,374.6 861.5,374.6 862,374.6 862.5,374.6 863,374.6 863.5,374.6 864,374.6 864.5,374.7 865,374.7 865.5,374.7 866,374.7 866.5,374.7 867,374.7 867.5,374.7 868,374.7 868.5,374.7 869,374.7 869.5,374.7 870,374.7 870.5,374.7 871,374.7 871.5,374.7 872,374.7 872.5,374.7 873,374.7 873.5,374.7 874,374.7 874.5,374.7 875,374.8 875.5,374.8 876,374.8 876.5,374.8 877,374.8 877.5,374.8 878,374.8 878.5,374.8 879,374.8 879.5,374.8 880,374.8 880.5,374.8 881,374.8 881.5,374.8 882,374.8 882.5,374.8 883,374.8 883.5,374.8 884,374.8 884.5,374.8 885,374.8 885.5,374.8 886,374.8 886.5,374.8 887,374.8 887.5,374.8 888,374.8 888.5,374.8 889,374.8 889.5,374.9 890,374.9 890.5,374.9 891,374.9 891.5,374.9 892,374.9 892.5,374.9 893,374.9 893.5,374.9 894,374.9 894.5,374.9 895,374.9 895.5,374.9 896,374.9 896.5,374.9 897,374.9 897.5,374.9 898,374.9 898.5,374.9 899,374.9 899.5,374.9 900,374.9 900.5,374.9 901,374.9 901.5,374.9 902,374.9 902.5,374.9 903,374.9 903.5,374.9 904,374.9 904.5,374.9 905,374.9 905.5,374.9 906,374.9 906.5,374.9 907,374.9 907.5,374.9 908,374.9 908.5,374.9 909,374.9 909.5,374.9 910,374.9 910.5,374.9 911,374.9 911.5,374.9 912,374.9 912.5,374.9 913,374.9 913.5,375.0 914,375.0 914.5,375.0 915,375.0 915.5,375.0 916,375.0 916.5,375.0 917,375.0 917.5,375.0 918,375.0 918.5,375.0 919,375.0 919.5,375.0 920,375.0 920.5,375.0 921,375.0 921.5,375.0 922,375.0 922.5,375.0 923,375.0 923.5,375.0 924,375.0 924.5,375.0 925,375.0 925.5,375.0 926,375.0 926.5,375.0 927,375.0 927.5,375.0 928,375.0 928.5,375.0 929,375.0 929.5,375.0 930,375.0 930.5,375.0 931,375.0 931.5,375.0 932,375.0 932.5,375.0 933,375.0 933.5,375.0 934,375.0 934.5,375.0 935,375.0 935.5,375.0 936,375.0 936.5,375.0 937,375.0 937.5,375.0 938,375.0 938.5,375.0 939,375.0 939.5,375.0 940,375.0 940.5,375.0 941,375.0 941.5,375.0 942,375.0 942.5,375.0 943,375.0 943.5,375.0 944,375.0 944.5,375.0 945,375.0 945.5,375.0 946,375.0 946.5,375.0 947,375.0 947.5,375.0 948,375.0 948.5,375.0 949,375.0 949.5,375.0 950,375.0 950.5,375.0 951,375.0 951.5,375.0 952,375.0 952.5,375.0 953,375.0 953.5,375.0 954,375.0 954.5,375.0 955,375.0 955.5,375.0 956,375.0 956.5,375.0 957,375.0 957.5,375.0 958,375.0 958.5,375.0 959,375.0 959.5,375.1 960,375.1 960.5,375.1 961,375.1 961.5,375.1 962,375.1 962.5,375.1 963,375.1 963.5,375.1 964,375.1 964.5,375.1 965,375.1 965.5,375.1 966,375.1" fill="none" stroke="#4DBEEE" stroke-width="4.2" stroke-linejoin="round" stroke-linecap="butt"/>
<polyline points="569.5,329.3 570,329.3 570.5,329.3 571,329.3 571.5,329.3 572,329.3 572.5,329.3 573,329.3 573.5,329.3 574,329.3 574.5,329.3 575,329.3 575.5,329.3 576,329.3 576.5,329.3 577,329.3 577.5,329.3 578,329.3 578.5,329.3 579,329.3 579.5,329.2 580,329.2 580.5,329.2 581,329.2 581.5,329.2 582,329.2 582.5,329.2 583,329.2 583.5,329.2 584,329.2 584.5,329.2 585,329.2 585.5,329.2 586,329.2 586.5,329.1 587,329.1 587.5,329.1 588,329.1 588.5,329.1 589,329.1 589.5,329.1 590,329.1 590.5,329.1 591,329.1 591.5,329.1 592,329.0 592.5,329.0 593,329.0 593.5,329.0 594,329.0 594.5,329.0 595,329.0 595.5,329.0 596,329.0 596.5,328.9 597,328.9 597.5,328.9 598,328.9 598.5,328.9 599,328.9 599.5,328.9 600,328.8 600.5,328.8 601,328.8 601.5,328.8 602,328.8 602.5,328.8 603,328.7 603.5,328.7 604,328.7 604.5,328.7 605,328.7 605.5,328.6 606,328.6 606.5,328.6 607,328.6 607.5,328.5 608,328.5 608.5,328.5 609,328.5 609.5,328.4 610,328.4 610.5,328.4 611,328.3 611.5,328.3 612,328.3 612.5,328.2 613,328.2 613.5,328.2 614,328.1 614.5,328.1 615,328.0 615.5,328.0 616,327.9 616.5,327.9 617,327.8 617.5,327.8 618,327.7 618.5,327.7 619,327.6 619.5,327.5 620,327.5 620.5,327.4 621,327.3 621.5,327.2 622,327.1 622.5,327.1 623,327.0 623.5,326.9 624,326.8 624.5,326.6 625,326.5 625.5,326.4 626,326.3 626.5,326.1 627,326.0 627.5,325.8 628,325.6 628.5,325.4 629,325.2 629.5,325.0 630,324.8 630.5,324.6 631,324.3 631.5,324.0 632,323.7 632.5,323.4 633,323.0 633.5,322.6 634,322.2 634.5,321.7 635,321.2 635.5,320.7 636,320.1 636.5,319.4 637,318.7 637.5,317.9 638,317.1 638.5,316.2 639,315.2 639.5,314.2 640,313.1 640.5,311.9 641,310.7 641.5,309.4 642,308.1 642.5,306.8 643,305.5 643.5,304.3 644,303.3 644.5,302.4 645,301.7 645.5,301.3 646,301.2 646.5,301.4 647,301.9 647.5,302.6 648,303.5 648.5,304.5 649,305.7 649.5,307.0 650,308.3 650.5,309.5 651,310.8 651.5,312.0 652,313.1 652.5,314.2 653,315.2 653.5,316.1 654,317.0 654.5,317.7 655,318.5 655.5,319.1 656,319.7 656.5,320.3 657,320.8 657.5,321.2 658,321.6 658.5,322.0 659,322.4 659.5,322.7 660,323.0 660.5,323.3 661,323.5 661.5,323.7 662,323.9 662.5,324.1 663,324.3 663.5,324.4 664,324.6 664.5,324.7 665,324.8 665.5,324.9 666,325.0 666.5,325.1 667,325.2 667.5,325.3 668,325.3 668.5,325.4 669,325.4 669.5,325.5 670,325.5 670.5,325.5 671,325.6 671.5,325.6 672,325.6 672.5,325.6 673,325.6 673.5,325.6 674,325.6 674.5,325.6 675,325.5 675.5,325.5 676,325.5 676.5,325.4 677,325.4 677.5,325.3 678,325.3 678.5,325.2 679,325.2 679.5,325.1 680,325.0 680.5,324.9 681,324.8 681.5,324.7 682,324.6 682.5,324.5 683,324.4 683.5,324.2 684,324.1 684.5,323.9 685,323.8 685.5,323.6 686,323.4 686.5,323.2 687,323.0 687.5,322.7 688,322.5 688.5,322.2 689,321.9 689.5,321.6 690,321.3 690.5,320.9 691,320.6 691.5,320.1 692,319.7 692.5,319.2 693,318.7 693.5,318.1 694,317.6 694.5,316.9 695,316.2 695.5,315.5 696,314.6 696.5,313.8 697,312.8 697.5,311.8 698,310.7 698.5,309.6 699,308.3 699.5,307.0 700,305.6 700.5,304.1 701,302.6 701.5,301.1 702,299.5 702.5,298.0 703,296.5 703.5,295.1 704,293.8 704.5,292.7 705,291.8 705.5,291.2 706,290.9 706.5,290.8 707,291.0 707.5,291.4 708,292.1 708.5,293.0 709,294.0 709.5,295.1 710,296.2 710.5,297.4 711,298.6 711.5,299.7 712,300.7 712.5,301.7 713,302.6 713.5,303.4 714,304.1 714.5,304.7 715,305.3 715.5,305.8 716,306.3 716.5,306.7 717,307.1 717.5,307.5 718,307.9 718.5,308.3 719,308.7 719.5,309.1 720,309.5 720.5,310.0 721,310.5 721.5,310.9 722,311.4 722.5,311.9 723,312.4 723.5,312.9 724,313.3 724.5,313.8 725,314.1 725.5,314.5 726,314.8 726.5,315.1 727,315.4 727.5,315.6 728,315.7 728.5,315.9 729,315.9 729.5,316.0 730,315.9 730.5,315.9 731,315.8 731.5,315.6 732,315.4 732.5,315.1 733,314.8 733.5,314.4 734,313.9 734.5,313.4 735,312.8 735.5,312.1 736,311.3 736.5,310.4 737,309.4 737.5,308.4 738,307.2 738.5,305.9 739,304.6 739.5,303.1 740,301.6 740.5,300.1 741,298.5 741.5,297.0 742,295.6 742.5,294.3 743,293.2 743.5,292.4 744,292.0 744.5,291.8 745,292.0 745.5,292.5 746,293.4 746.5,294.4 747,295.7 747.5,297.0 748,298.4 748.5,299.8 749,301.2 749.5,302.5 750,303.7 750.5,304.8 751,305.7 751.5,306.6 752,307.3 752.5,307.9 753,308.3 753.5,308.7 754,308.9 754.5,309.0 755,309.0 755.5,309.0 756,308.9 756.5,308.9 757,308.8 757.5,308.8 758,308.9 758.5,309.0 759,309.3 759.5,309.7 760,310.1 760.5,310.6 761,311.2 761.5,311.7 762,312.1 762.5,312.5 763,312.9 763.5,313.2 764,313.3 764.5,313.4 765,313.4 765.5,313.3 766,313.1 766.5,312.8 767,312.4 767.5,311.9 768,311.3 768.5,310.6 769,309.8 769.5,308.9 770,307.9 770.5,306.9 771,305.9 771.5,304.9 772,304.0 772.5,303.2 773,302.5 773.5,302.1 774,301.9 774.5,302.0 775,302.3 775.5,302.8 776,303.5 776.5,304.3 777,305.1 777.5,306.0 778,306.9 778.5,307.7 779,308.4 779.5,309.0 780,309.6 780.5,310.0 781,310.3 781.5,310.5 782,310.5 782.5,310.5 783,310.5 783.5,310.4 784,310.2 784.5,310.1 785,310.1 785.5,310.1 786,310.3 786.5,310.5 787,311.0 787.5,311.5 788,312.2 788.5,312.9 789,313.8 789.5,314.6 790,315.5 790.5,316.3 791,317.2 791.5,318.0 792,318.7 792.5,319.4 793,320.1 793.5,320.7 794,321.2 794.5,321.7 795,322.2 795.5,322.6 796,323.0 796.5,323.4 797,323.7 797.5,324.0 798,324.3 798.5,324.6 799,324.8 799.5,325.0 800,325.2 800.5,325.4 801,325.6 801.5,325.8 802,325.9 802.5,326.1 803,326.2 803.5,326.4 804,326.5 804.5,326.6 805,326.7 805.5,326.8 806,326.9 806.5,327.0 807,327.1 807.5,327.2 808,327.2 808.5,327.3 809,327.4 809.5,327.4 810,327.5 810.5,327.6 811,327.6 811.5,327.7 812,327.7 812.5,327.8 813,327.8 813.5,327.9 814,327.9 814.5,328.0 815,328.0 815.5,328.1 816,328.1 816.5,328.1 817,328.2 817.5,328.2 818,328.2 818.5,328.3 819,328.3 819.5,328.3 820,328.4 820.5,328.4 821,328.4 821.5,328.4 822,328.5 822.5,328.5 823,328.5 823.5,328.5 824,328.6 824.5,328.6 825,328.6 825.5,328.6 826,328.6 826.5,328.7 827,328.7 827.5,328.7 828,328.7 828.5,328.7 829,328.7 829.5,328.8 830,328.8 830.5,328.8 831,328.8 831.5,328.8 832,328.8 832.5,328.8 833,328.9 833.5,328.9 834,328.9 834.5,328.9 835,328.9 835.5,328.9 836,328.9 836.5,328.9 837,329.0 837.5,329.0 838,329.0 838.5,329.0 839,329.0 839.5,329.0 840,329.0 840.5,329.0 841,329.0 841.5,329.1 842,329.1 842.5,329.1 843,329.1 843.5,329.1 844,329.1 844.5,329.1 845,329.1 845.5,329.1 846,329.1 846.5,329.1 847,329.1 847.5,329.2 848,329.2 848.5,329.2 849,329.2 849.5,329.2 850,329.2 850.5,329.2 851,329.2 851.5,329.2 852,329.2 852.5,329.2 853,329.2 853.5,329.2 854,329.2 854.5,329.2 855,329.2 855.5,329.3 856,329.3 856.5,329.3 857,329.3 857.5,329.3 858,329.3 858.5,329.3 859,329.3 859.5,329.3 860,329.3 860.5,329.3 861,329.3 861.5,329.3 862,329.3 862.5,329.3 863,329.3 863.5,329.3 864,329.3 864.5,329.3 865,329.3 865.5,329.3 866,329.4 866.5,329.4 867,329.4 867.5,329.4 868,329.4 868.5,329.4 869,329.4 869.5,329.4 870,329.4 870.5,329.4 871,329.4 871.5,329.4 872,329.4 872.5,329.4 873,329.4 873.5,329.4 874,329.4 874.5,329.4 875,329.4 875.5,329.4 876,329.4 876.5,329.4 877,329.4 877.5,329.4 878,329.4 878.5,329.4 879,329.4 879.5,329.4 880,329.4 880.5,329.4 881,329.5 881.5,329.5 882,329.5 882.5,329.5 883,329.5 883.5,329.5 884,329.5 884.5,329.5 885,329.5 885.5,329.5 886,329.5 886.5,329.5 887,329.5 887.5,329.5 888,329.5 888.5,329.5 889,329.5 889.5,329.5 890,329.5 890.5,329.5 891,329.5 891.5,329.5 892,329.5 892.5,329.5 893,329.5 893.5,329.5 894,329.5 894.5,329.5 895,329.5 895.5,329.5 896,329.5 896.5,329.5 897,329.5 897.5,329.5 898,329.5 898.5,329.5 899,329.5 899.5,329.5 900,329.5 900.5,329.5 901,329.5 901.5,329.5 902,329.5 902.5,329.5 903,329.5 903.5,329.5 904,329.5 904.5,329.5 905,329.6 905.5,329.6 906,329.6 906.5,329.6 907,329.6 907.5,329.6 908,329.6 908.5,329.6 909,329.6 909.5,329.6 910,329.6 910.5,329.6 911,329.6 911.5,329.6 912,329.6 912.5,329.6 913,329.6 913.5,329.6 914,329.6 914.5,329.6 915,329.6 915.5,329.6 916,329.6 916.5,329.6 917,329.6 917.5,329.6 918,329.6 918.5,329.6 919,329.6 919.5,329.6 920,329.6 920.5,329.6 921,329.6 921.5,329.6 922,329.6 922.5,329.6 923,329.6 923.5,329.6 924,329.6 924.5,329.6 925,329.6 925.5,329.6 926,329.6 926.5,329.6 927,329.6 927.5,329.6 928,329.6 928.5,329.6 929,329.6 929.5,329.6 930,329.6 930.5,329.6 931,329.6 931.5,329.6 932,329.6 932.5,329.6 933,329.6 933.5,329.6 934,329.6 934.5,329.6 935,329.6 935.5,329.6 936,329.6 936.5,329.6 937,329.6 937.5,329.6 938,329.6 938.5,329.6 939,329.6 939.5,329.6 940,329.6 940.5,329.6 941,329.6 941.5,329.6 942,329.6 942.5,329.6 943,329.6 943.5,329.6 944,329.6 944.5,329.6 945,329.6 945.5,329.6 946,329.6 946.5,329.6 947,329.6 947.5,329.6 948,329.6 948.5,329.6 949,329.6 949.5,329.6 950,329.6 950.5,329.6 951,329.6 951.5,329.7 952,329.7 952.5,329.7 953,329.7 953.5,329.7 954,329.7 954.5,329.7 955,329.7 955.5,329.7 956,329.7 956.5,329.7 957,329.7 957.5,329.7 958,329.7 958.5,329.7 959,329.7 959.5,329.7 960,329.7 960.5,329.7 961,329.7 961.5,329.7 962,329.7 962.5,329.7 963,329.7 963.5,329.7 964,329.7 964.5,329.7 965,329.7 965.5,329.7 966,329.7" fill="none" stroke="#A2142F" stroke-width="4.2" stroke-linejoin="round" stroke-linecap="butt"/>
<polyline points="569.5,284.0 570,284.0 570.5,284.0 571,284.0 571.5,284.0 572,284.0 572.5,284.0 573,284.0 573.5,284.0 574,284.0 574.5,284.0 575,284.0 575.5,284.0 576,284.0 576.5,283.9 577,283.9 577.5,283.9 578,283.9 578.5,283.9 579,283.9 579.5,283.9 580,283.9 580.5,283.9 581,283.9 581.5,283.9 582,283.9 582.5,283.9 583,283.9 583.5,283.9 584,283.9 584.5,283.9 585,283.8 585.5,283.8 586,283.8 586.5,283.8 587,283.8 587.5,283.8 588,283.8 588.5,283.8 589,283.8 589.5,283.8 590,283.8 590.5,283.8 591,283.7 591.5,283.7 592,283.7 592.5,283.7 593,283.7 593.5,283.7 594,283.7 594.5,283.7 595,283.7 595.5,283.6 596,283.6 596.5,283.6 597,283.6 597.5,283.6 598,283.6 598.5,283.5 599,283.5 599.5,283.5 600,283.5 600.5,283.5 601,283.5 601.5,283.4 602,283.4 602.5,283.4 603,283.4 603.5,283.3 604,283.3 604.5,283.3 605,283.3 605.5,283.2 606,283.2 606.5,283.2 607,283.1 607.5,283.1 608,283.0 608.5,283.0 609,282.9 609.5,282.9 610,282.8 610.5,282.8 611,282.7 611.5,282.7 612,282.6 612.5,282.5 613,282.4 613.5,282.3 614,282.2 614.5,282.1 615,282.0 615.5,281.9 616,281.8 616.5,281.6 617,281.5 617.5,281.3 618,281.1 618.5,280.9 619,280.7 619.5,280.5 620,280.2 620.5,280.0 621,279.6 621.5,279.3 622,278.9 622.5,278.5 623,278.1 623.5,277.7 624,277.2 624.5,276.7 625,276.3 625.5,275.8 626,275.4 626.5,275.0 627,274.7 627.5,274.4 628,274.3 628.5,274.3 629,274.4 629.5,274.6 630,274.9 630.5,275.2 631,275.6 631.5,276.1 632,276.5 632.5,277.0 633,277.5 633.5,277.9 634,278.3 634.5,278.7 635,279.0 635.5,279.3 636,279.6 636.5,279.9 637,280.1 637.5,280.4 638,280.6 638.5,280.7 639,280.9 639.5,281.1 640,281.2 640.5,281.3 641,281.4 641.5,281.5 642,281.6 642.5,281.7 643,281.8 643.5,281.8 644,281.9 644.5,281.9 645,282.0 645.5,282.0 646,282.1 646.5,282.1 647,282.1 647.5,282.2 648,282.2 648.5,282.2 649,282.2 649.5,282.2 650,282.2 650.5,282.2 651,282.3 651.5,282.3 652,282.3 652.5,282.3 653,282.3 653.5,282.2 654,282.2 654.5,282.2 655,282.2 655.5,282.2 656,282.2 656.5,282.2 657,282.2 657.5,282.1 658,282.1 658.5,282.1 659,282.1 659.5,282.0 660,282.0 660.5,282.0 661,281.9 661.5,281.9 662,281.9 662.5,281.8 663,281.8 663.5,281.7 664,281.7 664.5,281.6 665,281.6 665.5,281.5 666,281.5 666.5,281.4 667,281.4 667.5,281.3 668,281.2 668.5,281.1 669,281.1 669.5,281.0 670,280.9 670.5,280.8 671,280.7 671.5,280.6 672,280.5 672.5,280.4 673,280.2 673.5,280.1 674,280.0 674.5,279.8 675,279.6 675.5,279.5 676,279.3 676.5,279.1 677,278.8 677.5,278.6 678,278.3 678.5,278.0 679,277.7 679.5,277.4 680,277.0 680.5,276.7 681,276.3 681.5,275.9 682,275.4 682.5,275.0 683,274.6 683.5,274.2 684,273.9 684.5,273.6 685,273.3 685.5,273.1 686,273.0 686.5,272.9 687,272.8 687.5,272.7 688,272.7 688.5,272.5 689,272.4 689.5,272.2 690,272.0 690.5,271.7 691,271.4 691.5,271.0 692,270.6 692.5,270.1 693,269.5 693.5,268.8 694,268.1 694.5,267.3 695,266.4 695.5,265.4 696,264.3 696.5,263.1 697,261.7 697.5,260.3 698,258.6 698.5,256.9 699,255.0 699.5,252.9 700,250.7 700.5,248.4 701,246.0 701.5,243.5 702,241.1 702.5,238.8 703,236.6 703.5,234.8 704,233.3 704.5,232.3 705,231.8 705.5,231.8 706,232.3 706.5,233.2 707,234.3 707.5,235.7 708,237.2 708.5,238.8 709,240.3 709.5,241.8 710,243.2 710.5,244.5 711,245.6 711.5,246.7 712,247.7 712.5,248.6 713,249.4 713.5,250.2 714,250.9 714.5,251.7 715,252.4 715.5,253.2 716,253.9 716.5,254.7 717,255.4 717.5,256.2 718,257.0 718.5,257.8 719,258.6 719.5,259.4 720,260.2 720.5,261.0 721,261.8 721.5,262.6 722,263.3 722.5,264.0 723,264.7 723.5,265.3 724,265.9 724.5,266.5 725,267.0 725.5,267.5 726,268.0 726.5,268.5 727,268.9 727.5,269.2 728,269.6 728.5,269.9 729,270.1 729.5,270.4 730,270.6 730.5,270.7 731,270.9 731.5,271.0 732,271.0 732.5,271.1 733,271.1 733.5,271.0 734,270.9 734.5,270.8 735,270.7 735.5,270.5 736,270.2 736.5,269.9 737,269.5 737.5,269.1 738,268.6 738.5,268.1 739,267.5 739.5,266.7 740,265.9 740.5,265.0 741,264.0 741.5,262.8 742,261.6 742.5,260.1 743,258.5 743.5,256.7 744,254.8 744.5,252.7 745,250.4 745.5,248.0 746,245.5 746.5,242.9 747,240.4 747.5,238.0 748,235.9 748.5,234.2 749,232.8 749.5,232.0 750,231.6 750.5,231.7 751,232.0 751.5,232.7 752,233.4 752.5,234.2 753,235.0 753.5,235.8 754,236.7 754.5,237.5 755,238.4 755.5,239.5 756,240.7 756.5,242.1 757,243.8 757.5,245.5 758,247.5 758.5,249.5 759,251.5 759.5,253.5 760,255.4 760.5,257.3 761,259.1 761.5,260.7 762,262.2 762.5,263.6 763,264.8 763.5,266.0 764,267.0 764.5,267.9 765,268.8 765.5,269.5 766,270.2 766.5,270.8 767,271.3 767.5,271.7 768,272.1 768.5,272.5 769,272.7 769.5,272.9 770,273.1 770.5,273.2 771,273.3 771.5,273.3 772,273.2 772.5,273.1 773,272.9 773.5,272.7 774,272.4 774.5,272.0 775,271.6 775.5,271.1 776,270.5 776.5,270.0 777,269.4 777.5,268.8 778,268.3 778.5,267.9 779,267.6 779.5,267.5 780,267.5 780.5,267.8 781,268.2 781.5,268.8 782,269.5 782.5,270.3 783,271.2 783.5,272.0 784,272.8 784.5,273.6 785,274.3 785.5,275.0 786,275.6 786.5,276.2 787,276.7 787.5,277.2 788,277.6 788.5,278.0 789,278.4 789.5,278.7 790,279.0 790.5,279.3 791,279.5 791.5,279.8 792,280.0 792.5,280.2 793,280.4 793.5,280.5 794,280.7 794.5,280.8 795,281.0 795.5,281.1 796,281.2 796.5,281.3 797,281.4 797.5,281.5 798,281.6 798.5,281.7 799,281.8 799.5,281.9 800,281.9 800.5,282.0 801,282.1 801.5,282.1 802,282.2 802.5,282.2 803,282.3 803.5,282.4 804,282.4 804.5,282.4 805,282.5 805.5,282.5 806,282.6 806.5,282.6 807,282.7 807.5,282.7 808,282.7 808.5,282.8 809,282.8 809.5,282.8 810,282.9 810.5,282.9 811,282.9 811.5,282.9 812,283.0 812.5,283.0 813,283.0 813.5,283.0 814,283.1 814.5,283.1 815,283.1 815.5,283.1 816,283.2 816.5,283.2 817,283.2 817.5,283.2 818,283.2 818.5,283.3 819,283.3 819.5,283.3 820,283.3 820.5,283.3 821,283.3 821.5,283.4 822,283.4 822.5,283.4 823,283.4 823.5,283.4 824,283.4 824.5,283.4 825,283.5 825.5,283.5 826,283.5 826.5,283.5 827,283.5 827.5,283.5 828,283.5 828.5,283.5 829,283.6 829.5,283.6 830,283.6 830.5,283.6 831,283.6 831.5,283.6 832,283.6 832.5,283.6 833,283.6 833.5,283.6 834,283.6 834.5,283.7 835,283.7 835.5,283.7 836,283.7 836.5,283.7 837,283.7 837.5,283.7 838,283.7 838.5,283.7 839,283.7 839.5,283.7 840,283.7 840.5,283.8 841,283.8 841.5,283.8 842,283.8 842.5,283.8 843,283.8 843.5,283.8 844,283.8 844.5,283.8 845,283.8 845.5,283.8 846,283.8 846.5,283.8 847,283.8 847.5,283.8 848,283.8 848.5,283.9 849,283.9 849.5,283.9 850,283.9 850.5,283.9 851,283.9 851.5,283.9 852,283.9 852.5,283.9 853,283.9 853.5,283.9 854,283.9 854.5,283.9 855,283.9 855.5,283.9 856,283.9 856.5,283.9 857,283.9 857.5,283.9 858,283.9 858.5,283.9 859,283.9 859.5,284.0 860,284.0 860.5,284.0 861,284.0 861.5,284.0 862,284.0 862.5,284.0 863,284.0 863.5,284.0 864,284.0 864.5,284.0 865,284.0 865.5,284.0 866,284.0 866.5,284.0 867,284.0 867.5,284.0 868,284.0 868.5,284.0 869,284.0 869.5,284.0 870,284.0 870.5,284.0 871,284.0 871.5,284.0 872,284.0 872.5,284.0 873,284.0 873.5,284.0 874,284.0 874.5,284.0 875,284.1 875.5,284.1 876,284.1 876.5,284.1 877,284.1 877.5,284.1 878,284.1 878.5,284.1 879,284.1 879.5,284.1 880,284.1 880.5,284.1 881,284.1 881.5,284.1 882,284.1 882.5,284.1 883,284.1 883.5,284.1 884,284.1 884.5,284.1 885,284.1 885.5,284.1 886,284.1 886.5,284.1 887,284.1 887.5,284.1 888,284.1 888.5,284.1 889,284.1 889.5,284.1 890,284.1 890.5,284.1 891,284.1 891.5,284.1 892,284.1 892.5,284.1 893,284.1 893.5,284.1 894,284.1 894.5,284.1 895,284.1 895.5,284.1 896,284.1 896.5,284.1 897,284.1 897.5,284.1 898,284.1 898.5,284.1 899,284.1 899.5,284.1 900,284.2 900.5,284.2 901,284.2 901.5,284.2 902,284.2 902.5,284.2 903,284.2 903.5,284.2 904,284.2 904.5,284.2 905,284.2 905.5,284.2 906,284.2 906.5,284.2 907,284.2 907.5,284.2 908,284.2 908.5,284.2 909,284.2 909.5,284.2 910,284.2 910.5,284.2 911,284.2 911.5,284.2 912,284.2 912.5,284.2 913,284.2 913.5,284.2 914,284.2 914.5,284.2 915,284.2 915.5,284.2 916,284.2 916.5,284.2 917,284.2 917.5,284.2 918,284.2 918.5,284.2 919,284.2 919.5,284.2 920,284.2 920.5,284.2 921,284.2 921.5,284.2 922,284.2 922.5,284.2 923,284.2 923.5,284.2 924,284.2 924.5,284.2 925,284.2 925.5,284.2 926,284.2 926.5,284.2 927,284.2 927.5,284.2 928,284.2 928.5,284.2 929,284.2 929.5,284.2 930,284.2 930.5,284.2 931,284.2 931.5,284.2 932,284.2 932.5,284.2 933,284.2 933.5,284.2 934,284.2 934.5,284.2 935,284.2 935.5,284.2 936,284.2 936.5,284.2 937,284.2 937.5,284.2 938,284.2 938.5,284.2 939,284.2 939.5,284.2 940,284.2 940.5,284.2 941,284.2 941.5,284.2 942,284.2 942.5,284.2 943,284.2 943.5,284.2 944,284.2 944.5,284.2 945,284.2 945.5,284.2 946,284.2 946.5,284.2 947,284.3 947.5,284.3 948,284.3 948.5,284.3 949,284.3 949.5,284.3 950,284.3 950.5,284.3 951,284.3 951.5,284.3 952,284.3 952.5,284.3 953,284.3 953.5,284.3 954,284.3 954.5,284.3 955,284.3 955.5,284.3 956,284.3 956.5,284.3 957,284.3 957.5,284.3 958,284.3 958.5,284.3 959,284.3 959.5,284.3 960,284.3 960.5,284.3 961,284.3 961.5,284.3 962,284.3 962.5,284.3 963,284.3 963.5,284.3 964,284.3 964.5,284.3 965,284.3 965.5,284.3 966,284.3" fill="none" stroke="#0072BD" stroke-width="4.2" stroke-linejoin="round" stroke-linecap="butt"/>
<polyline points="569.5,238.7 570,238.7 570.5,238.7 571,238.7 571.5,238.7 572,238.7 572.5,238.7 573,238.7 573.5,238.7 574,238.7 574.5,238.7 575,238.7 575.5,238.7 576,238.7 576.5,238.7 577,238.7 577.5,238.7 578,238.7 578.5,238.7 579,238.7 579.5,238.7 580,238.7 580.5,238.7 581,238.7 581.5,238.7 582,238.7 582.5,238.7 583,238.7 583.5,238.6 584,238.6 584.5,238.6 585,238.6 585.5,238.6 586,238.6 586.5,238.6 587,238.6 587.5,238.6 588,238.6 588.5,238.6 589,238.6 589.5,238.6 590,238.6 590.5,238.6 591,238.6 591.5,238.6 592,238.6 592.5,238.6 593,238.6 593.5,238.6 594,238.6 594.5,238.6 595,238.6 595.5,238.6 596,238.6 596.5,238.6 597,238.6 597.5,238.6 598,238.6 598.5,238.6 599,238.6 599.5,238.5 600,238.5 600.5,238.5 601,238.5 601.5,238.5 602,238.5 602.5,238.5 603,238.5 603.5,238.5 604,238.5 604.5,238.5 605,238.5 605.5,238.5 606,238.5 606.5,238.5 607,238.5 607.5,238.5 608,238.5 608.5,238.5 609,238.5 609.5,238.5 610,238.5 610.5,238.5 611,238.4 611.5,238.4 612,238.4 612.5,238.4 613,238.4 613.5,238.4 614,238.4 614.5,238.4 615,238.4 615.5,238.4 616,238.4 616.5,238.4 617,238.4 617.5,238.4 618,238.4 618.5,238.4 619,238.4 619.5,238.3 620,238.3 620.5,238.3 621,238.3 621.5,238.3 622,238.3 622.5,238.3 623,238.3 623.5,238.3 624,238.3 624.5,238.3 625,238.3 625.5,238.3 626,238.2 626.5,238.2 627,238.2 627.5,238.2 628,238.2 628.5,238.2 629,238.2 629.5,238.2 630,238.2 630.5,238.2 631,238.2 631.5,238.1 632,238.1 632.5,238.1 633,238.1 633.5,238.1 634,238.1 634.5,238.1 635,238.1 635.5,238.1 636,238.0 636.5,238.0 637,238.0 637.5,238.0 638,238.0 638.5,238.0 639,238.0 639.5,238.0 640,237.9 640.5,237.9 641,237.9 641.5,237.9 642,237.9 642.5,237.9 643,237.8 643.5,237.8 644,237.8 644.5,237.8 645,237.8 645.5,237.8 646,237.7 646.5,237.7 647,237.7 647.5,237.7 648,237.7 648.5,237.6 649,237.6 649.5,237.6 650,237.6 650.5,237.6 651,237.5 651.5,237.5 652,237.5 652.5,237.5 653,237.4 653.5,237.4 654,237.4 654.5,237.3 655,237.3 655.5,237.3 656,237.3 656.5,237.2 657,237.2 657.5,237.2 658,237.1 658.5,237.1 659,237.1 659.5,237.0 660,237.0 660.5,236.9 661,236.9 661.5,236.9 662,236.8 662.5,236.8 663,236.7 663.5,236.7 664,236.6 664.5,236.6 665,236.5 665.5,236.5 666,236.4 666.5,236.4 667,236.3 667.5,236.2 668,236.2 668.5,236.1 669,236.0 669.5,236.0 670,235.9 670.5,235.8 671,235.7 671.5,235.6 672,235.6 672.5,235.5 673,235.4 673.5,235.3 674,235.2 674.5,235.1 675,234.9 675.5,234.8 676,234.7 676.5,234.6 677,234.4 677.5,234.3 678,234.2 678.5,234.0 679,233.8 679.5,233.7 680,233.5 680.5,233.3 681,233.1 681.5,232.9 682,232.7 682.5,232.4 683,232.2 683.5,231.9 684,231.6 684.5,231.3 685,231.0 685.5,230.7 686,230.4 686.5,230.0 687,229.6 687.5,229.2 688,228.7 688.5,228.2 689,227.7 689.5,227.1 690,226.5 690.5,225.9 691,225.2 691.5,224.5 692,223.7 692.5,222.8 693,221.9 693.5,220.8 694,219.8 694.5,218.6 695,217.3 695.5,215.9 696,214.4 696.5,212.8 697,211.0 697.5,209.2 698,207.1 698.5,205.0 699,202.7 699.5,200.2 700,197.6 700.5,194.9 701,192.2 701.5,189.4 702,186.6 702.5,184.0 703,181.4 703.5,179.2 704,177.3 704.5,175.8 705,174.8 705.5,174.4 706,174.5 706.5,175.2 707,176.4 707.5,178.0 708,180.0 708.5,182.3 709,184.7 709.5,187.3 710,189.8 710.5,192.4 711,194.8 711.5,197.2 712,199.3 712.5,201.3 713,203.2 713.5,204.8 714,206.3 714.5,207.5 715,208.6 715.5,209.5 716,210.2 716.5,210.7 717,211.1 717.5,211.3 718,211.4 718.5,211.5 719,211.7 719.5,211.9 720,212.4 720.5,213.1 721,214.0 721.5,215.1 722,216.3 722.5,217.5 723,218.7 723.5,219.8 724,220.9 724.5,221.8 725,222.6 725.5,223.4 726,224.0 726.5,224.6 727,225.1 727.5,225.5 728,225.8 728.5,226.1 729,226.4 729.5,226.6 730,226.8 730.5,226.9 731,227.0 731.5,227.0 732,227.0 732.5,227.0 733,227.0 733.5,226.9 734,226.7 734.5,226.6 735,226.4 735.5,226.2 736,225.9 736.5,225.6 737,225.3 737.5,224.9 738,224.5 738.5,224.0 739,223.4 739.5,222.8 740,222.2 740.5,221.4 741,220.6 741.5,219.8 742,218.8 742.5,217.7 743,216.6 743.5,215.3 744,213.9 744.5,212.3 745,210.6 745.5,208.8 746,206.8 746.5,204.6 747,202.3 747.5,199.8 748,197.2 748.5,194.4 749,191.5 749.5,188.5 750,185.6 750.5,182.8 751,180.1 751.5,177.8 752,175.8 752.5,174.4 753,173.5 753.5,173.3 754,173.7 754.5,174.7 755,176.3 755.5,178.3 756,180.7 756.5,183.3 757,186.1 757.5,188.9 758,191.6 758.5,194.3 759,196.8 759.5,199.1 760,201.3 760.5,203.2 761,205.0 761.5,206.5 762,207.8 762.5,209.0 763,209.9 763.5,210.6 764,211.2 764.5,211.7 765,212.0 765.5,212.3 766,212.6 766.5,212.9 767,213.4 767.5,214.0 768,214.7 768.5,215.7 769,216.8 769.5,217.9 770,219.2 770.5,220.4 771,221.6 771.5,222.7 772,223.8 772.5,224.8 773,225.7 773.5,226.6 774,227.3 774.5,228.0 775,228.6 775.5,229.2 776,229.7 776.5,230.2 777,230.7 777.5,231.1 778,231.4 778.5,231.8 779,232.1 779.5,232.4 780,232.7 780.5,232.9 781,233.2 781.5,233.4 782,233.6 782.5,233.8 783,234.0 783.5,234.2 784,234.3 784.5,234.5 785,234.6 785.5,234.8 786,234.9 786.5,235.0 787,235.1 787.5,235.3 788,235.4 788.5,235.5 789,235.6 789.5,235.7 790,235.7 790.5,235.8 791,235.9 791.5,236.0 792,236.1 792.5,236.1 793,236.2 793.5,236.3 794,236.3 794.5,236.4 795,236.5 795.5,236.5 796,236.6 796.5,236.6 797,236.7 797.5,236.7 798,236.8 798.5,236.8 799,236.9 799.5,236.9 800,237.0 800.5,237.0 801,237.0 801.5,237.1 802,237.1 802.5,237.1 803,237.2 803.5,237.2 804,237.2 804.5,237.3 805,237.3 805.5,237.3 806,237.4 806.5,237.4 807,237.4 807.5,237.5 808,237.5 808.5,237.5 809,237.5 809.5,237.6 810,237.6 810.5,237.6 811,237.6 811.5,237.6 812,237.7 812.5,237.7 813,237.7 813.5,237.7 814,237.7 814.5,237.8 815,237.8 815.5,237.8 816,237.8 816.5,237.8 817,237.8 817.5,237.9 818,237.9 818.5,237.9 819,237.9 819.5,237.9 820,237.9 820.5,238.0 821,238.0 821.5,238.0 822,238.0 822.5,238.0 823,238.0 823.5,238.0 824,238.0 824.5,238.1 825,238.1 825.5,238.1 826,238.1 826.5,238.1 827,238.1 827.5,238.1 828,238.1 828.5,238.1 829,238.2 829.5,238.2 830,238.2 830.5,238.2 831,238.2 831.5,238.2 832,238.2 832.5,238.2 833,238.2 833.5,238.2 834,238.3 834.5,238.3 835,238.3 835.5,238.3 836,238.3 836.5,238.3 837,238.3 837.5,238.3 838,238.3 838.5,238.3 839,238.3 839.5,238.3 840,238.3 840.5,238.4 841,238.4 841.5,238.4 842,238.4 842.5,238.4 843,238.4 843.5,238.4 844,238.4 844.5,238.4 845,238.4 845.5,238.4 846,238.4 846.5,238.4 847,238.4 847.5,238.4 848,238.4 848.5,238.4 849,238.5 849.5,238.5 850,238.5 850.5,238.5 851,238.5 851.5,238.5 852,238.5 852.5,238.5 853,238.5 853.5,238.5 854,238.5 854.5,238.5 855,238.5 855.5,238.5 856,238.5 856.5,238.5 857,238.5 857.5,238.5 858,238.5 858.5,238.5 859,238.5 859.5,238.5 860,238.5 860.5,238.6 861,238.6 861.5,238.6 862,238.6 862.5,238.6 863,238.6 863.5,238.6 864,238.6 864.5,238.6 865,238.6 865.5,238.6 866,238.6 866.5,238.6 867,238.6 867.5,238.6 868,238.6 868.5,238.6 869,238.6 869.5,238.6 870,238.6 870.5,238.6 871,238.6 871.5,238.6 872,238.6 872.5,238.6 873,238.6 873.5,238.6 874,238.6 874.5,238.6 875,238.6 875.5,238.6 876,238.7 876.5,238.7 877,238.7 877.5,238.7 878,238.7 878.5,238.7 879,238.7 879.5,238.7 880,238.7 880.5,238.7 881,238.7 881.5,238.7 882,238.7 882.5,238.7 883,238.7 883.5,238.7 884,238.7 884.5,238.7 885,238.7 885.5,238.7 886,238.7 886.5,238.7 887,238.7 887.5,238.7 888,238.7 888.5,238.7 889,238.7 889.5,238.7 890,238.7 890.5,238.7 891,238.7 891.5,238.7 892,238.7 892.5,238.7 893,238.7 893.5,238.7 894,238.7 894.5,238.7 895,238.7 895.5,238.7 896,238.7 896.5,238.7 897,238.7 897.5,238.7 898,238.7 898.5,238.7 899,238.7 899.5,238.7 900,238.7 900.5,238.7 901,238.8 901.5,238.8 902,238.8 902.5,238.8 903,238.8 903.5,238.8 904,238.8 904.5,238.8 905,238.8 905.5,238.8 906,238.8 906.5,238.8 907,238.8 907.5,238.8 908,238.8 908.5,238.8 909,238.8 909.5,238.8 910,238.8 910.5,238.8 911,238.8 911.5,238.8 912,238.8 912.5,238.8 913,238.8 913.5,238.8 914,238.8 914.5,238.8 915,238.8 915.5,238.8 916,238.8 916.5,238.8 917,238.8 917.5,238.8 918,238.8 918.5,238.8 919,238.8 919.5,238.8 920,238.8 920.5,238.8 921,238.8 921.5,238.8 922,238.8 922.5,238.8 923,238.8 923.5,238.8 924,238.8 924.5,238.8 925,238.8 925.5,238.8 926,238.8 926.5,238.8 927,238.8 927.5,238.8 928,238.8 928.5,238.8 929,238.8 929.5,238.8 930,238.8 930.5,238.8 931,238.8 931.5,238.8 932,238.8 932.5,238.8 933,238.8 933.5,238.8 934,238.8 934.5,238.8 935,238.8 935.5,238.8 936,238.8 936.5,238.8 937,238.8 937.5,238.8 938,238.8 938.5,238.8 939,238.8 939.5,238.8 940,238.8 940.5,238.8 941,238.8 941.5,238.8 942,238.8 942.5,238.8 943,238.8 943.5,238.8 944,238.8 944.5,238.8 945,238.8 945.5,238.8 946,238.8 946.5,238.8 947,238.8 947.5,238.8 948,238.8 948.5,238.9 949,238.9 949.5,238.9 950,238.9 950.5,238.9 951,238.9 951.5,238.9 952,238.9 952.5,238.9 953,238.9 953.5,238.9 954,238.9 954.5,238.9 955,238.9 955.5,238.9 956,238.9 956.5,238.9 957,238.9 957.5,238.9 958,238.9 958.5,238.9 959,238.9 959.5,238.9 960,238.9 960.5,238.9 961,238.9 961.5,238.9 962,238.9 962.5,238.9 963,238.9 963.5,238.9 964,238.9 964.5,238.9 965,238.9 965.5,238.9 966,238.9" fill="none" stroke="#D95319" stroke-width="4.2" stroke-linejoin="round" stroke-linecap="butt"/>
<polyline points="569.5,193.2 570,193.2 570.5,193.2 571,193.2 571.5,193.2 572,193.2 572.5,193.2 573,193.1 573.5,193.1 574,193.1 574.5,193.1 575,193.1 575.5,193.1 576,193.1 576.5,193.1 577,193.1 577.5,193.1 578,193.1 578.5,193.1 579,193.1 579.5,193.1 580,193.1 580.5,193.1 581,193.1 581.5,193.1 582,193.1 582.5,193.1 583,193.1 583.5,193.1 584,193.1 584.5,193.0 585,193.0 585.5,193.0 586,193.0 586.5,193.0 587,193.0 587.5,193.0 588,193.0 588.5,193.0 589,193.0 589.5,193.0 590,193.0 590.5,193.0 591,193.0 591.5,193.0 592,193.0 592.5,193.0 593,192.9 593.5,192.9 594,192.9 594.5,192.9 595,192.9 595.5,192.9 596,192.9 596.5,192.9 597,192.9 597.5,192.9 598,192.9 598.5,192.9 599,192.9 599.5,192.8 600,192.8 600.5,192.8 601,192.8 601.5,192.8 602,192.8 602.5,192.8 603,192.8 603.5,192.8 604,192.8 604.5,192.8 605,192.7 605.5,192.7 606,192.7 606.5,192.7 607,192.7 607.5,192.7 608,192.7 608.5,192.7 609,192.7 609.5,192.6 610,192.6 610.5,192.6 611,192.6 611.5,192.6 612,192.6 612.5,192.6 613,192.6 613.5,192.5 614,192.5 614.5,192.5 615,192.5 615.5,192.5 616,192.5 616.5,192.4 617,192.4 617.5,192.4 618,192.4 618.5,192.4 619,192.4 619.5,192.3 620,192.3 620.5,192.3 621,192.3 621.5,192.3 622,192.2 622.5,192.2 623,192.2 623.5,192.2 624,192.2 624.5,192.1 625,192.1 625.5,192.1 626,192.1 626.5,192.0 627,192.0 627.5,192.0 628,191.9 628.5,191.9 629,191.9 629.5,191.9 630,191.8 630.5,191.8 631,191.8 631.5,191.7 632,191.7 632.5,191.7 633,191.6 633.5,191.6 634,191.5 634.5,191.5 635,191.5 635.5,191.4 636,191.4 636.5,191.3 637,191.3 637.5,191.2 638,191.2 638.5,191.1 639,191.1 639.5,191.0 640,191.0 640.5,190.9 641,190.8 641.5,190.8 642,190.7 642.5,190.6 643,190.6 643.5,190.5 644,190.4 644.5,190.3 645,190.2 645.5,190.2 646,190.1 646.5,190.0 647,189.9 647.5,189.8 648,189.7 648.5,189.6 649,189.4 649.5,189.3 650,189.2 650.5,189.1 651,188.9 651.5,188.8 652,188.6 652.5,188.4 653,188.3 653.5,188.1 654,187.9 654.5,187.7 655,187.5 655.5,187.3 656,187.1 656.5,186.8 657,186.5 657.5,186.3 658,186.0 658.5,185.7 659,185.3 659.5,185.0 660,184.6 660.5,184.2 661,183.8 661.5,183.3 662,182.9 662.5,182.3 663,181.8 663.5,181.2 664,180.6 664.5,179.9 665,179.1 665.5,178.3 666,177.5 666.5,176.6 667,175.6 667.5,174.5 668,173.3 668.5,172.0 669,170.7 669.5,169.2 670,167.6 670.5,165.8 671,164.0 671.5,161.9 672,159.8 672.5,157.5 673,155.1 673.5,152.5 674,149.8 674.5,147.1 675,144.3 675.5,141.5 676,138.8 676.5,136.3 677,134.0 677.5,132.1 678,130.5 678.5,129.5 679,129.0 679.5,129.1 680,129.7 680.5,130.9 681,132.4 681.5,134.4 682,136.7 682.5,139.1 683,141.6 683.5,144.2 684,146.7 684.5,149.2 685,151.5 685.5,153.7 686,155.8 686.5,157.6 687,159.3 687.5,160.7 688,162.0 688.5,163.1 689,164.0 689.5,164.7 690,165.3 690.5,165.6 691,165.9 691.5,166.0 692,166.1 692.5,166.2 693,166.5 693.5,166.9 694,167.6 694.5,168.5 695,169.6 695.5,170.8 696,172.0 696.5,173.2 697,174.3 697.5,175.4 698,176.3 698.5,177.2 699,177.9 699.5,178.6 700,179.1 700.5,179.6 701,180.0 701.5,180.4 702,180.7 702.5,181.0 703,181.2 703.5,181.3 704,181.5 704.5,181.6 705,181.6 705.5,181.6 706,181.6 706.5,181.6 707,181.5 707.5,181.4 708,181.2 708.5,181.0 709,180.8 709.5,180.5 710,180.2 710.5,179.9 711,179.5 711.5,179.1 712,178.6 712.5,178.1 713,177.5 713.5,176.8 714,176.1 714.5,175.3 715,174.5 715.5,173.5 716,172.4 716.5,171.3 717,170.0 717.5,168.6 718,167.1 718.5,165.4 719,163.6 719.5,161.6 720,159.5 720.5,157.1 721,154.7 721.5,152.0 722,149.3 722.5,146.4 723,143.4 723.5,140.5 724,137.7 724.5,135.0 725,132.6 725.5,130.6 726,129.1 726.5,128.2 727,127.9 727.5,128.2 728,129.2 728.5,130.7 729,132.7 729.5,135.1 730,137.7 730.5,140.4 731,143.2 731.5,145.9 732,148.6 732.5,151.1 733,153.5 733.5,155.7 734,157.6 734.5,159.4 735,161.0 735.5,162.3 736,163.4 736.5,164.4 737,165.2 737.5,165.8 738,166.2 738.5,166.6 739,166.9 739.5,167.2 740,167.5 740.5,167.9 741,168.5 741.5,169.3 742,170.2 742.5,171.3 743,172.4 743.5,173.7 744,174.9 744.5,176.1 745,177.2 745.5,178.3 746,179.3 746.5,180.2 747,181.1 747.5,181.8 748,182.5 748.5,183.2 749,183.8 749.5,184.3 750,184.8 750.5,185.2 751,185.6 751.5,186.0 752,186.4 752.5,186.7 753,187.0 753.5,187.2 754,187.5 754.5,187.7 755,188.0 755.5,188.2 756,188.4 756.5,188.6 757,188.7 757.5,188.9 758,189.1 758.5,189.2 759,189.4 759.5,189.5 760,189.6 760.5,189.7 761,189.8 761.5,190.0 762,190.1 762.5,190.2 763,190.2 763.5,190.3 764,190.4 764.5,190.5 765,190.6 765.5,190.7 766,190.7 766.5,190.8 767,190.9 767.5,190.9 768,191.0 768.5,191.1 769,191.1 769.5,191.2 770,191.2 770.5,191.3 771,191.3 771.5,191.4 772,191.4 772.5,191.5 773,191.5 773.5,191.6 774,191.6 774.5,191.6 775,191.7 775.5,191.7 776,191.7 776.5,191.8 777,191.8 777.5,191.8 778,191.9 778.5,191.9 779,191.9 779.5,192.0 780,192.0 780.5,192.0 781,192.0 781.5,192.1 782,192.1 782.5,192.1 783,192.1 783.5,192.2 784,192.2 784.5,192.2 785,192.2 785.5,192.3 786,192.3 786.5,192.3 787,192.3 787.5,192.3 788,192.4 788.5,192.4 789,192.4 789.5,192.4 790,192.4 790.5,192.4 791,192.5 791.5,192.5 792,192.5 792.5,192.5 793,192.5 793.5,192.5 794,192.6 794.5,192.6 795,192.6 795.5,192.6 796,192.6 796.5,192.6 797,192.6 797.5,192.6 798,192.7 798.5,192.7 799,192.7 799.5,192.7 800,192.7 800.5,192.7 801,192.7 801.5,192.7 802,192.7 802.5,192.8 803,192.8 803.5,192.8 804,192.8 804.5,192.8 805,192.8 805.5,192.8 806,192.8 806.5,192.8 807,192.8 807.5,192.9 808,192.9 808.5,192.9 809,192.9 809.5,192.9 810,192.9 810.5,192.9 811,192.9 811.5,192.9 812,192.9 812.5,192.9 813,192.9 813.5,192.9 814,192.9 814.5,193.0 815,193.0 815.5,193.0 816,193.0 816.5,193.0 817,193.0 817.5,193.0 818,193.0 818.5,193.0 819,193.0 819.5,193.0 820,193.0 820.5,193.0 821,193.0 821.5,193.0 822,193.0 822.5,193.1 823,193.1 823.5,193.1 824,193.1 824.5,193.1 825,193.1 825.5,193.1 826,193.1 826.5,193.1 827,193.1 827.5,193.1 828,193.1 828.5,193.1 829,193.1 829.5,193.1 830,193.1 830.5,193.1 831,193.1 831.5,193.1 832,193.1 832.5,193.1 833,193.1 833.5,193.1 834,193.2 834.5,193.2 835,193.2 835.5,193.2 836,193.2 836.5,193.2 837,193.2 837.5,193.2 838,193.2 838.5,193.2 839,193.2 839.5,193.2 840,193.2 840.5,193.2 841,193.2 841.5,193.2 842,193.2 842.5,193.2 843,193.2 843.5,193.2 844,193.2 844.5,193.2 845,193.2 845.5,193.2 846,193.2 846.5,193.2 847,193.2 847.5,193.2 848,193.2 848.5,193.2 849,193.2 849.5,193.2 850,193.3 850.5,193.3 851,193.3 851.5,193.3 852,193.3 852.5,193.3 853,193.3 853.5,193.3 854,193.3 854.5,193.3 855,193.3 855.5,193.3 856,193.3 856.5,193.3 857,193.3 857.5,193.3 858,193.3 858.5,193.3 859,193.3 859.5,193.3 860,193.3 860.5,193.3 861,193.3 861.5,193.3 862,193.3 862.5,193.3 863,193.3 863.5,193.3 864,193.3 864.5,193.3 865,193.3 865.5,193.3 866,193.3 866.5,193.3 867,193.3 867.5,193.3 868,193.3 868.5,193.3 869,193.3 869.5,193.3 870,193.3 870.5,193.3 871,193.3 871.5,193.3 872,193.3 872.5,193.3 873,193.3 873.5,193.3 874,193.3 874.5,193.4 875,193.4 875.5,193.4 876,193.4 876.5,193.4 877,193.4 877.5,193.4 878,193.4 878.5,193.4 879,193.4 879.5,193.4 880,193.4 880.5,193.4 881,193.4 881.5,193.4 882,193.4 882.5,193.4 883,193.4 883.5,193.4 884,193.4 884.5,193.4 885,193.4 885.5,193.4 886,193.4 886.5,193.4 887,193.4 887.5,193.4 888,193.4 888.5,193.4 889,193.4 889.5,193.4 890,193.4 890.5,193.4 891,193.4 891.5,193.4 892,193.4 892.5,193.4 893,193.4 893.5,193.4 894,193.4 894.5,193.4 895,193.4 895.5,193.4 896,193.4 896.5,193.4 897,193.4 897.5,193.4 898,193.4 898.5,193.4 899,193.4 899.5,193.4 900,193.4 900.5,193.4 901,193.4 901.5,193.4 902,193.4 902.5,193.4 903,193.4 903.5,193.4 904,193.4 904.5,193.4 905,193.4 905.5,193.4 906,193.4 906.5,193.4 907,193.4 907.5,193.4 908,193.4 908.5,193.4 909,193.4 909.5,193.4 910,193.4 910.5,193.4 911,193.4 911.5,193.4 912,193.4 912.5,193.4 913,193.4 913.5,193.4 914,193.4 914.5,193.4 915,193.4 915.5,193.4 916,193.4 916.5,193.4 917,193.4 917.5,193.4 918,193.4 918.5,193.4 919,193.4 919.5,193.4 920,193.4 920.5,193.4 921,193.4 921.5,193.4 922,193.5 922.5,193.5 923,193.5 923.5,193.5 924,193.5 924.5,193.5 925,193.5 925.5,193.5 926,193.5 926.5,193.5 927,193.5 927.5,193.5 928,193.5 928.5,193.5 929,193.5 929.5,193.5 930,193.5 930.5,193.5 931,193.5 931.5,193.5 932,193.5 932.5,193.5 933,193.5 933.5,193.5 934,193.5 934.5,193.5 935,193.5 935.5,193.5 936,193.5 936.5,193.5 937,193.5 937.5,193.5 938,193.5 938.5,193.5 939,193.5 939.5,193.5 940,193.5 940.5,193.5 941,193.5 941.5,193.5 942,193.5 942.5,193.5 943,193.5 943.5,193.5 944,193.5 944.5,193.5 945,193.5 945.5,193.5 946,193.5 946.5,193.5 947,193.5 947.5,193.5 948,193.5 948.5,193.5 949,193.5 949.5,193.5 950,193.5 950.5,193.5 951,193.5 951.5,193.5 952,193.5 952.5,193.5 953,193.5 953.5,193.5 954,193.5 954.5,193.5 955,193.5 955.5,193.5 956,193.5 956.5,193.5 957,193.5 957.5,193.5 958,193.5 958.5,193.5 959,193.5 959.5,193.5 960,193.5 960.5,193.5 961,193.5 961.5,193.5 962,193.5 962.5,193.5 963,193.5 963.5,193.5 964,193.5 964.5,193.5 965,193.5 965.5,193.5 966,193.5" fill="none" stroke="#EDB120" stroke-width="4.2" stroke-linejoin="round" stroke-linecap="butt"/>
<polyline points="569.5,147.5 570,147.5 570.5,147.5 571,147.5 571.5,147.5 572,147.5 572.5,147.5 573,147.4 573.5,147.4 574,147.4 574.5,147.4 575,147.4 575.5,147.4 576,147.4 576.5,147.4 577,147.4 577.5,147.4 578,147.3 578.5,147.3 579,147.3 579.5,147.3 580,147.3 580.5,147.3 581,147.3 581.5,147.3 582,147.3 582.5,147.2 583,147.2 583.5,147.2 584,147.2 584.5,147.2 585,147.2 585.5,147.2 586,147.2 586.5,147.1 587,147.1 587.5,147.1 588,147.1 588.5,147.1 589,147.1 589.5,147.1 590,147.0 590.5,147.0 591,147.0 591.5,147.0 592,147.0 592.5,147.0 593,146.9 593.5,146.9 594,146.9 594.5,146.9 595,146.9 595.5,146.8 596,146.8 596.5,146.8 597,146.8 597.5,146.7 598,146.7 598.5,146.7 599,146.7 599.5,146.6 600,146.6 600.5,146.6 601,146.6 601.5,146.5 602,146.5 602.5,146.5 603,146.4 603.5,146.4 604,146.4 604.5,146.3 605,146.3 605.5,146.3 606,146.2 606.5,146.2 607,146.2 607.5,146.1 608,146.1 608.5,146.0 609,146.0 609.5,146.0 610,145.9 610.5,145.9 611,145.8 611.5,145.8 612,145.7 612.5,145.6 613,145.6 613.5,145.5 614,145.5 614.5,145.4 615,145.3 615.5,145.3 616,145.2 616.5,145.1 617,145.1 617.5,145.0 618,144.9 618.5,144.8 619,144.7 619.5,144.6 620,144.5 620.5,144.4 621,144.3 621.5,144.2 622,144.1 622.5,144.0 623,143.9 623.5,143.7 624,143.6 624.5,143.4 625,143.3 625.5,143.1 626,143.0 626.5,142.8 627,142.6 627.5,142.4 628,142.2 628.5,142.0 629,141.8 629.5,141.5 630,141.3 630.5,141.0 631,140.7 631.5,140.4 632,140.1 632.5,139.8 633,139.4 633.5,139.0 634,138.6 634.5,138.2 635,137.7 635.5,137.2 636,136.7 636.5,136.1 637,135.5 637.5,134.8 638,134.1 638.5,133.3 639,132.5 639.5,131.6 640,130.7 640.5,129.6 641,128.5 641.5,127.3 642,126.0 642.5,124.5 643,123.0 643.5,121.3 644,119.5 644.5,117.6 645,115.5 645.5,113.3 646,110.9 646.5,108.4 647,105.8 647.5,103.1 648,100.3 648.5,97.5 649,94.7 649.5,92.1 650,89.7 650.5,87.6 651,85.8 651.5,84.6 652,83.8 652.5,83.6 653,83.9 653.5,84.8 654,86.2 654.5,88.0 655,90.1 655.5,92.5 656,94.9 656.5,97.5 657,100.1 657.5,102.6 658,105.0 658.5,107.2 659,109.4 659.5,111.3 660,113.1 660.5,114.6 661,116.0 661.5,117.2 662,118.2 662.5,119.0 663,119.6 663.5,120.1 664,120.4 664.5,120.5 665,120.7 665.5,120.8 666,120.9 666.5,121.3 667,121.9 667.5,122.6 668,123.6 668.5,124.8 669,126.0 669.5,127.2 670,128.4 670.5,129.5 671,130.4 671.5,131.3 672,132.1 672.5,132.8 673,133.4 673.5,134.0 674,134.4 674.5,134.8 675,135.2 675.5,135.4 676,135.7 676.5,135.9 677,136.0 677.5,136.1 678,136.2 678.5,136.2 679,136.2 679.5,136.2 680,136.1 680.5,136.0 681,135.9 681.5,135.7 682,135.5 682.5,135.3 683,135.0 683.5,134.7 684,134.3 684.5,133.9 685,133.5 685.5,133.0 686,132.4 686.5,131.8 687,131.1 687.5,130.3 688,129.5 688.5,128.6 689,127.6 689.5,126.5 690,125.3 690.5,123.9 691,122.5 691.5,120.9 692,119.1 692.5,117.2 693,115.2 693.5,112.9 694,110.5 694.5,108.0 695,105.3 695.5,102.4 696,99.5 696.5,96.6 697,93.7 697.5,90.9 698,88.3 698.5,86.1 699,84.4 699.5,83.2 700,82.5 700.5,82.6 701,83.2 701.5,84.5 702,86.3 702.5,88.4 703,90.9 703.5,93.6 704,96.4 704.5,99.2 705,101.9 705.5,104.5 706,106.9 706.5,109.2 707,111.3 707.5,113.1 708,114.8 708.5,116.3 709,117.5 709.5,118.5 710,119.4 710.5,120.1 711,120.6 711.5,121.0 712,121.3 712.5,121.6 713,121.9 713.5,122.3 714,122.8 714.5,123.5 715,124.3 715.5,125.3 716,126.4 716.5,127.6 717,128.9 717.5,130.1 718,131.3 718.5,132.4 719,133.4 719.5,134.4 720,135.3 720.5,136.1 721,136.8 721.5,137.5 722,138.1 722.5,138.6 723,139.1 723.5,139.6 724,140.0 724.5,140.4 725,140.8 725.5,141.1 726,141.4 726.5,141.7 727,142.0 727.5,142.2 728,142.5 728.5,142.7 729,142.9 729.5,143.1 730,143.3 730.5,143.4 731,143.6 731.5,143.7 732,143.9 732.5,144.0 733,144.1 733.5,144.3 734,144.4 734.5,144.5 735,144.6 735.5,144.7 736,144.8 736.5,144.9 737,145.0 737.5,145.1 738,145.1 738.5,145.2 739,145.3 739.5,145.4 740,145.4 740.5,145.5 741,145.6 741.5,145.6 742,145.7 742.5,145.7 743,145.8 743.5,145.9 744,145.9 744.5,146.0 745,146.0 745.5,146.0 746,146.1 746.5,146.1 747,146.2 747.5,146.2 748,146.3 748.5,146.3 749,146.3 749.5,146.4 750,146.4 750.5,146.4 751,146.5 751.5,146.5 752,146.5 752.5,146.6 753,146.6 753.5,146.6 754,146.6 754.5,146.7 755,146.7 755.5,146.7 756,146.7 756.5,146.8 757,146.8 757.5,146.8 758,146.8 758.5,146.9 759,146.9 759.5,146.9 760,146.9 760.5,146.9 761,147.0 761.5,147.0 762,147.0 762.5,147.0 763,147.0 763.5,147.0 764,147.1 764.5,147.1 765,147.1 765.5,147.1 766,147.1 766.5,147.1 767,147.1 767.5,147.2 768,147.2 768.5,147.2 769,147.2 769.5,147.2 770,147.2 770.5,147.2 771,147.3 771.5,147.3 772,147.3 772.5,147.3 773,147.3 773.5,147.3 774,147.3 774.5,147.3 775,147.3 775.5,147.4 776,147.4 776.5,147.4 777,147.4 777.5,147.4 778,147.4 778.5,147.4 779,147.4 779.5,147.4 780,147.4 780.5,147.4 781,147.5 781.5,147.5 782,147.5 782.5,147.5 783,147.5 783.5,147.5 784,147.5 784.5,147.5 785,147.5 785.5,147.5 786,147.5 786.5,147.5 787,147.5 787.5,147.6 788,147.6 788.5,147.6 789,147.6 789.5,147.6 790,147.6 790.5,147.6 791,147.6 791.5,147.6 792,147.6 792.5,147.6 793,147.6 793.5,147.6 794,147.6 794.5,147.6 795,147.6 795.5,147.6 796,147.7 796.5,147.7 797,147.7 797.5,147.7 798,147.7 798.5,147.7 799,147.7 799.5,147.7 800,147.7 800.5,147.7 801,147.7 801.5,147.7 802,147.7 802.5,147.7 803,147.7 803.5,147.7 804,147.7 804.5,147.7 805,147.7 805.5,147.7 806,147.7 806.5,147.7 807,147.8 807.5,147.8 808,147.8 808.5,147.8 809,147.8 809.5,147.8 810,147.8 810.5,147.8 811,147.8 811.5,147.8 812,147.8 812.5,147.8 813,147.8 813.5,147.8 814,147.8 814.5,147.8 815,147.8 815.5,147.8 816,147.8 816.5,147.8 817,147.8 817.5,147.8 818,147.8 818.5,147.8 819,147.8 819.5,147.8 820,147.8 820.5,147.8 821,147.8 821.5,147.8 822,147.8 822.5,147.8 823,147.9 823.5,147.9 824,147.9 824.5,147.9 825,147.9 825.5,147.9 826,147.9 826.5,147.9 827,147.9 827.5,147.9 828,147.9 828.5,147.9 829,147.9 829.5,147.9 830,147.9 830.5,147.9 831,147.9 831.5,147.9 832,147.9 832.5,147.9 833,147.9 833.5,147.9 834,147.9 834.5,147.9 835,147.9 835.5,147.9 836,147.9 836.5,147.9 837,147.9 837.5,147.9 838,147.9 838.5,147.9 839,147.9 839.5,147.9 840,147.9 840.5,147.9 841,147.9 841.5,147.9 842,147.9 842.5,147.9 843,147.9 843.5,147.9 844,147.9 844.5,147.9 845,147.9 845.5,147.9 846,147.9 846.5,147.9 847,147.9 847.5,147.9 848,148.0 848.5,148.0 849,148.0 849.5,148.0 850,148.0 850.5,148.0 851,148.0 851.5,148.0 852,148.0 852.5,148.0 853,148.0 853.5,148.0 854,148.0 854.5,148.0 855,148.0 855.5,148.0 856,148.0 856.5,148.0 857,148.0 857.5,148.0 858,148.0 858.5,148.0 859,148.0 859.5,148.0 860,148.0 860.5,148.0 861,148.0 861.5,148.0 862,148.0 862.5,148.0 863,148.0 863.5,148.0 864,148.0 864.5,148.0 865,148.0 865.5,148.0 866,148.0 866.5,148.0 867,148.0 867.5,148.0 868,148.0 868.5,148.0 869,148.0 869.5,148.0 870,148.0 870.5,148.0 871,148.0 871.5,148.0 872,148.0 872.5,148.0 873,148.0 873.5,148.0 874,148.0 874.5,148.0 875,148.0 875.5,148.0 876,148.0 876.5,148.0 877,148.0 877.5,148.0 878,148.0 878.5,148.0 879,148.0 879.5,148.0 880,148.0 880.5,148.0 881,148.0 881.5,148.0 882,148.0 882.5,148.0 883,148.0 883.5,148.0 884,148.0 884.5,148.0 885,148.0 885.5,148.0 886,148.0 886.5,148.0 887,148.0 887.5,148.0 888,148.0 888.5,148.0 889,148.0 889.5,148.0 890,148.0 890.5,148.0 891,148.0 891.5,148.0 892,148.0 892.5,148.0 893,148.0 893.5,148.0 894,148.0 894.5,148.0 895,148.1 895.5,148.1 896,148.1 896.5,148.1 897,148.1 897.5,148.1 898,148.1 898.5,148.1 899,148.1 899.5,148.1 900,148.1 900.5,148.1 901,148.1 901.5,148.1 902,148.1 902.5,148.1 903,148.1 903.5,148.1 904,148.1 904.5,148.1 905,148.1 905.5,148.1 906,148.1 906.5,148.1 907,148.1 907.5,148.1 908,148.1 908.5,148.1 909,148.1 909.5,148.1 910,148.1 910.5,148.1 911,148.1 911.5,148.1 912,148.1 912.5,148.1 913,148.1 913.5,148.1 914,148.1 914.5,148.1 915,148.1 915.5,148.1 916,148.1 916.5,148.1 917,148.1 917.5,148.1 918,148.1 918.5,148.1 919,148.1 919.5,148.1 920,148.1 920.5,148.1 921,148.1 921.5,148.1 922,148.1 922.5,148.1 923,148.1 923.5,148.1 924,148.1 924.5,148.1 925,148.1 925.5,148.1 926,148.1 926.5,148.1 927,148.1 927.5,148.1 928,148.1 928.5,148.1 929,148.1 929.5,148.1 930,148.1 930.5,148.1 931,148.1 931.5,148.1 932,148.1 932.5,148.1 933,148.1 933.5,148.1 934,148.1 934.5,148.1 935,148.1 935.5,148.1 936,148.1 936.5,148.1 937,148.1 937.5,148.1 938,148.1 938.5,148.1 939,148.1 939.5,148.1 940,148.1 940.5,148.1 941,148.1 941.5,148.1 942,148.1 942.5,148.1 943,148.1 943.5,148.1 944,148.1 944.5,148.1 945,148.1 945.5,148.1 946,148.1 946.5,148.1 947,148.1 947.5,148.1 948,148.1 948.5,148.1 949,148.1 949.5,148.1 950,148.1 950.5,148.1 951,148.1 951.5,148.1 952,148.1 952.5,148.1 953,148.1 953.5,148.1 954,148.1 954.5,148.1 955,148.1 955.5,148.1 956,148.1 956.5,148.1 957,148.1 957.5,148.1 958,148.1 958.5,148.1 959,148.1 959.5,148.1 960,148.1 960.5,148.1 961,148.1 961.5,148.1 962,148.1 962.5,148.1 963,148.1 963.5,148.1 964,148.1 964.5,148.1 965,148.1 965.5,148.1 966,148.1" fill="none" stroke="#7E2F8E" stroke-width="4.2" stroke-linejoin="round" stroke-linecap="butt"/>
<polyline points="569.5,101.4 570,101.4 570.5,101.4 571,101.4 571.5,101.3 572,101.3 572.5,101.3 573,101.3 573.5,101.2 574,101.2 574.5,101.2 575,101.2 575.5,101.1 576,101.1 576.5,101.1 577,101.0 577.5,101.0 578,101.0 578.5,100.9 579,100.9 579.5,100.9 580,100.8 580.5,100.8 581,100.8 581.5,100.7 582,100.7 582.5,100.6 583,100.6 583.5,100.6 584,100.5 584.5,100.5 585,100.4 585.5,100.4 586,100.3 586.5,100.2 587,100.2 587.5,100.1 588,100.1 588.5,100.0 589,99.9 589.5,99.9 590,99.8 590.5,99.7 591,99.7 591.5,99.6 592,99.5 592.5,99.4 593,99.3 593.5,99.2 594,99.1 594.5,99.0 595,98.9 595.5,98.8 596,98.7 596.5,98.6 597,98.5 597.5,98.3 598,98.2 598.5,98.0 599,97.9 599.5,97.7 600,97.6 600.5,97.4 601,97.2 601.5,97.0 602,96.8 602.5,96.6 603,96.4 603.5,96.1 604,95.9 604.5,95.6 605,95.3 605.5,95.0 606,94.7 606.5,94.4 607,94.0 607.5,93.6 608,93.2 608.5,92.8 609,92.3 609.5,91.8 610,91.3 610.5,90.7 611,90.1 611.5,89.4 612,88.7 612.5,87.9 613,87.1 613.5,86.2 614,85.3 614.5,84.2 615,83.1 615.5,81.9 616,80.6 616.5,79.1 617,77.6 617.5,75.9 618,74.1 618.5,72.2 619,70.1 619.5,67.9 620,65.5 620.5,63.0 621,60.4 621.5,57.7 622,54.9 622.5,52.1 623,49.3 623.5,46.7 624,44.3 624.5,42.2 625,40.4 625.5,39.2 626,38.4 626.5,38.2 627,38.5 627.5,39.4 628,40.8 628.5,42.6 629,44.7 629.5,47.1 630,49.5 630.5,52.1 631,54.7 631.5,57.2 632,59.6 632.5,61.8 633,64.0 633.5,65.9 634,67.7 634.5,69.2 635,70.6 635.5,71.8 636,72.8 636.5,73.6 637,74.2 637.5,74.7 638,75.0 638.5,75.1 639,75.3 639.5,75.4 640,75.5 640.5,75.9 641,76.5 641.5,77.2 642,78.2 642.5,79.4 643,80.6 643.5,81.8 644,83.0 644.5,84.1 645,85.0 645.5,85.9 646,86.7 646.5,87.4 647,88.0 647.5,88.6 648,89.0 648.5,89.4 649,89.8 649.5,90.0 650,90.3 650.5,90.5 651,90.6 651.5,90.7 652,90.8 652.5,90.8 653,90.8 653.5,90.8 654,90.7 654.5,90.6 655,90.5 655.5,90.3 656,90.1 656.5,89.9 657,89.6 657.5,89.3 658,88.9 658.5,88.5 659,88.1 659.5,87.6 660,87.0 660.5,86.4 661,85.7 661.5,84.9 662,84.1 662.5,83.2 663,82.2 663.5,81.1 664,79.9 664.5,78.5 665,77.1 665.5,75.5 666,73.7 666.5,71.8 667,69.8 667.5,67.5 668,65.1 668.5,62.6 669,59.9 669.5,57.0 670,54.1 670.5,51.2 671,48.3 671.5,45.5 672,42.9 672.5,40.7 673,39.0 673.5,37.8 674,37.1 674.5,37.2 675,37.8 675.5,39.1 676,40.9 676.5,43.0 677,45.5 677.5,48.2 678,51.0 678.5,53.8 679,56.5 679.5,59.1 680,61.5 680.5,63.8 681,65.9 681.5,67.7 682,69.4 682.5,70.9 683,72.1 683.5,73.1 684,74.0 684.5,74.7 685,75.2 685.5,75.6 686,75.9 686.5,76.2 687,76.5 687.5,76.9 688,77.4 688.5,78.1 689,78.9 689.5,79.9 690,81.0 690.5,82.2 691,83.5 691.5,84.7 692,85.9 692.5,87.0 693,88.0 693.5,89.0 694,89.9 694.5,90.7 695,91.4 695.5,92.1 696,92.7 696.5,93.2 697,93.7 697.5,94.2 698,94.6 698.5,95.0 699,95.4 699.5,95.7 700,96.0 700.5,96.3 701,96.6 701.5,96.8 702,97.1 702.5,97.3 703,97.5 703.5,97.7 704,97.9 704.5,98.0 705,98.2 705.5,98.3 706,98.5 706.5,98.6 707,98.7 707.5,98.9 708,99.0 708.5,99.1 709,99.2 709.5,99.3 710,99.4 710.5,99.5 711,99.6 711.5,99.7 712,99.7 712.5,99.8 713,99.9 713.5,100.0 714,100.0 714.5,100.1 715,100.2 715.5,100.2 716,100.3 716.5,100.3 717,100.4 717.5,100.5 718,100.5 718.5,100.6 719,100.6 719.5,100.6 720,100.7 720.5,100.7 721,100.8 721.5,100.8 722,100.9 722.5,100.9 723,100.9 723.5,101.0 724,101.0 724.5,101.0 725,101.1 725.5,101.1 726,101.1 726.5,101.2 727,101.2 727.5,101.2 728,101.2 728.5,101.3 729,101.3 729.5,101.3 730,101.3 730.5,101.4 731,101.4 731.5,101.4 732,101.4 732.5,101.5 733,101.5 733.5,101.5 734,101.5 734.5,101.5 735,101.6 735.5,101.6 736,101.6 736.5,101.6 737,101.6 737.5,101.6 738,101.7 738.5,101.7 739,101.7 739.5,101.7 740,101.7 740.5,101.7 741,101.7 741.5,101.8 742,101.8 742.5,101.8 743,101.8 743.5,101.8 744,101.8 744.5,101.8 745,101.9 745.5,101.9 746,101.9 746.5,101.9 747,101.9 747.5,101.9 748,101.9 748.5,101.9 749,101.9 749.5,102.0 750,102.0 750.5,102.0 751,102.0 751.5,102.0 752,102.0 752.5,102.0 753,102.0 753.5,102.0 754,102.0 754.5,102.0 755,102.1 755.5,102.1 756,102.1 756.5,102.1 757,102.1 757.5,102.1 758,102.1 758.5,102.1 759,102.1 759.5,102.1 760,102.1 760.5,102.1 761,102.1 761.5,102.2 762,102.2 762.5,102.2 763,102.2 763.5,102.2 764,102.2 764.5,102.2 765,102.2 765.5,102.2 766,102.2 766.5,102.2 767,102.2 767.5,102.2 768,102.2 768.5,102.2 769,102.2 769.5,102.2 770,102.3 770.5,102.3 771,102.3 771.5,102.3 772,102.3 772.5,102.3 773,102.3 773.5,102.3 774,102.3 774.5,102.3 775,102.3 775.5,102.3 776,102.3 776.5,102.3 777,102.3 777.5,102.3 778,102.3 778.5,102.3 779,102.3 779.5,102.3 780,102.3 780.5,102.3 781,102.4 781.5,102.4 782,102.4 782.5,102.4 783,102.4 783.5,102.4 784,102.4 784.5,102.4 785,102.4 785.5,102.4 786,102.4 786.5,102.4 787,102.4 787.5,102.4 788,102.4 788.5,102.4 789,102.4 789.5,102.4 790,102.4 790.5,102.4 791,102.4 791.5,102.4 792,102.4 792.5,102.4 793,102.4 793.5,102.4 794,102.4 794.5,102.4 795,102.4 795.5,102.4 796,102.4 796.5,102.4 797,102.5 797.5,102.5 798,102.5 798.5,102.5 799,102.5 799.5,102.5 800,102.5 800.5,102.5 801,102.5 801.5,102.5 802,102.5 802.5,102.5 803,102.5 803.5,102.5 804,102.5 804.5,102.5 805,102.5 805.5,102.5 806,102.5 806.5,102.5 807,102.5 807.5,102.5 808,102.5 808.5,102.5 809,102.5 809.5,102.5 810,102.5 810.5,102.5 811,102.5 811.5,102.5 812,102.5 812.5,102.5 813,102.5 813.5,102.5 814,102.5 814.5,102.5 815,102.5 815.5,102.5 816,102.5 816.5,102.5 817,102.5 817.5,102.5 818,102.5 818.5,102.5 819,102.5 819.5,102.5 820,102.5 820.5,102.5 821,102.5 821.5,102.5 822,102.6 822.5,102.6 823,102.6 823.5,102.6 824,102.6 824.5,102.6 825,102.6 825.5,102.6 826,102.6 826.5,102.6 827,102.6 827.5,102.6 828,102.6 828.5,102.6 829,102.6 829.5,102.6 830,102.6 830.5,102.6 831,102.6 831.5,102.6 832,102.6 832.5,102.6 833,102.6 833.5,102.6 834,102.6 834.5,102.6 835,102.6 835.5,102.6 836,102.6 836.5,102.6 837,102.6 837.5,102.6 838,102.6 838.5,102.6 839,102.6 839.5,102.6 840,102.6 840.5,102.6 841,102.6 841.5,102.6 842,102.6 842.5,102.6 843,102.6 843.5,102.6 844,102.6 844.5,102.6 845,102.6 845.5,102.6 846,102.6 846.5,102.6 847,102.6 847.5,102.6 848,102.6 848.5,102.6 849,102.6 849.5,102.6 850,102.6 850.5,102.6 851,102.6 851.5,102.6 852,102.6 852.5,102.6 853,102.6 853.5,102.6 854,102.6 854.5,102.6 855,102.6 855.5,102.6 856,102.6 856.5,102.6 857,102.6 857.5,102.6 858,102.6 858.5,102.6 859,102.6 859.5,102.6 860,102.6 860.5,102.6 861,102.6 861.5,102.6 862,102.6 862.5,102.6 863,102.6 863.5,102.6 864,102.6 864.5,102.6 865,102.6 865.5,102.6 866,102.6 866.5,102.6 867,102.6 867.5,102.6 868,102.6 868.5,102.6 869,102.7 869.5,102.7 870,102.7 870.5,102.7 871,102.7 871.5,102.7 872,102.7 872.5,102.7 873,102.7 873.5,102.7 874,102.7 874.5,102.7 875,102.7 875.5,102.7 876,102.7 876.5,102.7 877,102.7 877.5,102.7 878,102.7 878.5,102.7 879,102.7 879.5,102.7 880,102.7 880.5,102.7 881,102.7 881.5,102.7 882,102.7 882.5,102.7 883,102.7 883.5,102.7 884,102.7 884.5,102.7 885,102.7 885.5,102.7 886,102.7 886.5,102.7 887,102.7 887.5,102.7 888,102.7 888.5,102.7 889,102.7 889.5,102.7 890,102.7 890.5,102.7 891,102.7 891.5,102.7 892,102.7 892.5,102.7 893,102.7 893.5,102.7 894,102.7 894.5,102.7 895,102.7 895.5,102.7 896,102.7 896.5,102.7 897,102.7 897.5,102.7 898,102.7 898.5,102.7 899,102.7 899.5,102.7 900,102.7 900.5,102.7 901,102.7 901.5,102.7 902,102.7 902.5,102.7 903,102.7 903.5,102.7 904,102.7 904.5,102.7 905,102.7 905.5,102.7 906,102.7 906.5,102.7 907,102.7 907.5,102.7 908,102.7 908.5,102.7 909,102.7 909.5,102.7 910,102.7 910.5,102.7 911,102.7 911.5,102.7 912,102.7 912.5,102.7 913,102.7 913.5,102.7 914,102.7 914.5,102.7 915,102.7 915.5,102.7 916,102.7 916.5,102.7 917,102.7 917.5,102.7 918,102.7 918.5,102.7 919,102.7 919.5,102.7 920,102.7 920.5,102.7 921,102.7 921.5,102.7 922,102.7 922.5,102.7 923,102.7 923.5,102.7 924,102.7 924.5,102.7 925,102.7 925.5,102.7 926,102.7 926.5,102.7 927,102.7 927.5,102.7 928,102.7 928.5,102.7 929,102.7 929.5,102.7 930,102.7 930.5,102.7 931,102.7 931.5,102.7 932,102.7 932.5,102.7 933,102.7 933.5,102.7 934,102.7 934.5,102.7 935,102.7 935.5,102.7 936,102.7 936.5,102.7 937,102.7 937.5,102.7 938,102.7 938.5,102.7 939,102.7 939.5,102.7 940,102.7 940.5,102.7 941,102.7 941.5,102.7 942,102.7 942.5,102.7 943,102.7 943.5,102.7 944,102.7 944.5,102.7 945,102.7 945.5,102.7 946,102.7 946.5,102.7 947,102.7 947.5,102.7 948,102.7 948.5,102.7 949,102.7 949.5,102.7 950,102.7 950.5,102.7 951,102.7 951.5,102.7 952,102.7 952.5,102.7 953,102.7 953.5,102.7 954,102.7 954.5,102.7 955,102.7 955.5,102.7 956,102.7 956.5,102.7 957,102.7 957.5,102.7 958,102.7 958.5,102.7 959,102.7 959.5,102.7 960,102.7 960.5,102.7 961,102.7 961.5,102.7 962,102.7 962.5,102.7 963,102.7 963.5,102.7 964,102.7 964.5,102.7 965,102.7 965.5,102.7 966,102.7" fill="none" stroke="#77AC30" stroke-width="4.2" stroke-linejoin="round" stroke-linecap="butt"/>
<rect x="569.5" y="11.9" width="396.80" height="916.50" fill="none" stroke="#000" stroke-width="4.3"/>
<text x="552.6" y="930.9" font-size="29" text-anchor="end" font-weight="normal" transform="matrix(1 0 0 1.03 0 -27.927)" >0</text>
<text x="555.0" y="840.1" font-size="29" text-anchor="end" font-weight="normal" transform="matrix(1 0 0 1.03 0 -25.203)" >0.5</text>
<text x="552.6" y="749.3" font-size="29" text-anchor="end" font-weight="normal" transform="matrix(1 0 0 1.03 0 -22.479)" >1</text>
<text x="555.0" y="658.5" font-size="29" text-anchor="end" font-weight="normal" transform="matrix(1 0 0 1.03 0 -19.755)" >1.5</text>
<text x="552.6" y="567.7" font-size="29" text-anchor="end" font-weight="normal" transform="matrix(1 0 0 1.03 0 -17.031)" >2</text>
<text x="555.0" y="476.9" font-size="29" text-anchor="end" font-weight="normal" transform="matrix(1 0 0 1.03 0 -14.307)" >2.5</text>
<text x="552.6" y="386.1" font-size="29" text-anchor="end" font-weight="normal" transform="matrix(1 0 0 1.03 0 -11.583)" >3</text>
<text x="555.0" y="295.3" font-size="29" text-anchor="end" font-weight="normal" transform="matrix(1 0 0 1.03 0 -8.859)" >3.5</text>
<text x="552.6" y="204.5" font-size="29" text-anchor="end" font-weight="normal" transform="matrix(1 0 0 1.03 0 -6.135)" >4</text>
<text x="555.0" y="113.7" font-size="29" text-anchor="end" font-weight="normal" transform="matrix(1 0 0 1.03 0 -3.411)" >4.5</text>
<text x="552.6" y="22.9" font-size="29" text-anchor="end" font-weight="normal" transform="matrix(1 0 0 1.03 0 -0.687)" >5</text>
<text x="635.0" y="974.8" font-size="29" text-anchor="middle" font-weight="normal" transform="matrix(1 0 0 1.04 0 -38.992)" >-50</text>
<text x="767.5" y="974.8" font-size="29" text-anchor="middle" font-weight="normal" transform="matrix(1 0 0 1.04 0 -38.992)" >0</text>
<text x="900.0" y="974.8" font-size="29" text-anchor="middle" font-weight="normal" transform="matrix(1 0 0 1.04 0 -38.992)" >50</text>
<text x="687.3000000000001" y="1022" font-size="30" text-anchor="start" font-weight="normal" letter-spacing="1.18">Bias (meV)</text>
<text x="0" y="0" font-size="30" letter-spacing="0.96" transform="translate(491,620.4) rotate(-90)">Local spectral weight</text>
<line x1="988.2" y1="58" x2="988.2" y2="906" stroke="#000" stroke-width="4.5"/>
<path d="M988.20,42.50 L994.10,62.50 L988.20,58.50 L982.30,62.50 Z" fill="#000"/>
<path d="M988.20,921.60 L982.30,901.60 L988.20,905.60 L994.10,901.60 Z" fill="#000"/>
<line x1="981.8" y1="237.6" x2="994.7" y2="237.6" stroke="#000" stroke-width="4.2"/>
<line x1="981.8" y1="510.3" x2="994.7" y2="510.3" stroke="#000" stroke-width="4.2"/>
<line x1="981.8" y1="782.2" x2="994.7" y2="782.2" stroke="#000" stroke-width="4.2"/>
<text x="1004" y="244.7" font-size="29" text-anchor="start" font-weight="normal" >n</text>
<text x="1019" y="251" font-size="16" text-anchor="start" font-weight="normal" >0</text>
<text x="1003.5" y="521" font-size="29" text-anchor="start" font-weight="normal" >0</text>
<text x="1003.5" y="790" font-size="29" text-anchor="start" font-weight="normal" >-n</text>
<text x="1029" y="796.3" font-size="15.5" text-anchor="start" font-weight="normal" >0</text>
<text x="-0.5" y="583.8" font-size="31.5" text-anchor="start" font-weight="bold" >c</text>
<path d="M109.00,937.8v-5.6 M109.00,603.0v5.6 M270.00,937.8v-5.6 M270.00,603.0v5.6 M431.00,937.8v-5.6 M431.00,603.0v5.6 M109.0,937.80h5.4 M431.0,937.80h-5.4 M109.0,849.70h5.4 M431.0,849.70h-5.4 M109.0,761.60h5.4 M431.0,761.60h-5.4 M109.0,673.50h5.4 M431.0,673.50h-5.4" stroke="#000" stroke-width="4" fill="none"/>
<rect x="109.0" y="603.0" width="322.0" height="334.79999999999995" fill="none" stroke="#000" stroke-width="4"/>
<polyline points="109.00,936.80 125.10,923.90 141.20,911.20 157.30,896.80 173.40,881.30 189.50,865.40 205.60,850.80 221.70,835.10 237.80,820.70 253.90,806.60 270.00,791.30 286.10,777.00 302.20,761.40 318.30,746.50 334.40,731.50 350.50,716.80 366.60,701.20 382.70,686.90 398.80,671.40 414.90,657.00 431.00,641.40" fill="none" stroke="#0072BD" stroke-width="3.5"/>
<circle cx="109.00" cy="936.80" r="8.0" fill="none" stroke="#0072BD" stroke-width="4"/>
<circle cx="125.10" cy="923.90" r="8.0" fill="none" stroke="#0072BD" stroke-width="4"/>
<circle cx="141.20" cy="911.20" r="8.0" fill="none" stroke="#0072BD" stroke-width="4"/>
<circle cx="157.30" cy="896.80" r="8.0" fill="none" stroke="#0072BD" stroke-width="4"/>
<circle cx="173.40" cy="881.30" r="8.0" fill="none" stroke="#0072BD" stroke-width="4"/>
<circle cx="189.50" cy="865.40" r="8.0" fill="none" stroke="#0072BD" stroke-width="4"/>
<circle cx="205.60" cy="850.80" r="8.0" fill="none" stroke="#0072BD" stroke-width="4"/>
<circle cx="221.70" cy="835.10" r="8.0" fill="none" stroke="#0072BD" stroke-width="4"/>
<circle cx="237.80" cy="820.70" r="8.0" fill="none" stroke="#0072BD" stroke-width="4"/>
<circle cx="253.90" cy="806.60" r="8.0" fill="none" stroke="#0072BD" stroke-width="4"/>
<circle cx="270.00" cy="791.30" r="8.0" fill="none" stroke="#0072BD" stroke-width="4"/>
<circle cx="286.10" cy="777.00" r="8.0" fill="none" stroke="#0072BD" stroke-width="4"/>
<circle cx="302.20" cy="761.40" r="8.0" fill="none" stroke="#0072BD" stroke-width="4"/>
<circle cx="318.30" cy="746.50" r="8.0" fill="none" stroke="#0072BD" stroke-width="4"/>
<circle cx="334.40" cy="731.50" r="8.0" fill="none" stroke="#0072BD" stroke-width="4"/>
<circle cx="350.50" cy="716.80" r="8.0" fill="none" stroke="#0072BD" stroke-width="4"/>
<circle cx="366.60" cy="701.20" r="8.0" fill="none" stroke="#0072BD" stroke-width="4"/>
<circle cx="382.70" cy="686.90" r="8.0" fill="none" stroke="#0072BD" stroke-width="4"/>
<circle cx="398.80" cy="671.40" r="8.0" fill="none" stroke="#0072BD" stroke-width="4"/>
<circle cx="414.90" cy="657.00" r="8.0" fill="none" stroke="#0072BD" stroke-width="4"/>
<circle cx="431.00" cy="641.40" r="8.0" fill="none" stroke="#0072BD" stroke-width="4"/>
<text x="92.5" y="948.3" font-size="29" text-anchor="end" font-weight="normal" transform="matrix(1 0 0 1.1 0 -94.830)" >0</text>
<text x="92.5" y="860.2" font-size="29" text-anchor="end" font-weight="normal" transform="matrix(1 0 0 1.1 0 -86.020)" >10</text>
<text x="92.5" y="772.1" font-size="29" text-anchor="end" font-weight="normal" transform="matrix(1 0 0 1.1 0 -77.210)" >20</text>
<text x="92.5" y="684.0" font-size="29" text-anchor="end" font-weight="normal" transform="matrix(1 0 0 1.1 0 -68.400)" >30</text>
<text x="108.2" y="983.3" font-size="29" text-anchor="middle" font-weight="normal" transform="matrix(1 0 0 1.1 0 -98.330)" >0</text>
<text x="269.2" y="983.3" font-size="29" text-anchor="middle" font-weight="normal" transform="matrix(1 0 0 1.1 0 -98.330)" >5</text>
<text x="430.2" y="983.3" font-size="29" text-anchor="middle" font-weight="normal" transform="matrix(1 0 0 1.1 0 -98.330)" >10</text>
<text x="239.4" y="1028.2" font-size="30" text-anchor="start" font-weight="normal" letter-spacing="1.6">U/6t</text>
<text x="0" y="0" font-size="29.5" letter-spacing="1.8" transform="translate(40.3,905.5) rotate(-90)">Broadening (meV)</text>
</g></svg>
</body></html>
